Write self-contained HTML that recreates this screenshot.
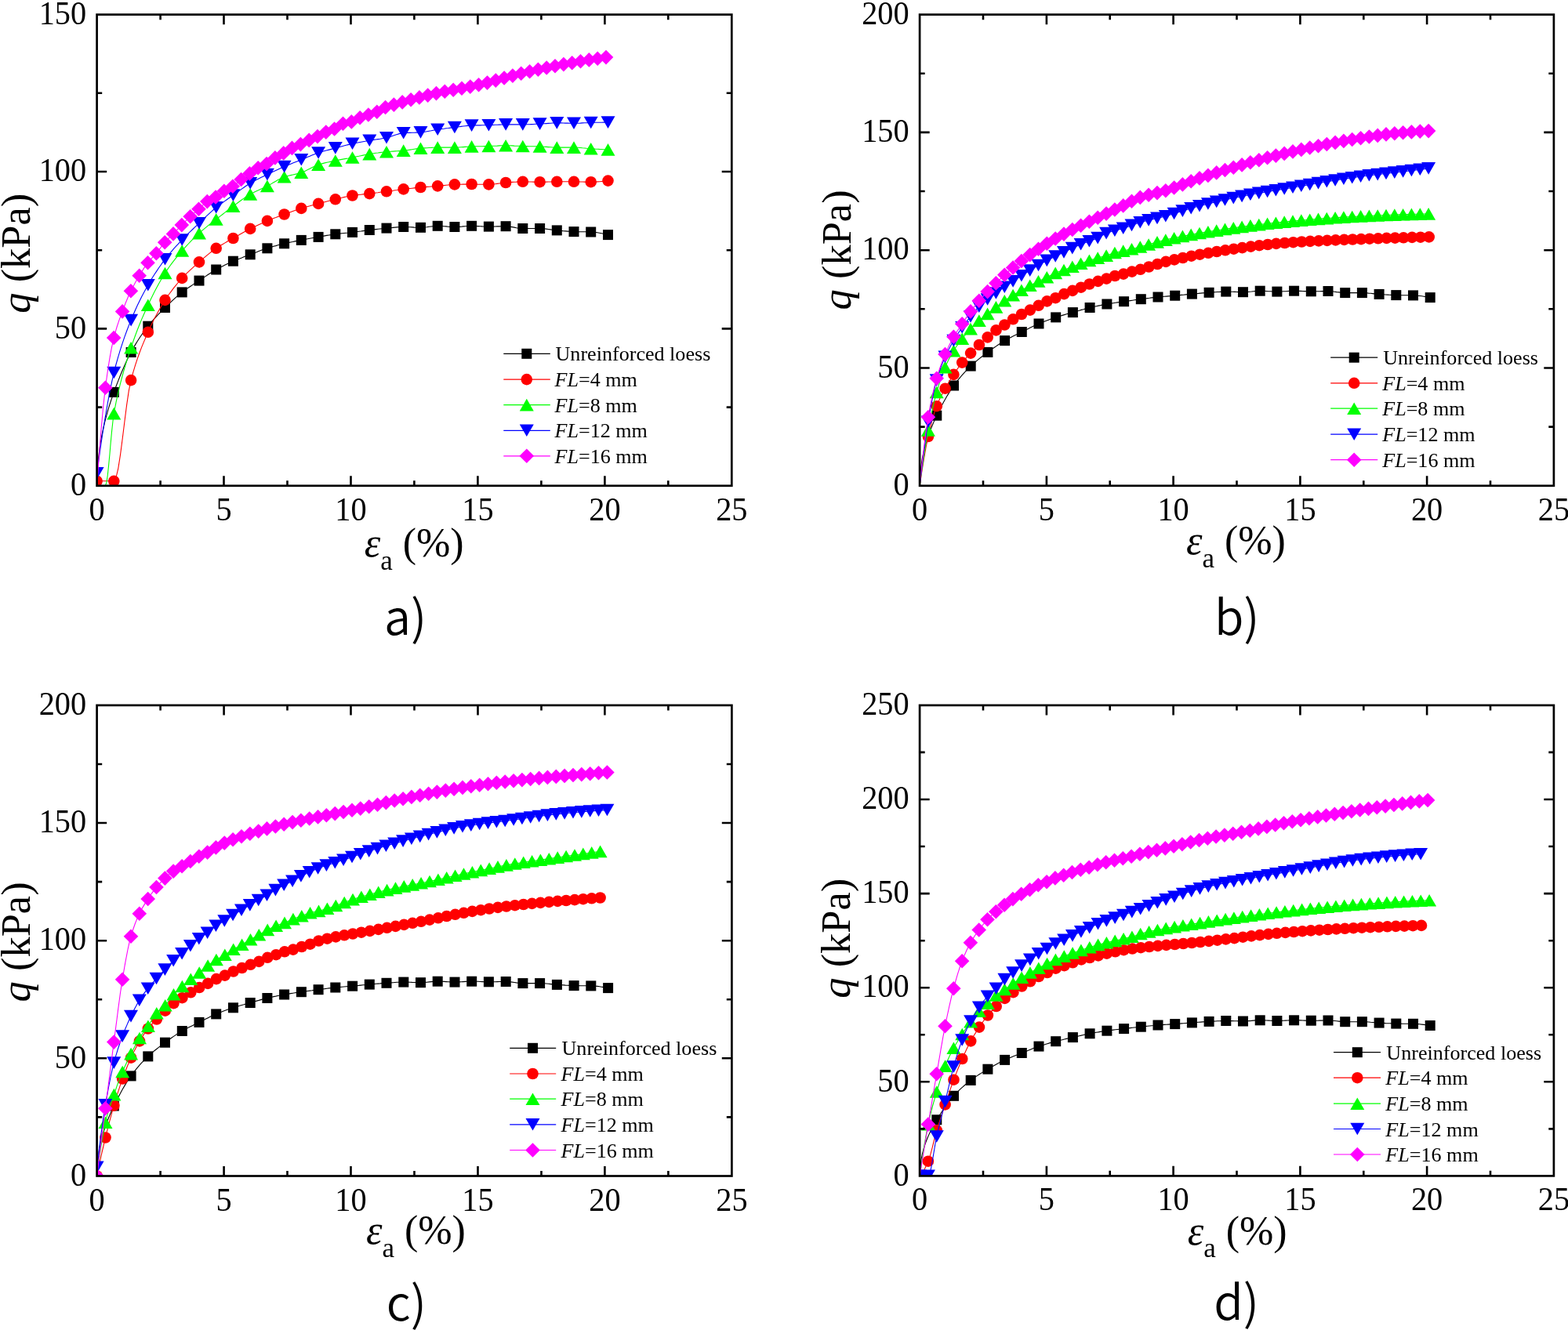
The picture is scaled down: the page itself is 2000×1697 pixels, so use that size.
<!DOCTYPE html>
<html><head><meta charset="utf-8"><title>Stress-strain curves</title>
<style>html,body{margin:0;padding:0;background:#fff;overflow:hidden}svg{display:block}</style></head>
<body><svg width="2000" height="1697" viewBox="0 0 2000 1697">
<rect width="2000" height="1697" fill="#fff"/>
<clipPath id="clipa"><rect x="123.6" y="18.6" width="809.7" height="601.2"/></clipPath>
<g clip-path="url(#clipa)">
<path d="M123.6 619.8L125.3 586.7L126.9 573.0L128.6 562.4L130.3 553.5L132.0 545.7L133.6 538.7L135.3 532.2L137.0 526.1L138.6 520.4L140.3 515.0L142.0 509.9L143.7 505.0L145.3 500.4L145.3 500.4L148.0 493.0L150.8 485.9L153.5 479.0L156.2 472.5L158.9 466.2L161.6 460.3L164.3 454.7L167.1 449.5L169.8 444.6L172.5 439.9L175.2 435.5L177.9 431.3L180.6 427.2L183.4 423.4L186.1 419.7L188.8 416.2L191.5 412.8L194.2 409.6L196.9 406.5L199.7 403.6L202.4 400.7L205.1 398.0L207.8 395.2L210.5 392.5L213.2 389.9L215.9 387.3L218.7 384.7L221.4 382.2L224.1 379.7L226.8 377.3L229.5 375.1L232.2 372.9L235.0 370.8L237.7 368.9L240.4 367.0L243.1 365.2L245.8 363.4L248.5 361.6L251.3 359.9L254.0 358.1L256.7 356.3L259.4 354.4L262.1 352.6L264.8 350.8L267.6 349.0L270.3 347.3L273.0 345.6L275.7 344.0L278.4 342.5L281.1 341.1L283.9 339.7L286.6 338.3L289.3 337.0L292.0 335.7L294.7 334.4L297.4 333.2L300.1 332.1L302.9 331.0L305.6 329.9L308.3 328.9L311.0 327.8L313.7 326.8L316.4 325.8L319.2 324.8L321.9 323.8L324.6 322.7L327.3 321.7L330.0 320.6L332.7 319.6L335.5 318.6L338.2 317.7L340.9 316.8L343.6 315.9L346.3 315.1L349.0 314.3L351.8 313.6L354.5 312.8L357.2 312.1L359.9 311.4L362.6 310.8L365.3 310.2L368.1 309.6L370.8 309.0L373.5 308.5L376.2 307.9L378.9 307.4L381.6 306.9L384.3 306.4L387.1 305.9L389.8 305.3L392.5 304.8L395.2 304.3L397.9 303.8L400.6 303.3L403.4 302.8L406.1 302.4L408.8 301.9L411.5 301.4L414.2 300.9L416.9 300.4L419.7 300.0L422.4 299.6L425.1 299.1L427.8 298.8L430.5 298.4L433.2 298.1L436.0 297.8L438.7 297.5L441.4 297.2L444.1 297.0L446.8 296.7L449.5 296.4L452.3 296.0L455.0 295.7L457.7 295.3L460.4 295.0L463.1 294.6L465.8 294.2L468.5 293.9L471.3 293.5L474.0 293.2L476.7 292.9L479.4 292.6L482.1 292.3L484.8 292.0L487.6 291.7L490.3 291.4L493.0 291.1L495.7 290.9L498.4 290.6L501.1 290.4L503.9 290.1L506.6 289.9L509.3 289.7L512.0 289.6L514.7 289.5L517.4 289.6L520.2 289.7L522.9 289.8L525.6 289.9L528.3 290.1L531.0 290.2L533.7 290.3L536.5 290.3L539.2 290.3L541.9 290.0L544.6 289.7L547.3 289.3L550.0 289.0L552.7 288.7L555.5 288.4L558.2 288.3L560.9 288.4L563.6 288.5L566.3 288.7L569.0 288.9L571.8 289.2L574.5 289.4L577.2 289.5L579.9 289.5L582.6 289.5L585.3 289.4L588.1 289.2L590.8 288.9L593.5 288.7L596.2 288.5L598.9 288.4L601.6 288.3L604.4 288.4L607.1 288.5L609.8 288.6L612.5 288.7L615.2 288.9L617.9 289.0L620.7 289.1L623.4 289.1L626.1 289.1L628.8 289.1L631.5 289.0L634.2 288.9L637.0 288.9L639.7 288.8L642.4 288.8L645.1 288.7L647.8 288.9L650.5 289.2L653.2 289.6L656.0 290.1L658.7 290.7L661.4 291.1L664.1 291.4L666.8 291.5L669.5 291.5L672.3 291.5L675.0 291.5L677.7 291.5L680.4 291.5L683.1 291.5L685.8 291.5L688.6 291.5L691.3 291.6L694.0 291.8L696.7 292.1L699.4 292.5L702.1 292.9L704.9 293.3L707.6 293.7L710.3 293.9L713.0 294.2L715.7 294.4L718.4 294.7L721.2 294.9L723.9 295.1L726.6 295.3L729.3 295.4L732.0 295.6L734.7 295.6L737.4 295.7L740.2 295.7L742.9 295.7L745.6 295.8L748.3 295.8L751.0 295.9L753.7 296.0L756.5 296.1L759.2 296.4L761.9 296.7L764.6 297.2L767.3 297.7L770.0 298.3L772.8 298.9L775.5 299.6" fill="none" stroke="#000000" stroke-width="1.1"/>
<g fill="#000000"><rect x="138.8" y="493.9" width="13.0" height="13.0"/><rect x="160.6" y="443.0" width="13.0" height="13.0"/><rect x="182.3" y="409.7" width="13.0" height="13.0"/><rect x="204.0" y="386.0" width="13.0" height="13.0"/><rect x="225.7" y="366.4" width="13.0" height="13.0"/><rect x="247.5" y="351.6" width="13.0" height="13.0"/><rect x="269.2" y="337.5" width="13.0" height="13.0"/><rect x="290.9" y="326.7" width="13.0" height="13.0"/><rect x="312.7" y="318.3" width="13.0" height="13.0"/><rect x="334.4" y="310.3" width="13.0" height="13.0"/><rect x="356.1" y="304.3" width="13.0" height="13.0"/><rect x="377.8" y="299.9" width="13.0" height="13.0"/><rect x="399.6" y="295.9" width="13.0" height="13.0"/><rect x="421.3" y="292.3" width="13.0" height="13.0"/><rect x="443.0" y="289.9" width="13.0" height="13.0"/><rect x="464.8" y="287.0" width="13.0" height="13.0"/><rect x="486.5" y="284.6" width="13.0" height="13.0"/><rect x="508.2" y="283.0" width="13.0" height="13.0"/><rect x="530.0" y="283.8" width="13.0" height="13.0"/><rect x="551.7" y="281.8" width="13.0" height="13.0"/><rect x="573.4" y="283.0" width="13.0" height="13.0"/><rect x="595.1" y="281.8" width="13.0" height="13.0"/><rect x="616.9" y="282.6" width="13.0" height="13.0"/><rect x="638.6" y="282.2" width="13.0" height="13.0"/><rect x="660.3" y="285.0" width="13.0" height="13.0"/><rect x="682.1" y="285.0" width="13.0" height="13.0"/><rect x="703.8" y="287.4" width="13.0" height="13.0"/><rect x="725.5" y="289.1" width="13.0" height="13.0"/><rect x="747.2" y="289.5" width="13.0" height="13.0"/><rect x="769.0" y="293.1" width="13.0" height="13.0"/></g>
<path d="M123.6 613.8L125.0 613.8L126.3 613.8L127.7 613.8L129.0 613.8L130.4 613.8L131.7 613.8L133.1 613.8L134.4 613.8L135.8 613.8L137.2 613.8L138.5 613.8L139.9 613.8L141.2 613.8L142.6 613.8L144.0 613.8L145.3 613.8L148.0 609.4L150.8 597.6L153.5 580.4L156.2 559.8L158.9 538.0L161.6 516.9L164.3 498.6L167.1 485.1L169.8 475.2L172.5 466.2L175.2 457.9L177.9 450.2L180.6 443.1L183.4 436.4L186.1 430.0L188.8 423.8L191.5 417.8L194.2 412.1L196.9 406.6L199.7 401.4L202.4 396.4L205.1 391.7L207.8 387.2L210.5 382.9L213.2 378.9L215.9 375.0L218.7 371.3L221.4 367.7L224.1 364.3L226.8 361.0L229.5 357.9L232.2 354.9L235.0 352.0L237.7 349.2L240.4 346.6L243.1 344.1L245.8 341.6L248.5 339.2L251.3 336.8L254.0 334.4L256.7 332.1L259.4 329.7L262.1 327.4L264.8 325.1L267.6 322.9L270.3 320.8L273.0 318.7L275.7 316.8L278.4 315.0L281.1 313.3L283.9 311.7L286.6 310.1L289.3 308.5L292.0 307.0L294.7 305.5L297.4 304.0L300.1 302.4L302.9 300.9L305.6 299.3L308.3 297.8L311.0 296.3L313.7 294.8L316.4 293.3L319.2 291.9L321.9 290.6L324.6 289.3L327.3 288.0L330.0 286.7L332.7 285.5L335.5 284.3L338.2 283.1L340.9 281.9L343.6 280.8L346.3 279.7L349.0 278.6L351.8 277.6L354.5 276.5L357.2 275.5L359.9 274.5L362.6 273.5L365.3 272.5L368.1 271.5L370.8 270.5L373.5 269.5L376.2 268.6L378.9 267.7L381.6 266.8L384.3 265.9L387.1 265.1L389.8 264.3L392.5 263.5L395.2 262.8L397.9 262.0L400.6 261.3L403.4 260.6L406.1 259.9L408.8 259.2L411.5 258.4L414.2 257.7L416.9 257.0L419.7 256.3L422.4 255.6L425.1 254.9L427.8 254.3L430.5 253.6L433.2 252.9L436.0 252.3L438.7 251.6L441.4 251.0L444.1 250.4L446.8 249.9L449.5 249.5L452.3 249.1L455.0 248.8L457.7 248.5L460.4 248.2L463.1 247.9L465.8 247.6L468.5 247.4L471.3 247.1L474.0 246.7L476.7 246.4L479.4 246.0L482.1 245.7L484.8 245.3L487.6 245.0L490.3 244.6L493.0 244.3L495.7 243.9L498.4 243.5L501.1 243.2L503.9 242.8L506.6 242.5L509.3 242.1L512.0 241.8L514.7 241.4L517.4 241.1L520.2 240.8L522.9 240.5L525.6 240.2L528.3 239.9L531.0 239.6L533.7 239.3L536.5 239.0L539.2 238.8L541.9 238.6L544.6 238.4L547.3 238.2L550.0 238.0L552.7 237.8L555.5 237.6L558.2 237.4L560.9 237.2L563.6 236.9L566.3 236.6L569.0 236.3L571.8 236.0L574.5 235.8L577.2 235.6L579.9 235.4L582.6 235.4L585.3 235.3L588.1 235.2L590.8 235.1L593.5 235.1L596.2 235.1L598.9 235.0L601.6 235.0L604.4 235.0L607.1 235.1L609.8 235.2L612.5 235.2L615.2 235.3L617.9 235.4L620.7 235.4L623.4 235.4L626.1 235.4L628.8 235.1L631.5 234.8L634.2 234.4L637.0 234.0L639.7 233.6L642.4 233.3L645.1 233.0L647.8 232.8L650.5 232.6L653.2 232.4L656.0 232.2L658.7 232.1L661.4 231.9L664.1 231.9L666.8 231.8L669.5 231.8L672.3 231.9L675.0 232.0L677.7 232.0L680.4 232.1L683.1 232.2L685.8 232.2L688.6 232.2L691.3 232.2L694.0 232.2L696.7 232.1L699.4 232.0L702.1 232.0L704.9 231.9L707.6 231.8L710.3 231.8L713.0 231.8L715.7 231.8L718.4 231.8L721.2 231.8L723.9 231.8L726.6 231.8L729.3 231.8L732.0 231.8L734.7 231.8L737.4 231.9L740.2 232.0L742.9 232.0L745.6 232.1L748.3 232.2L751.0 232.2L753.7 232.2L756.5 232.2L759.2 232.1L761.9 231.9L764.6 231.8L767.3 231.5L770.0 231.2L772.8 230.9L775.5 230.6" fill="none" stroke="#ff0000" stroke-width="1.1"/>
<g fill="#ff0000"><circle cx="123.6" cy="613.8" r="7.3"/><circle cx="145.3" cy="613.8" r="7.3"/><circle cx="167.1" cy="485.1" r="7.3"/><circle cx="188.8" cy="423.8" r="7.3"/><circle cx="210.5" cy="382.9" r="7.3"/><circle cx="232.2" cy="354.9" r="7.3"/><circle cx="254.0" cy="334.4" r="7.3"/><circle cx="275.7" cy="316.8" r="7.3"/><circle cx="297.4" cy="304.0" r="7.3"/><circle cx="319.2" cy="291.9" r="7.3"/><circle cx="340.9" cy="281.9" r="7.3"/><circle cx="362.6" cy="273.5" r="7.3"/><circle cx="384.3" cy="265.9" r="7.3"/><circle cx="406.1" cy="259.9" r="7.3"/><circle cx="427.8" cy="254.3" r="7.3"/><circle cx="449.5" cy="249.5" r="7.3"/><circle cx="471.3" cy="247.1" r="7.3"/><circle cx="493.0" cy="244.3" r="7.3"/><circle cx="514.7" cy="241.4" r="7.3"/><circle cx="536.5" cy="239.0" r="7.3"/><circle cx="558.2" cy="237.4" r="7.3"/><circle cx="579.9" cy="235.4" r="7.3"/><circle cx="601.6" cy="235.0" r="7.3"/><circle cx="623.4" cy="235.4" r="7.3"/><circle cx="645.1" cy="233.0" r="7.3"/><circle cx="666.8" cy="231.8" r="7.3"/><circle cx="688.6" cy="232.2" r="7.3"/><circle cx="710.3" cy="231.8" r="7.3"/><circle cx="732.0" cy="231.8" r="7.3"/><circle cx="753.7" cy="232.2" r="7.3"/><circle cx="775.5" cy="230.6" r="7.3"/></g>
<path d="M123.6 623.8L125.0 623.7L126.3 623.5L127.7 623.2L129.0 622.8L130.4 622.2L131.7 621.5L133.1 620.7L134.4 619.8L135.8 615.9L137.2 607.1L138.5 594.8L139.9 580.3L141.2 564.9L142.6 550.1L144.0 537.2L145.3 527.6L148.0 513.4L150.8 500.7L153.5 489.3L156.2 479.0L158.9 469.5L161.6 460.6L164.3 452.1L167.1 443.8L169.8 435.8L172.5 428.2L175.2 421.0L177.9 414.2L180.6 407.6L183.4 401.3L186.1 395.3L188.8 389.3L191.5 383.6L194.2 378.0L196.9 372.5L199.7 367.3L202.4 362.2L205.1 357.4L207.8 352.8L210.5 348.5L213.2 344.4L215.9 340.5L218.7 336.7L221.4 333.2L224.1 329.7L226.8 326.4L229.5 323.2L232.2 320.0L235.0 316.9L237.7 313.9L240.4 311.0L243.1 308.1L245.8 305.3L248.5 302.7L251.3 300.1L254.0 297.6L256.7 295.1L259.4 292.8L262.1 290.6L264.8 288.4L267.6 286.3L270.3 284.2L273.0 282.1L275.7 279.9L278.4 277.8L281.1 275.6L283.9 273.5L286.6 271.4L289.3 269.2L292.0 267.2L294.7 265.1L297.4 263.1L300.1 261.1L302.9 259.0L305.6 257.0L308.3 255.0L311.0 253.1L313.7 251.2L316.4 249.5L319.2 247.9L321.9 246.4L324.6 245.0L327.3 243.7L330.0 242.5L332.7 241.3L335.5 240.0L338.2 238.8L340.9 237.4L343.6 236.0L346.3 234.4L349.0 232.8L351.8 231.2L354.5 229.6L357.2 228.2L359.9 226.9L362.6 225.8L365.3 224.9L368.1 224.2L370.8 223.6L373.5 223.0L376.2 222.4L378.9 221.7L381.6 221.0L384.3 220.2L387.1 219.2L389.8 217.9L392.5 216.6L395.2 215.2L397.9 213.7L400.6 212.4L403.4 211.2L406.1 210.2L408.8 209.4L411.5 208.6L414.2 207.9L416.9 207.3L419.7 206.7L422.4 206.1L425.1 205.5L427.8 205.0L430.5 204.4L433.2 203.9L436.0 203.4L438.7 202.9L441.4 202.4L444.1 202.0L446.8 201.5L449.5 201.0L452.3 200.4L455.0 199.8L457.7 199.3L460.4 198.7L463.1 198.1L465.8 197.5L468.5 197.0L471.3 196.6L474.0 196.1L476.7 195.7L479.4 195.3L482.1 195.0L484.8 194.6L487.6 194.3L490.3 194.0L493.0 193.7L495.7 193.5L498.4 193.3L501.1 193.1L503.9 192.9L506.6 192.8L509.3 192.6L512.0 192.4L514.7 192.1L517.4 191.9L520.2 191.5L522.9 191.1L525.6 190.7L528.3 190.3L531.0 189.9L533.7 189.6L536.5 189.3L539.2 189.1L541.9 188.9L544.6 188.7L547.3 188.5L550.0 188.4L552.7 188.2L555.5 188.2L558.2 188.1L560.9 188.1L563.6 188.1L566.3 188.1L569.0 188.1L571.8 188.1L574.5 188.1L577.2 188.1L579.9 188.1L582.6 188.1L585.3 188.0L588.1 187.8L590.8 187.6L593.5 187.4L596.2 187.2L598.9 187.0L601.6 186.9L604.4 186.9L607.1 186.8L609.8 186.8L612.5 186.7L615.2 186.7L617.9 186.6L620.7 186.6L623.4 186.5L626.1 186.4L628.8 186.3L631.5 186.2L634.2 186.1L637.0 185.9L639.7 185.8L642.4 185.8L645.1 185.7L647.8 185.8L650.5 185.8L653.2 185.9L656.0 186.1L658.7 186.2L661.4 186.3L664.1 186.4L666.8 186.5L669.5 186.6L672.3 186.6L675.0 186.7L677.7 186.7L680.4 186.8L683.1 186.8L685.8 186.9L688.6 186.9L691.3 187.0L694.0 187.2L696.7 187.4L699.4 187.6L702.1 187.8L704.9 188.0L707.6 188.1L710.3 188.1L713.0 188.1L715.7 188.1L718.4 188.1L721.2 188.1L723.9 188.1L726.6 188.1L729.3 188.1L732.0 188.1L734.7 188.2L737.4 188.3L740.2 188.5L742.9 188.8L745.6 189.0L748.3 189.3L751.0 189.5L753.7 189.7L756.5 189.9L759.2 190.1L761.9 190.2L764.6 190.4L767.3 190.5L770.0 190.7L772.8 190.8L775.5 190.9" fill="none" stroke="#00ff00" stroke-width="1.1"/>
<g fill="#00ff00"><path d="M123.6 616.0L132.6 631.6L114.6 631.6Z"/><path d="M145.3 519.8L154.3 535.4L136.3 535.4Z"/><path d="M167.1 436.0L176.1 451.6L158.1 451.6Z"/><path d="M188.8 381.5L197.8 397.1L179.8 397.1Z"/><path d="M210.5 340.7L219.5 356.3L201.5 356.3Z"/><path d="M232.2 312.2L241.2 327.8L223.2 327.8Z"/><path d="M254.0 289.8L263.0 305.4L245.0 305.4Z"/><path d="M275.7 272.1L284.7 287.7L266.7 287.7Z"/><path d="M297.4 255.3L306.4 270.9L288.4 270.9Z"/><path d="M319.2 240.1L328.2 255.7L310.2 255.7Z"/><path d="M340.9 229.6L349.9 245.2L331.9 245.2Z"/><path d="M362.6 218.0L371.6 233.6L353.6 233.6Z"/><path d="M384.3 212.4L393.3 228.0L375.3 228.0Z"/><path d="M406.1 202.4L415.1 218.0L397.1 218.0Z"/><path d="M427.8 197.2L436.8 212.8L418.8 212.8Z"/><path d="M449.5 193.2L458.5 208.8L440.5 208.8Z"/><path d="M471.3 188.8L480.3 204.4L462.3 204.4Z"/><path d="M493.0 185.9L502.0 201.5L484.0 201.5Z"/><path d="M514.7 184.3L523.7 199.9L505.7 199.9Z"/><path d="M536.5 181.5L545.5 197.1L527.5 197.1Z"/><path d="M558.2 180.3L567.2 195.9L549.2 195.9Z"/><path d="M579.9 180.3L588.9 195.9L570.9 195.9Z"/><path d="M601.6 179.1L610.6 194.7L592.6 194.7Z"/><path d="M623.4 178.7L632.4 194.3L614.4 194.3Z"/><path d="M645.1 177.9L654.1 193.5L636.1 193.5Z"/><path d="M666.8 178.7L675.8 194.3L657.8 194.3Z"/><path d="M688.6 179.1L697.6 194.7L679.6 194.7Z"/><path d="M710.3 180.3L719.3 195.9L701.3 195.9Z"/><path d="M732.0 180.3L741.0 195.9L723.0 195.9Z"/><path d="M753.7 181.9L762.7 197.5L744.7 197.5Z"/><path d="M775.5 183.1L784.5 198.7L766.5 198.7Z"/></g>
<path d="M123.6 603.8L126.3 584.3L129.0 565.5L131.7 547.6L134.5 530.8L137.2 515.0L139.9 500.5L142.6 487.3L145.3 475.5L148.0 465.0L150.8 455.2L153.5 446.2L156.2 437.8L158.9 429.9L161.6 422.5L164.3 415.4L167.1 408.6L169.8 402.0L172.5 395.8L175.2 389.8L177.9 384.2L180.6 378.7L183.4 373.5L186.1 368.5L188.8 363.7L191.5 359.0L194.2 354.5L196.9 350.2L199.7 346.1L202.4 342.0L205.1 338.2L207.8 334.4L210.5 330.8L213.2 327.4L215.9 324.0L218.7 320.8L221.4 317.7L224.1 314.7L226.8 311.8L229.5 308.8L232.2 306.0L235.0 303.2L237.7 300.4L240.4 297.7L243.1 295.1L245.8 292.5L248.5 289.9L251.3 287.3L254.0 284.7L256.7 282.1L259.4 279.5L262.1 276.9L264.8 274.3L267.6 271.8L270.3 269.3L273.0 267.0L275.7 264.7L278.4 262.5L281.1 260.5L283.9 258.5L286.6 256.6L289.3 254.7L292.0 252.8L294.7 251.0L297.4 249.1L300.1 247.1L302.9 245.1L305.6 243.1L308.3 241.1L311.0 239.2L313.7 237.3L316.4 235.5L319.2 233.8L321.9 232.3L324.6 230.8L327.3 229.3L330.0 227.9L332.7 226.6L335.5 225.2L338.2 223.9L340.9 222.6L343.6 221.3L346.3 220.0L349.0 218.7L351.8 217.4L354.5 216.2L357.2 215.0L359.9 213.8L362.6 212.6L365.3 211.4L368.1 210.3L370.8 209.2L373.5 208.1L376.2 207.0L378.9 205.9L381.6 204.9L384.3 203.8L387.1 202.6L389.8 201.5L392.5 200.3L395.2 199.2L397.9 198.0L400.6 196.9L403.4 195.9L406.1 195.0L408.8 194.1L411.5 193.3L414.2 192.5L416.9 191.8L419.7 191.1L422.4 190.4L425.1 189.7L427.8 188.9L430.5 188.2L433.2 187.5L436.0 186.7L438.7 186.0L441.4 185.3L444.1 184.6L446.8 183.9L449.5 183.3L452.3 182.8L455.0 182.2L457.7 181.7L460.4 181.2L463.1 180.7L465.8 180.3L468.5 179.8L471.3 179.3L474.0 178.9L476.7 178.4L479.4 178.0L482.1 177.6L484.8 177.2L487.6 176.7L490.3 176.2L493.0 175.7L495.7 175.0L498.4 174.2L501.1 173.3L503.9 172.3L506.6 171.4L509.3 170.6L512.0 170.0L514.7 169.7L517.4 169.5L520.2 169.4L522.9 169.4L525.6 169.3L528.3 169.2L531.0 169.1L533.7 169.0L536.5 168.9L539.2 168.7L541.9 168.3L544.6 167.8L547.3 167.3L550.0 166.8L552.7 166.2L555.5 165.7L558.2 165.3L560.9 164.9L563.6 164.5L566.3 164.2L569.0 163.8L571.8 163.5L574.5 163.1L577.2 162.8L579.9 162.5L582.6 162.1L585.3 161.8L588.1 161.4L590.8 161.0L593.5 160.7L596.2 160.4L598.9 160.2L601.6 160.1L604.4 160.0L607.1 159.9L609.8 159.9L612.5 159.9L615.2 159.8L617.9 159.8L620.7 159.7L623.4 159.7L626.1 159.6L628.8 159.5L631.5 159.3L634.2 159.2L637.0 159.1L639.7 159.0L642.4 158.9L645.1 158.9L647.8 158.9L650.5 158.9L653.2 158.9L656.0 158.9L658.7 158.9L661.4 158.9L664.1 158.9L666.8 158.9L669.5 158.9L672.3 158.8L675.0 158.7L677.7 158.6L680.4 158.5L683.1 158.3L685.8 158.2L688.6 158.1L691.3 157.9L694.0 157.8L696.7 157.6L699.4 157.4L702.1 157.2L704.9 157.0L707.6 156.9L710.3 156.9L713.0 156.9L715.7 156.9L718.4 157.0L721.2 157.1L723.9 157.1L726.6 157.2L729.3 157.3L732.0 157.3L734.7 157.2L737.4 157.2L740.2 157.1L742.9 156.9L745.6 156.8L748.3 156.7L751.0 156.6L753.7 156.5L756.5 156.4L759.2 156.3L761.9 156.3L764.6 156.2L767.3 156.2L770.0 156.1L772.8 156.1L775.5 156.1" fill="none" stroke="#0000ff" stroke-width="1.1"/>
<g fill="#0000ff"><path d="M114.6 596.0L132.6 596.0L123.6 611.6Z"/><path d="M136.3 467.7L154.3 467.7L145.3 483.3Z"/><path d="M158.1 400.8L176.1 400.8L167.1 416.4Z"/><path d="M179.8 355.9L197.8 355.9L188.8 371.5Z"/><path d="M201.5 323.0L219.5 323.0L210.5 338.6Z"/><path d="M223.2 298.2L241.2 298.2L232.2 313.8Z"/><path d="M245.0 276.9L263.0 276.9L254.0 292.5Z"/><path d="M266.7 256.9L284.7 256.9L275.7 272.5Z"/><path d="M288.4 241.3L306.4 241.3L297.4 256.9Z"/><path d="M310.2 226.0L328.2 226.0L319.2 241.6Z"/><path d="M331.9 214.8L349.9 214.8L340.9 230.4Z"/><path d="M353.6 204.8L371.6 204.8L362.6 220.4Z"/><path d="M375.3 196.0L393.3 196.0L384.3 211.6Z"/><path d="M397.1 187.2L415.1 187.2L406.1 202.8Z"/><path d="M418.8 181.1L436.8 181.1L427.8 196.7Z"/><path d="M440.5 175.5L458.5 175.5L449.5 191.1Z"/><path d="M462.3 171.5L480.3 171.5L471.3 187.1Z"/><path d="M484.0 167.9L502.0 167.9L493.0 183.5Z"/><path d="M505.7 161.9L523.7 161.9L514.7 177.5Z"/><path d="M527.5 161.1L545.5 161.1L536.5 176.7Z"/><path d="M549.2 157.5L567.2 157.5L558.2 173.1Z"/><path d="M570.9 154.7L588.9 154.7L579.9 170.3Z"/><path d="M592.6 152.3L610.6 152.3L601.6 167.9Z"/><path d="M614.4 151.9L632.4 151.9L623.4 167.5Z"/><path d="M636.1 151.1L654.1 151.1L645.1 166.7Z"/><path d="M657.8 151.1L675.8 151.1L666.8 166.7Z"/><path d="M679.6 150.3L697.6 150.3L688.6 165.9Z"/><path d="M701.3 149.1L719.3 149.1L710.3 164.7Z"/><path d="M723.0 149.5L741.0 149.5L732.0 165.1Z"/><path d="M744.7 148.7L762.7 148.7L753.7 164.3Z"/><path d="M766.5 148.3L784.5 148.3L775.5 163.9Z"/></g>
<path d="M123.6 619.8L125.0 600.7L126.3 582.3L127.7 564.9L129.0 548.4L130.4 533.0L131.7 518.9L133.1 506.1L134.4 494.8L135.8 484.5L137.1 475.0L138.5 466.1L139.8 457.8L141.2 450.2L142.5 443.2L143.9 436.8L145.2 431.0L146.6 425.8L148.0 420.9L149.3 416.5L150.7 412.4L152.0 408.4L153.4 404.7L154.7 401.0L156.1 397.4L157.4 393.7L158.8 390.2L160.1 386.8L161.5 383.5L162.8 380.2L164.2 377.1L165.5 374.2L166.9 371.3L168.2 368.6L169.6 365.9L171.0 363.4L172.3 360.9L173.7 358.5L175.0 356.2L176.4 353.9L177.7 351.7L179.1 349.4L180.4 347.2L181.8 345.1L183.1 342.9L184.5 340.9L185.8 338.9L187.2 337.0L188.5 335.2L189.9 333.6L191.2 332.0L192.6 330.5L193.9 329.1L195.3 327.7L196.7 326.3L198.0 324.8L199.4 323.2L200.7 321.5L202.1 319.8L203.4 317.9L204.8 316.1L206.1 314.3L207.5 312.5L208.8 310.8L210.2 309.2L211.5 307.7L212.9 306.3L214.2 304.9L215.6 303.6L216.9 302.3L218.3 301.0L219.7 299.7L221.0 298.4L222.4 297.0L223.7 295.6L225.1 294.2L226.4 292.7L227.8 291.3L229.1 289.9L230.5 288.5L231.8 287.1L233.2 285.8L234.5 284.4L235.9 283.0L237.2 281.6L238.6 280.3L239.9 278.9L241.3 277.6L242.7 276.3L244.0 275.1L245.4 273.8L246.7 272.6L248.1 271.4L249.4 270.3L250.8 269.1L252.1 267.9L253.5 266.7L254.8 265.5L256.2 264.2L257.5 262.9L258.9 261.6L260.2 260.3L261.6 259.1L262.9 258.0L264.3 257.1L265.7 256.2L267.0 255.5L268.4 254.8L269.7 254.2L271.1 253.6L272.4 252.9L273.8 252.2L275.1 251.5L276.5 250.6L277.8 249.7L279.2 248.7L280.5 247.7L281.9 246.7L283.2 245.7L284.6 244.7L285.9 243.8L287.3 243.0L288.7 242.3L290.0 241.6L291.4 240.9L292.7 240.2L294.1 239.5L295.4 238.7L296.8 237.8L298.1 236.9L299.5 235.8L300.8 234.7L302.2 233.6L303.5 232.4L304.9 231.2L306.2 230.1L307.6 229.0L308.9 228.0L310.3 227.0L311.6 226.1L313.0 225.1L314.4 224.2L315.7 223.3L317.1 222.3L318.4 221.4L319.8 220.5L321.1 219.5L322.5 218.6L323.8 217.6L325.2 216.7L326.5 215.8L327.9 215.0L329.2 214.2L330.6 213.5L331.9 212.8L333.3 212.2L334.6 211.6L336.0 211.0L337.4 210.4L338.7 209.7L340.1 209.0L341.4 208.2L342.8 207.2L344.1 206.3L345.5 205.2L346.8 204.2L348.2 203.2L349.5 202.3L350.9 201.4L352.2 200.5L353.6 199.8L354.9 199.0L356.3 198.3L357.6 197.6L359.0 196.9L360.4 196.1L361.7 195.4L363.1 194.6L364.4 193.7L365.8 192.9L367.1 192.1L368.5 191.2L369.8 190.4L371.2 189.7L372.5 188.9L373.9 188.3L375.2 187.6L376.6 187.1L377.9 186.5L379.3 185.9L380.6 185.3L382.0 184.7L383.4 184.1L384.7 183.5L386.1 182.8L387.4 182.2L388.8 181.5L390.1 180.9L391.5 180.2L392.8 179.6L394.2 178.9L395.5 178.3L396.9 177.7L398.2 177.1L399.6 176.5L400.9 175.9L402.3 175.3L403.6 174.7L405.0 174.1L406.4 173.4L407.7 172.7L409.1 172.0L410.4 171.3L411.8 170.6L413.1 169.9L414.5 169.2L415.8 168.6L417.2 168.0L418.5 167.5L419.9 167.1L421.2 166.6L422.6 166.1L423.9 165.6L425.3 165.1L426.6 164.5L428.0 163.7L429.3 162.8L430.7 161.9L432.1 160.9L433.4 159.9L434.8 159.0L436.1 158.2L437.5 157.7L438.8 157.3L440.2 157.0L441.5 156.7L442.9 156.5L444.2 156.3L445.6 156.1L446.9 155.8L448.3 155.4L449.6 154.9L451.0 154.4L452.3 153.7L453.7 153.0L455.1 152.2L456.4 151.5L457.8 150.8L459.1 150.2L460.5 149.7L461.8 149.2L463.2 148.7L464.5 148.3L465.9 147.8L467.2 147.4L468.6 147.0L469.9 146.5L471.3 146.1L472.6 145.6L474.0 145.2L475.3 144.8L476.7 144.3L478.1 143.9L479.4 143.4L480.8 142.8L482.1 142.2L483.5 141.5L484.8 140.7L486.2 139.9L487.5 139.1L488.9 138.3L490.2 137.6L491.6 137.0L492.9 136.5L494.3 136.0L495.6 135.6L497.0 135.1L498.3 134.8L499.7 134.4L501.1 134.0L502.4 133.6L503.8 133.2L505.1 132.8L506.5 132.4L507.8 132.0L509.2 131.6L510.5 131.2L511.9 130.8L513.2 130.4L514.6 130.0L515.9 129.6L517.3 129.2L518.6 128.8L520.0 128.5L521.3 128.1L522.7 127.7L524.1 127.3L525.4 126.9L526.8 126.6L528.1 126.2L529.5 125.8L530.8 125.5L532.2 125.1L533.5 124.8L534.9 124.4L536.2 124.0L537.6 123.7L538.9 123.3L540.3 123.0L541.6 122.7L543.0 122.3L544.3 122.0L545.7 121.6L547.0 121.3L548.4 121.0L549.8 120.7L551.1 120.3L552.5 120.0L553.8 119.7L555.2 119.4L556.5 119.1L557.9 118.8L559.2 118.5L560.6 118.2L561.9 117.9L563.3 117.6L564.6 117.3L566.0 117.0L567.3 116.8L568.7 116.5L570.0 116.2L571.4 116.0L572.8 115.7L574.1 115.5L575.5 115.2L576.8 114.9L578.2 114.7L579.5 114.4L580.9 114.2L582.2 113.9L583.6 113.7L584.9 113.4L586.3 113.2L587.6 112.9L589.0 112.7L590.3 112.4L591.7 112.2L593.0 111.9L594.4 111.6L595.8 111.4L597.1 111.1L598.5 110.9L599.8 110.6L601.2 110.3L602.5 110.0L603.9 109.7L605.2 109.4L606.6 109.2L607.9 108.9L609.3 108.6L610.6 108.2L612.0 107.9L613.3 107.6L614.7 107.3L616.0 106.9L617.4 106.6L618.8 106.3L620.1 105.9L621.5 105.6L622.8 105.2L624.2 104.8L625.5 104.5L626.9 104.1L628.2 103.7L629.6 103.4L630.9 103.0L632.3 102.6L633.6 102.2L635.0 101.8L636.3 101.5L637.7 101.1L639.0 100.7L640.4 100.3L641.8 99.9L643.1 99.5L644.5 99.2L645.8 98.8L647.2 98.4L648.5 98.0L649.9 97.6L651.2 97.3L652.6 96.9L653.9 96.6L655.3 96.2L656.6 95.8L658.0 95.5L659.3 95.2L660.7 94.8L662.0 94.5L663.4 94.1L664.7 93.8L666.1 93.5L667.5 93.2L668.8 92.8L670.2 92.5L671.5 92.2L672.9 91.9L674.2 91.6L675.6 91.3L676.9 91.0L678.3 90.6L679.6 90.3L681.0 90.0L682.3 89.7L683.7 89.4L685.0 89.1L686.4 88.8L687.7 88.5L689.1 88.2L690.5 87.9L691.8 87.6L693.2 87.3L694.5 87.1L695.9 86.8L697.2 86.5L698.6 86.2L699.9 85.9L701.3 85.6L702.6 85.3L704.0 85.1L705.3 84.8L706.7 84.5L708.0 84.2L709.4 84.0L710.7 83.7L712.1 83.4L713.5 83.2L714.8 82.9L716.2 82.7L717.5 82.4L718.9 82.1L720.2 81.9L721.6 81.6L722.9 81.4L724.3 81.1L725.6 80.9L727.0 80.6L728.3 80.4L729.7 80.2L731.0 79.9L732.4 79.7L733.7 79.4L735.1 79.2L736.5 78.9L737.8 78.7L739.2 78.5L740.5 78.2L741.9 78.0L743.2 77.8L744.6 77.5L745.9 77.3L747.3 77.1L748.6 76.9L750.0 76.6L751.3 76.4L752.7 76.2L754.0 76.0L755.4 75.8L756.7 75.6L758.1 75.3L759.5 75.1L760.8 74.9L762.2 74.7L763.5 74.5L764.9 74.3L766.2 74.1L767.6 73.9L768.9 73.7L770.3 73.5L771.6 73.3L773.0 73.1" fill="none" stroke="#ff00ff" stroke-width="1.1"/>
<g fill="#ff00ff"><path d="M134.4 485.5L143.7 494.8L134.4 504.1L125.1 494.8Z"/><path d="M145.2 421.7L154.5 431.0L145.2 440.3L135.9 431.0Z"/><path d="M156.1 388.1L165.4 397.4L156.1 406.7L146.8 397.4Z"/><path d="M166.9 362.0L176.2 371.3L166.9 380.6L157.6 371.3Z"/><path d="M177.7 342.4L187.0 351.7L177.7 361.0L168.4 351.7Z"/><path d="M188.5 325.9L197.8 335.2L188.5 344.5L179.2 335.2Z"/><path d="M199.4 313.9L208.7 323.2L199.4 332.5L190.1 323.2Z"/><path d="M210.2 299.9L219.5 309.2L210.2 318.5L200.9 309.2Z"/><path d="M221.0 289.1L230.3 298.4L221.0 307.7L211.7 298.4Z"/><path d="M231.8 277.8L241.1 287.1L231.8 296.4L222.5 287.1Z"/><path d="M242.7 267.0L252.0 276.3L242.7 285.6L233.4 276.3Z"/><path d="M253.5 257.4L262.8 266.7L253.5 276.0L244.2 266.7Z"/><path d="M264.3 247.8L273.6 257.1L264.3 266.4L255.0 257.1Z"/><path d="M275.1 242.2L284.4 251.5L275.1 260.8L265.8 251.5Z"/><path d="M285.9 234.5L295.2 243.8L285.9 253.1L276.6 243.8Z"/><path d="M296.8 228.5L306.1 237.8L296.8 247.1L287.5 237.8Z"/><path d="M307.6 219.7L316.9 229.0L307.6 238.3L298.3 229.0Z"/><path d="M318.4 212.1L327.7 221.4L318.4 230.7L309.1 221.4Z"/><path d="M329.2 204.9L338.5 214.2L329.2 223.5L319.9 214.2Z"/><path d="M340.1 199.7L349.4 209.0L340.1 218.3L330.8 209.0Z"/><path d="M350.9 192.1L360.2 201.4L350.9 210.7L341.6 201.4Z"/><path d="M361.7 186.1L371.0 195.4L361.7 204.7L352.4 195.4Z"/><path d="M372.5 179.6L381.8 188.9L372.5 198.2L363.2 188.9Z"/><path d="M383.4 174.8L392.7 184.1L383.4 193.4L374.1 184.1Z"/><path d="M394.2 169.6L403.5 178.9L394.2 188.2L384.9 178.9Z"/><path d="M405.0 164.8L414.3 174.1L405.0 183.4L395.7 174.1Z"/><path d="M415.8 159.3L425.1 168.6L415.8 177.9L406.5 168.6Z"/><path d="M426.6 155.2L435.9 164.5L426.6 173.8L417.3 164.5Z"/><path d="M437.5 148.4L446.8 157.7L437.5 167.0L428.2 157.7Z"/><path d="M448.3 146.1L457.6 155.4L448.3 164.7L439.0 155.4Z"/><path d="M459.1 140.9L468.4 150.2L459.1 159.5L449.8 150.2Z"/><path d="M469.9 137.2L479.2 146.5L469.9 155.8L460.6 146.5Z"/><path d="M480.8 133.5L490.1 142.8L480.8 152.1L471.5 142.8Z"/><path d="M491.6 127.7L500.9 137.0L491.6 146.3L482.3 137.0Z"/><path d="M502.4 124.3L511.7 133.6L502.4 142.9L493.1 133.6Z"/><path d="M513.2 121.1L522.5 130.4L513.2 139.7L503.9 130.4Z"/><path d="M524.1 118.0L533.4 127.3L524.1 136.6L514.8 127.3Z"/><path d="M534.9 115.1L544.2 124.4L534.9 133.7L525.6 124.4Z"/><path d="M545.7 112.3L555.0 121.6L545.7 130.9L536.4 121.6Z"/><path d="M556.5 109.8L565.8 119.1L556.5 128.4L547.2 119.1Z"/><path d="M567.3 107.5L576.6 116.8L567.3 126.1L558.0 116.8Z"/><path d="M578.2 105.4L587.5 114.7L578.2 124.0L568.9 114.7Z"/><path d="M589.0 103.4L598.3 112.7L589.0 122.0L579.7 112.7Z"/><path d="M599.8 101.3L609.1 110.6L599.8 119.9L590.5 110.6Z"/><path d="M610.6 98.9L619.9 108.2L610.6 117.5L601.3 108.2Z"/><path d="M621.5 96.3L630.8 105.6L621.5 114.9L612.2 105.6Z"/><path d="M632.3 93.3L641.6 102.6L632.3 111.9L623.0 102.6Z"/><path d="M643.1 90.2L652.4 99.5L643.1 108.8L633.8 99.5Z"/><path d="M653.9 87.3L663.2 96.6L653.9 105.9L644.6 96.6Z"/><path d="M664.7 84.5L674.0 93.8L664.7 103.1L655.4 93.8Z"/><path d="M675.6 82.0L684.9 91.3L675.6 100.6L666.3 91.3Z"/><path d="M686.4 79.5L695.7 88.8L686.4 98.1L677.1 88.8Z"/><path d="M697.2 77.2L706.5 86.5L697.2 95.8L687.9 86.5Z"/><path d="M708.0 74.9L717.3 84.2L708.0 93.5L698.7 84.2Z"/><path d="M718.9 72.8L728.2 82.1L718.9 91.4L709.6 82.1Z"/><path d="M729.7 70.9L739.0 80.2L729.7 89.5L720.4 80.2Z"/><path d="M740.5 68.9L749.8 78.2L740.5 87.5L731.2 78.2Z"/><path d="M751.3 67.1L760.6 76.4L751.3 85.7L742.0 76.4Z"/><path d="M762.2 65.4L771.5 74.7L762.2 84.0L752.9 74.7Z"/><path d="M773.0 63.8L782.3 73.1L773.0 82.4L763.7 73.1Z"/></g>
</g>
<path d="M204.6 619.8V613.2M204.6 18.6V25.2M285.5 619.8V607.2M285.5 18.6V31.2M366.5 619.8V613.2M366.5 18.6V25.2M447.5 619.8V607.2M447.5 18.6V31.2M528.4 619.8V613.2M528.4 18.6V25.2M609.4 619.8V607.2M609.4 18.6V31.2M690.4 619.8V613.2M690.4 18.6V25.2M771.4 619.8V607.2M771.4 18.6V31.2M852.3 619.8V613.2M852.3 18.6V25.2M123.6 519.6H130.2M933.3 519.6H926.7M123.6 419.4H136.2M933.3 419.4H920.7M123.6 319.2H130.2M933.3 319.2H926.7M123.6 219.0H136.2M933.3 219.0H920.7M123.6 118.8H130.2M933.3 118.8H926.7" stroke="#000" stroke-width="2.6" fill="none"/>
<rect x="123.6" y="18.6" width="809.7" height="601.2" fill="none" stroke="#000" stroke-width="2.7"/>
<g font-family="Liberation Serif, serif" font-size="42.0"><text transform="translate(123.6 663.8) scale(0.96 1)" text-anchor="middle">0</text><text transform="translate(285.5 663.8) scale(0.96 1)" text-anchor="middle">5</text><text transform="translate(447.5 663.8) scale(0.96 1)" text-anchor="middle">10</text><text transform="translate(609.4 663.8) scale(0.96 1)" text-anchor="middle">15</text><text transform="translate(771.4 663.8) scale(0.96 1)" text-anchor="middle">20</text><text transform="translate(933.3 663.8) scale(0.96 1)" text-anchor="middle">25</text><text transform="translate(110.1 632.0) scale(0.96 1)" text-anchor="end">0</text><text transform="translate(110.1 431.6) scale(0.96 1)" text-anchor="end">50</text><text transform="translate(110.1 231.2) scale(0.96 1)" text-anchor="end">100</text><text transform="translate(110.1 30.8) scale(0.96 1)" text-anchor="end">150</text></g>
<g font-family="Liberation Serif, serif" font-size="26.1"><path d="M642.3 451.3H701.8" stroke="#000000" stroke-width="1.2"/><g fill="#000000"><rect x="665.3" y="444.8" width="13.0" height="13.0"/></g><text x="708.5" y="460.3">Unreinforced loess</text><path d="M642.3 484.1H701.8" stroke="#ff0000" stroke-width="1.2"/><g fill="#ff0000"><circle cx="671.8" cy="484.1" r="7.3"/></g><text x="707.5" y="493.1"><tspan font-style="italic">FL</tspan>=4 mm</text><path d="M642.3 516.6H701.8" stroke="#00ff00" stroke-width="1.2"/><g fill="#00ff00"><path d="M671.8 508.8L680.8 524.4L662.8 524.4Z"/></g><text x="707.5" y="525.6"><tspan font-style="italic">FL</tspan>=8 mm</text><path d="M642.3 549.3H701.8" stroke="#0000ff" stroke-width="1.2"/><g fill="#0000ff"><path d="M662.8 541.5L680.8 541.5L671.8 557.1Z"/></g><text x="707.5" y="558.3"><tspan font-style="italic">FL</tspan>=12 mm</text><path d="M642.3 581.8H701.8" stroke="#ff00ff" stroke-width="1.2"/><g fill="#ff00ff"><path d="M671.8 572.5L681.1 581.8L671.8 591.1L662.5 581.8Z"/></g><text x="707.5" y="590.8"><tspan font-style="italic">FL</tspan>=16 mm</text></g>
<text x="464.7" y="710.1" font-family="Liberation Serif, serif" font-size="52"><tspan font-style="italic">ε</tspan><tspan font-size="35" dy="16.5">a</tspan><tspan dy="-16.5"> (%)</tspan></text>
<text transform="translate(37.5 323.2) rotate(-90)" text-anchor="middle" font-family="Liberation Serif, serif" font-size="52.5"><tspan font-style="italic">q</tspan> (kPa)</text>
<text x="490.0" y="810.0" font-family="Noto Sans CJK SC, sans-serif" font-weight="350" font-size="61">a)</text>
<clipPath id="clipb"><rect x="1173.1" y="18.6" width="808.8" height="601.2"/></clipPath>
<g clip-path="url(#clipb)">
<path d="M1173.1 619.8L1174.8 595.0L1176.4 584.7L1178.1 576.8L1179.8 570.1L1181.4 564.2L1183.1 558.9L1184.8 554.1L1186.5 549.5L1188.1 545.3L1189.8 541.2L1191.5 537.4L1193.1 533.7L1194.8 530.2L1194.8 530.2L1197.5 524.7L1200.2 519.4L1202.9 514.2L1205.7 509.3L1208.4 504.6L1211.1 500.2L1213.8 496.0L1216.5 492.0L1219.2 488.4L1221.9 484.9L1224.6 481.6L1227.4 478.4L1230.1 475.4L1232.8 472.5L1235.5 469.7L1238.2 467.1L1240.9 464.6L1243.6 462.2L1246.4 459.9L1249.1 457.6L1251.8 455.5L1254.5 453.4L1257.2 451.4L1259.9 449.4L1262.6 447.4L1265.3 445.4L1268.1 443.5L1270.8 441.6L1273.5 439.7L1276.2 438.0L1278.9 436.3L1281.6 434.6L1284.3 433.1L1287.1 431.6L1289.8 430.2L1292.5 428.8L1295.2 427.5L1297.9 426.2L1300.6 424.8L1303.3 423.5L1306.0 422.1L1308.8 420.8L1311.5 419.4L1314.2 418.0L1316.9 416.7L1319.6 415.4L1322.3 414.2L1325.0 413.0L1327.7 411.9L1330.5 410.8L1333.2 409.7L1335.9 408.7L1338.6 407.7L1341.3 406.7L1344.0 405.8L1346.7 404.9L1349.5 404.0L1352.2 403.2L1354.9 402.4L1357.6 401.6L1360.3 400.8L1363.0 400.1L1365.7 399.3L1368.4 398.6L1371.2 397.8L1373.9 397.0L1376.6 396.2L1379.3 395.4L1382.0 394.7L1384.7 393.9L1387.4 393.2L1390.1 392.5L1392.9 391.9L1395.6 391.3L1398.3 390.7L1401.0 390.1L1403.7 389.6L1406.4 389.0L1409.1 388.5L1411.9 388.0L1414.6 387.6L1417.3 387.1L1420.0 386.7L1422.7 386.3L1425.4 385.9L1428.1 385.5L1430.8 385.1L1433.6 384.7L1436.3 384.3L1439.0 384.0L1441.7 383.6L1444.4 383.2L1447.1 382.8L1449.8 382.4L1452.6 382.1L1455.3 381.7L1458.0 381.4L1460.7 381.0L1463.4 380.6L1466.1 380.3L1468.8 379.9L1471.5 379.6L1474.3 379.3L1477.0 379.0L1479.7 378.8L1482.4 378.5L1485.1 378.3L1487.8 378.1L1490.5 377.9L1493.2 377.7L1496.0 377.4L1498.7 377.2L1501.4 377.0L1504.1 376.7L1506.8 376.4L1509.5 376.2L1512.2 375.9L1515.0 375.6L1517.7 375.4L1520.4 375.1L1523.1 374.9L1525.8 374.6L1528.5 374.4L1531.2 374.1L1533.9 373.9L1536.7 373.7L1539.4 373.5L1542.1 373.3L1544.8 373.1L1547.5 372.9L1550.2 372.7L1552.9 372.5L1555.6 372.4L1558.4 372.2L1561.1 372.1L1563.8 372.1L1566.5 372.1L1569.2 372.2L1571.9 372.3L1574.6 372.4L1577.4 372.5L1580.1 372.6L1582.8 372.7L1585.5 372.7L1588.2 372.6L1590.9 372.5L1593.6 372.2L1596.3 372.0L1599.1 371.7L1601.8 371.4L1604.5 371.3L1607.2 371.2L1609.9 371.2L1612.6 371.3L1615.3 371.5L1618.1 371.7L1620.8 371.8L1623.5 372.0L1626.2 372.1L1628.9 372.1L1631.6 372.1L1634.3 372.0L1637.0 371.8L1639.8 371.7L1642.5 371.5L1645.2 371.3L1647.9 371.2L1650.6 371.2L1653.3 371.2L1656.0 371.3L1658.7 371.4L1661.5 371.5L1664.2 371.6L1666.9 371.7L1669.6 371.8L1672.3 371.8L1675.0 371.8L1677.7 371.8L1680.5 371.7L1683.2 371.7L1685.9 371.6L1688.6 371.6L1691.3 371.5L1694.0 371.5L1696.7 371.6L1699.4 371.8L1702.2 372.2L1704.9 372.6L1707.6 372.9L1710.3 373.3L1713.0 373.5L1715.7 373.6L1718.4 373.6L1721.2 373.6L1723.9 373.6L1726.6 373.6L1729.3 373.6L1732.0 373.6L1734.7 373.6L1737.4 373.6L1740.1 373.7L1742.9 373.8L1745.6 374.1L1748.3 374.3L1751.0 374.6L1753.7 374.9L1756.4 375.2L1759.1 375.4L1761.8 375.6L1764.6 375.8L1767.3 376.0L1770.0 376.1L1772.7 376.3L1775.4 376.4L1778.1 376.5L1780.8 376.6L1783.6 376.7L1786.3 376.7L1789.0 376.7L1791.7 376.8L1794.4 376.8L1797.1 376.8L1799.8 376.9L1802.5 376.9L1805.3 377.0L1808.0 377.2L1810.7 377.5L1813.4 377.8L1816.1 378.2L1818.8 378.7L1821.5 379.1L1824.2 379.6" fill="none" stroke="#000000" stroke-width="1.1"/>
<g fill="#000000"><rect x="1188.3" y="523.7" width="13.0" height="13.0"/><rect x="1210.0" y="485.5" width="13.0" height="13.0"/><rect x="1231.7" y="460.6" width="13.0" height="13.0"/><rect x="1253.4" y="442.9" width="13.0" height="13.0"/><rect x="1275.1" y="428.1" width="13.0" height="13.0"/><rect x="1296.8" y="417.0" width="13.0" height="13.0"/><rect x="1318.5" y="406.5" width="13.0" height="13.0"/><rect x="1340.2" y="398.4" width="13.0" height="13.0"/><rect x="1361.9" y="392.1" width="13.0" height="13.0"/><rect x="1383.6" y="386.0" width="13.0" height="13.0"/><rect x="1405.4" y="381.5" width="13.0" height="13.0"/><rect x="1427.1" y="378.2" width="13.0" height="13.0"/><rect x="1448.8" y="375.2" width="13.0" height="13.0"/><rect x="1470.5" y="372.5" width="13.0" height="13.0"/><rect x="1492.2" y="370.7" width="13.0" height="13.0"/><rect x="1513.9" y="368.6" width="13.0" height="13.0"/><rect x="1535.6" y="366.8" width="13.0" height="13.0"/><rect x="1557.3" y="365.6" width="13.0" height="13.0"/><rect x="1579.0" y="366.2" width="13.0" height="13.0"/><rect x="1600.7" y="364.7" width="13.0" height="13.0"/><rect x="1622.4" y="365.6" width="13.0" height="13.0"/><rect x="1644.1" y="364.7" width="13.0" height="13.0"/><rect x="1665.8" y="365.3" width="13.0" height="13.0"/><rect x="1687.5" y="365.0" width="13.0" height="13.0"/><rect x="1709.2" y="367.1" width="13.0" height="13.0"/><rect x="1730.9" y="367.1" width="13.0" height="13.0"/><rect x="1752.6" y="368.9" width="13.0" height="13.0"/><rect x="1774.3" y="370.1" width="13.0" height="13.0"/><rect x="1796.0" y="370.4" width="13.0" height="13.0"/><rect x="1817.7" y="373.1" width="13.0" height="13.0"/></g>
<path d="M1173.1 619.8L1174.5 610.6L1175.8 601.7L1177.2 593.2L1178.5 585.0L1179.9 577.3L1181.2 570.0L1182.6 563.2L1183.9 557.0L1185.3 551.1L1186.6 545.5L1188.0 540.2L1189.3 535.2L1190.7 530.4L1192.0 526.0L1193.4 521.9L1194.8 518.2L1196.1 514.8L1197.5 511.6L1198.8 508.6L1200.2 505.8L1201.5 503.2L1202.9 500.6L1204.2 498.1L1205.6 495.7L1206.9 493.2L1208.3 490.9L1209.6 488.6L1211.0 486.4L1212.3 484.2L1213.7 482.1L1215.1 480.0L1216.4 477.9L1217.8 475.9L1219.1 473.8L1220.5 471.8L1221.8 469.9L1223.2 468.0L1224.5 466.1L1225.9 464.3L1227.2 462.6L1228.6 460.9L1229.9 459.3L1231.3 457.8L1232.6 456.3L1234.0 454.8L1235.4 453.4L1236.7 452.0L1238.1 450.6L1239.4 449.2L1240.8 447.8L1242.1 446.5L1243.5 445.2L1244.8 443.9L1246.2 442.6L1247.5 441.3L1248.9 440.0L1250.2 438.8L1251.6 437.6L1253.0 436.3L1254.3 435.1L1255.7 433.9L1257.0 432.8L1258.4 431.6L1259.7 430.4L1261.1 429.2L1262.4 428.1L1263.8 426.9L1265.1 425.7L1266.5 424.6L1267.8 423.5L1269.2 422.4L1270.5 421.4L1271.9 420.5L1273.3 419.6L1274.6 418.7L1276.0 417.9L1277.3 417.0L1278.7 416.2L1280.0 415.4L1281.4 414.5L1282.7 413.6L1284.1 412.7L1285.4 411.8L1286.8 410.8L1288.1 409.9L1289.5 409.0L1290.8 408.1L1292.2 407.3L1293.6 406.4L1294.9 405.6L1296.3 404.8L1297.6 404.0L1299.0 403.2L1300.3 402.5L1301.7 401.7L1303.0 401.0L1304.4 400.2L1305.7 399.6L1307.1 398.9L1308.4 398.2L1309.8 397.6L1311.1 396.9L1312.5 396.2L1313.9 395.6L1315.2 394.9L1316.6 394.1L1317.9 393.4L1319.3 392.7L1320.6 392.0L1322.0 391.3L1323.3 390.5L1324.7 389.8L1326.0 389.1L1327.4 388.4L1328.7 387.7L1330.1 387.0L1331.4 386.3L1332.8 385.7L1334.2 385.0L1335.5 384.4L1336.9 383.9L1338.2 383.3L1339.6 382.8L1340.9 382.3L1342.3 381.8L1343.6 381.3L1345.0 380.8L1346.3 380.2L1347.7 379.6L1349.0 379.0L1350.4 378.3L1351.7 377.7L1353.1 377.0L1354.5 376.3L1355.8 375.7L1357.2 375.1L1358.5 374.5L1359.9 374.0L1361.2 373.5L1362.6 373.0L1363.9 372.4L1365.3 371.9L1366.6 371.4L1368.0 370.9L1369.3 370.4L1370.7 369.9L1372.0 369.3L1373.4 368.8L1374.8 368.3L1376.1 367.7L1377.5 367.2L1378.8 366.7L1380.2 366.2L1381.5 365.6L1382.9 365.1L1384.2 364.6L1385.6 364.0L1386.9 363.5L1388.3 363.0L1389.6 362.5L1391.0 362.0L1392.3 361.5L1393.7 361.1L1395.1 360.6L1396.4 360.2L1397.8 359.7L1399.1 359.3L1400.5 358.9L1401.8 358.5L1403.2 358.0L1404.5 357.6L1405.9 357.2L1407.2 356.8L1408.6 356.4L1409.9 356.0L1411.3 355.6L1412.7 355.1L1414.0 354.7L1415.4 354.2L1416.7 353.7L1418.1 353.2L1419.4 352.8L1420.8 352.3L1422.1 352.0L1423.5 351.6L1424.8 351.3L1426.2 351.0L1427.5 350.7L1428.9 350.5L1430.2 350.2L1431.6 349.9L1433.0 349.6L1434.3 349.2L1435.7 348.8L1437.0 348.5L1438.4 348.1L1439.7 347.7L1441.1 347.3L1442.4 346.9L1443.8 346.6L1445.1 346.2L1446.5 345.9L1447.8 345.5L1449.2 345.2L1450.5 344.9L1451.9 344.6L1453.3 344.2L1454.6 343.8L1456.0 343.5L1457.3 343.1L1458.7 342.7L1460.0 342.3L1461.4 341.8L1462.7 341.4L1464.1 341.0L1465.4 340.5L1466.8 340.1L1468.1 339.7L1469.5 339.2L1470.8 338.8L1472.2 338.3L1473.6 337.9L1474.9 337.4L1476.3 337.0L1477.6 336.6L1479.0 336.2L1480.3 335.8L1481.7 335.4L1483.0 335.0L1484.4 334.7L1485.7 334.3L1487.1 333.9L1488.4 333.6L1489.8 333.3L1491.1 332.9L1492.5 332.6L1493.9 332.3L1495.2 332.0L1496.6 331.7L1497.9 331.4L1499.3 331.1L1500.6 330.7L1502.0 330.4L1503.3 330.1L1504.7 329.8L1506.0 329.5L1507.4 329.3L1508.7 329.0L1510.1 328.7L1511.4 328.4L1512.8 328.1L1514.2 327.8L1515.5 327.6L1516.9 327.3L1518.2 327.0L1519.6 326.7L1520.9 326.5L1522.3 326.2L1523.6 325.9L1525.0 325.7L1526.3 325.4L1527.7 325.2L1529.0 324.9L1530.4 324.7L1531.7 324.4L1533.1 324.2L1534.5 323.9L1535.8 323.7L1537.2 323.5L1538.5 323.2L1539.9 323.0L1541.2 322.8L1542.6 322.5L1543.9 322.3L1545.3 322.1L1546.6 321.9L1548.0 321.6L1549.3 321.4L1550.7 321.2L1552.0 321.0L1553.4 320.8L1554.8 320.6L1556.1 320.3L1557.5 320.1L1558.8 319.9L1560.2 319.7L1561.5 319.5L1562.9 319.3L1564.2 319.1L1565.6 318.9L1566.9 318.7L1568.3 318.5L1569.6 318.3L1571.0 318.1L1572.4 317.9L1573.7 317.7L1575.1 317.5L1576.4 317.3L1577.8 317.1L1579.1 316.9L1580.5 316.7L1581.8 316.5L1583.2 316.3L1584.5 316.1L1585.9 315.9L1587.2 315.7L1588.6 315.5L1589.9 315.3L1591.3 315.1L1592.7 315.0L1594.0 314.8L1595.4 314.6L1596.7 314.4L1598.1 314.2L1599.4 314.1L1600.8 313.9L1602.1 313.7L1603.5 313.5L1604.8 313.4L1606.2 313.2L1607.5 313.0L1608.9 312.9L1610.2 312.7L1611.6 312.6L1613.0 312.4L1614.3 312.3L1615.7 312.1L1617.0 312.0L1618.4 311.8L1619.7 311.7L1621.1 311.5L1622.4 311.4L1623.8 311.3L1625.1 311.1L1626.5 311.0L1627.8 310.9L1629.2 310.8L1630.5 310.6L1631.9 310.5L1633.3 310.4L1634.6 310.3L1636.0 310.2L1637.3 310.1L1638.7 310.0L1640.0 309.9L1641.4 309.8L1642.7 309.7L1644.1 309.6L1645.4 309.5L1646.8 309.4L1648.1 309.3L1649.5 309.2L1650.8 309.1L1652.2 309.0L1653.6 309.0L1654.9 308.9L1656.3 308.8L1657.6 308.7L1659.0 308.6L1660.3 308.5L1661.7 308.5L1663.0 308.4L1664.4 308.3L1665.7 308.2L1667.1 308.2L1668.4 308.1L1669.8 308.0L1671.1 307.9L1672.5 307.9L1673.9 307.8L1675.2 307.7L1676.6 307.6L1677.9 307.6L1679.3 307.5L1680.6 307.4L1682.0 307.4L1683.3 307.3L1684.7 307.2L1686.0 307.2L1687.4 307.1L1688.7 307.1L1690.1 307.0L1691.4 306.9L1692.8 306.9L1694.2 306.8L1695.5 306.7L1696.9 306.7L1698.2 306.6L1699.6 306.6L1700.9 306.5L1702.3 306.4L1703.6 306.4L1705.0 306.3L1706.3 306.3L1707.7 306.2L1709.0 306.2L1710.4 306.1L1711.8 306.0L1713.1 306.0L1714.5 305.9L1715.8 305.9L1717.2 305.8L1718.5 305.8L1719.9 305.7L1721.2 305.7L1722.6 305.6L1723.9 305.6L1725.3 305.5L1726.6 305.4L1728.0 305.4L1729.3 305.3L1730.7 305.3L1732.1 305.2L1733.4 305.2L1734.8 305.1L1736.1 305.1L1737.5 305.0L1738.8 305.0L1740.2 304.9L1741.5 304.9L1742.9 304.8L1744.2 304.8L1745.6 304.7L1746.9 304.7L1748.3 304.6L1749.6 304.6L1751.0 304.5L1752.4 304.5L1753.7 304.4L1755.1 304.4L1756.4 304.3L1757.8 304.3L1759.1 304.2L1760.5 304.2L1761.8 304.1L1763.2 304.1L1764.5 304.1L1765.9 304.0L1767.2 304.0L1768.6 303.9L1769.9 303.9L1771.3 303.8L1772.7 303.8L1774.0 303.8L1775.4 303.7L1776.7 303.7L1778.1 303.6L1779.4 303.6L1780.8 303.5L1782.1 303.5L1783.5 303.5L1784.8 303.4L1786.2 303.4L1787.5 303.3L1788.9 303.3L1790.2 303.3L1791.6 303.2L1793.0 303.2L1794.3 303.1L1795.7 303.1L1797.0 303.1L1798.4 303.0L1799.7 303.0L1801.1 302.9L1802.4 302.9L1803.8 302.9L1805.1 302.8L1806.5 302.8L1807.8 302.8L1809.2 302.7L1810.5 302.7L1811.9 302.7L1813.3 302.6L1814.6 302.6L1816.0 302.5L1817.3 302.5L1818.7 302.5L1820.0 302.4L1821.4 302.4L1822.7 302.4" fill="none" stroke="#ff0000" stroke-width="1.1"/>
<g fill="#ff0000"><circle cx="1183.9" cy="557.0" r="7.3"/><circle cx="1194.8" cy="518.2" r="7.3"/><circle cx="1205.6" cy="495.7" r="7.3"/><circle cx="1216.4" cy="477.9" r="7.3"/><circle cx="1227.2" cy="462.6" r="7.3"/><circle cx="1238.1" cy="450.6" r="7.3"/><circle cx="1248.9" cy="440.0" r="7.3"/><circle cx="1259.7" cy="430.4" r="7.3"/><circle cx="1270.5" cy="421.4" r="7.3"/><circle cx="1281.4" cy="414.5" r="7.3"/><circle cx="1292.2" cy="407.3" r="7.3"/><circle cx="1303.0" cy="401.0" r="7.3"/><circle cx="1313.9" cy="395.6" r="7.3"/><circle cx="1324.7" cy="389.8" r="7.3"/><circle cx="1335.5" cy="384.4" r="7.3"/><circle cx="1346.3" cy="380.2" r="7.3"/><circle cx="1357.2" cy="375.1" r="7.3"/><circle cx="1368.0" cy="370.9" r="7.3"/><circle cx="1378.8" cy="366.7" r="7.3"/><circle cx="1389.6" cy="362.5" r="7.3"/><circle cx="1400.5" cy="358.9" r="7.3"/><circle cx="1411.3" cy="355.6" r="7.3"/><circle cx="1422.1" cy="352.0" r="7.3"/><circle cx="1433.0" cy="349.6" r="7.3"/><circle cx="1443.8" cy="346.6" r="7.3"/><circle cx="1454.6" cy="343.8" r="7.3"/><circle cx="1465.4" cy="340.5" r="7.3"/><circle cx="1476.3" cy="337.0" r="7.3"/><circle cx="1487.1" cy="333.9" r="7.3"/><circle cx="1497.9" cy="331.4" r="7.3"/><circle cx="1508.7" cy="329.0" r="7.3"/><circle cx="1519.6" cy="326.7" r="7.3"/><circle cx="1530.4" cy="324.7" r="7.3"/><circle cx="1541.2" cy="322.8" r="7.3"/><circle cx="1552.0" cy="321.0" r="7.3"/><circle cx="1562.9" cy="319.3" r="7.3"/><circle cx="1573.7" cy="317.7" r="7.3"/><circle cx="1584.5" cy="316.1" r="7.3"/><circle cx="1595.4" cy="314.6" r="7.3"/><circle cx="1606.2" cy="313.2" r="7.3"/><circle cx="1617.0" cy="312.0" r="7.3"/><circle cx="1627.8" cy="310.9" r="7.3"/><circle cx="1638.7" cy="310.0" r="7.3"/><circle cx="1649.5" cy="309.2" r="7.3"/><circle cx="1660.3" cy="308.5" r="7.3"/><circle cx="1671.1" cy="307.9" r="7.3"/><circle cx="1682.0" cy="307.4" r="7.3"/><circle cx="1692.8" cy="306.9" r="7.3"/><circle cx="1703.6" cy="306.4" r="7.3"/><circle cx="1714.5" cy="305.9" r="7.3"/><circle cx="1725.3" cy="305.5" r="7.3"/><circle cx="1736.1" cy="305.1" r="7.3"/><circle cx="1746.9" cy="304.7" r="7.3"/><circle cx="1757.8" cy="304.3" r="7.3"/><circle cx="1768.6" cy="303.9" r="7.3"/><circle cx="1779.4" cy="303.6" r="7.3"/><circle cx="1790.2" cy="303.3" r="7.3"/><circle cx="1801.1" cy="302.9" r="7.3"/><circle cx="1811.9" cy="302.7" r="7.3"/><circle cx="1822.7" cy="302.4" r="7.3"/></g>
<path d="M1173.1 619.8L1174.5 609.7L1175.8 599.8L1177.2 590.4L1178.5 581.2L1179.9 572.5L1181.2 564.2L1182.6 556.3L1183.9 548.9L1185.3 541.8L1186.6 535.0L1188.0 528.5L1189.3 522.3L1190.7 516.3L1192.0 510.7L1193.4 505.4L1194.7 500.5L1196.1 495.8L1197.4 491.3L1198.8 487.0L1200.1 482.9L1201.5 479.0L1202.8 475.3L1204.2 471.9L1205.5 468.6L1206.9 465.5L1208.3 462.6L1209.6 459.8L1211.0 457.1L1212.3 454.6L1213.7 452.1L1215.0 449.8L1216.4 447.6L1217.7 445.4L1219.1 443.3L1220.4 441.3L1221.8 439.4L1223.1 437.5L1224.5 435.7L1225.8 434.0L1227.2 432.2L1228.5 430.5L1229.9 428.8L1231.2 427.2L1232.6 425.6L1233.9 424.1L1235.3 422.5L1236.6 421.1L1238.0 419.6L1239.4 418.2L1240.7 416.8L1242.1 415.4L1243.4 414.1L1244.8 412.8L1246.1 411.5L1247.5 410.3L1248.8 409.1L1250.2 407.9L1251.5 406.8L1252.9 405.7L1254.2 404.6L1255.6 403.5L1256.9 402.5L1258.3 401.4L1259.6 400.4L1261.0 399.3L1262.3 398.2L1263.7 397.2L1265.0 396.1L1266.4 395.1L1267.7 394.0L1269.1 393.0L1270.4 391.9L1271.8 390.9L1273.2 389.9L1274.5 388.8L1275.9 387.8L1277.2 386.8L1278.6 385.8L1279.9 384.8L1281.3 383.8L1282.6 382.9L1284.0 381.9L1285.3 381.0L1286.7 380.1L1288.0 379.2L1289.4 378.3L1290.7 377.5L1292.1 376.6L1293.4 375.8L1294.8 375.0L1296.1 374.2L1297.5 373.4L1298.8 372.6L1300.2 371.8L1301.5 371.1L1302.9 370.3L1304.2 369.5L1305.6 368.8L1307.0 368.0L1308.3 367.2L1309.7 366.5L1311.0 365.7L1312.4 365.0L1313.7 364.3L1315.1 363.6L1316.4 362.9L1317.8 362.2L1319.1 361.5L1320.5 360.9L1321.8 360.2L1323.2 359.5L1324.5 358.9L1325.9 358.2L1327.2 357.6L1328.6 357.0L1329.9 356.3L1331.3 355.7L1332.6 355.1L1334.0 354.4L1335.3 353.8L1336.7 353.1L1338.0 352.4L1339.4 351.7L1340.8 351.0L1342.1 350.3L1343.5 349.6L1344.8 349.0L1346.2 348.4L1347.5 347.8L1348.9 347.3L1350.2 346.8L1351.6 346.3L1352.9 345.9L1354.3 345.4L1355.6 344.9L1357.0 344.5L1358.3 343.9L1359.7 343.4L1361.0 342.9L1362.4 342.3L1363.7 341.8L1365.1 341.3L1366.4 340.8L1367.8 340.2L1369.1 339.7L1370.5 339.2L1371.9 338.8L1373.2 338.3L1374.6 337.8L1375.9 337.3L1377.3 336.8L1378.6 336.3L1380.0 335.8L1381.3 335.3L1382.7 334.8L1384.0 334.3L1385.4 333.8L1386.7 333.4L1388.1 332.9L1389.4 332.4L1390.8 332.0L1392.1 331.6L1393.5 331.1L1394.8 330.7L1396.2 330.3L1397.5 329.9L1398.9 329.5L1400.2 329.1L1401.6 328.7L1402.9 328.4L1404.3 328.0L1405.7 327.6L1407.0 327.3L1408.4 326.9L1409.7 326.5L1411.1 326.1L1412.4 325.7L1413.8 325.2L1415.1 324.7L1416.5 324.3L1417.8 323.8L1419.2 323.3L1420.5 322.9L1421.9 322.5L1423.2 322.2L1424.6 321.8L1425.9 321.5L1427.3 321.2L1428.6 321.0L1430.0 320.7L1431.3 320.4L1432.7 320.1L1434.0 319.8L1435.4 319.5L1436.7 319.2L1438.1 318.9L1439.5 318.6L1440.8 318.3L1442.2 318.0L1443.5 317.7L1444.9 317.4L1446.2 317.0L1447.6 316.7L1448.9 316.4L1450.3 316.0L1451.6 315.7L1453.0 315.3L1454.3 315.0L1455.7 314.6L1457.0 314.3L1458.4 313.9L1459.7 313.5L1461.1 313.1L1462.4 312.7L1463.8 312.4L1465.1 312.0L1466.5 311.6L1467.8 311.2L1469.2 310.8L1470.5 310.4L1471.9 310.0L1473.3 309.6L1474.6 309.2L1476.0 308.9L1477.3 308.5L1478.7 308.1L1480.0 307.8L1481.4 307.4L1482.7 307.1L1484.1 306.7L1485.4 306.4L1486.8 306.1L1488.1 305.8L1489.5 305.4L1490.8 305.1L1492.2 304.8L1493.5 304.5L1494.9 304.2L1496.2 303.9L1497.6 303.7L1498.9 303.4L1500.3 303.1L1501.6 302.8L1503.0 302.5L1504.4 302.2L1505.7 302.0L1507.1 301.7L1508.4 301.4L1509.8 301.2L1511.1 300.9L1512.5 300.6L1513.8 300.4L1515.2 300.1L1516.5 299.9L1517.9 299.6L1519.2 299.4L1520.6 299.1L1521.9 298.9L1523.3 298.7L1524.6 298.4L1526.0 298.2L1527.3 298.0L1528.7 297.7L1530.0 297.5L1531.4 297.3L1532.7 297.1L1534.1 296.9L1535.4 296.6L1536.8 296.4L1538.2 296.2L1539.5 296.0L1540.9 295.8L1542.2 295.6L1543.6 295.3L1544.9 295.1L1546.3 294.9L1547.6 294.7L1549.0 294.5L1550.3 294.3L1551.7 294.1L1553.0 293.9L1554.4 293.7L1555.7 293.5L1557.1 293.2L1558.4 293.0L1559.8 292.8L1561.1 292.6L1562.5 292.4L1563.8 292.2L1565.2 292.0L1566.5 291.8L1567.9 291.6L1569.2 291.4L1570.6 291.3L1572.0 291.1L1573.3 290.9L1574.7 290.7L1576.0 290.5L1577.4 290.3L1578.7 290.1L1580.1 289.9L1581.4 289.7L1582.8 289.5L1584.1 289.4L1585.5 289.2L1586.8 289.0L1588.2 288.8L1589.5 288.6L1590.9 288.5L1592.2 288.3L1593.6 288.1L1594.9 287.9L1596.3 287.8L1597.6 287.6L1599.0 287.4L1600.3 287.3L1601.7 287.1L1603.0 286.9L1604.4 286.8L1605.8 286.6L1607.1 286.4L1608.5 286.3L1609.8 286.1L1611.2 286.0L1612.5 285.8L1613.9 285.6L1615.2 285.5L1616.6 285.3L1617.9 285.2L1619.3 285.0L1620.6 284.9L1622.0 284.7L1623.3 284.6L1624.7 284.5L1626.0 284.3L1627.4 284.2L1628.7 284.0L1630.1 283.9L1631.4 283.8L1632.8 283.6L1634.1 283.5L1635.5 283.4L1636.9 283.2L1638.2 283.1L1639.6 283.0L1640.9 282.9L1642.3 282.7L1643.6 282.6L1645.0 282.5L1646.3 282.4L1647.7 282.2L1649.0 282.1L1650.4 282.0L1651.7 281.9L1653.1 281.7L1654.4 281.6L1655.8 281.5L1657.1 281.4L1658.5 281.3L1659.8 281.1L1661.2 281.0L1662.5 280.9L1663.9 280.8L1665.2 280.7L1666.6 280.6L1667.9 280.5L1669.3 280.3L1670.7 280.2L1672.0 280.1L1673.4 280.0L1674.7 279.9L1676.1 279.8L1677.4 279.7L1678.8 279.6L1680.1 279.5L1681.5 279.4L1682.8 279.3L1684.2 279.2L1685.5 279.1L1686.9 278.9L1688.2 278.8L1689.6 278.7L1690.9 278.6L1692.3 278.6L1693.6 278.5L1695.0 278.4L1696.3 278.3L1697.7 278.2L1699.0 278.1L1700.4 278.0L1701.7 277.9L1703.1 277.8L1704.5 277.7L1705.8 277.6L1707.2 277.5L1708.5 277.4L1709.9 277.4L1711.2 277.3L1712.6 277.2L1713.9 277.1L1715.3 277.0L1716.6 276.9L1718.0 276.9L1719.3 276.8L1720.7 276.7L1722.0 276.6L1723.4 276.6L1724.7 276.5L1726.1 276.4L1727.4 276.3L1728.8 276.3L1730.1 276.2L1731.5 276.1L1732.8 276.1L1734.2 276.0L1735.6 275.9L1736.9 275.9L1738.3 275.8L1739.6 275.7L1741.0 275.7L1742.3 275.6L1743.7 275.6L1745.0 275.5L1746.4 275.4L1747.7 275.4L1749.1 275.3L1750.4 275.3L1751.8 275.2L1753.1 275.1L1754.5 275.1L1755.8 275.0L1757.2 275.0L1758.5 274.9L1759.9 274.8L1761.2 274.8L1762.6 274.7L1763.9 274.7L1765.3 274.6L1766.6 274.6L1768.0 274.5L1769.4 274.5L1770.7 274.4L1772.1 274.3L1773.4 274.3L1774.8 274.2L1776.1 274.2L1777.5 274.1L1778.8 274.1L1780.2 274.0L1781.5 274.0L1782.9 273.9L1784.2 273.9L1785.6 273.9L1786.9 273.8L1788.3 273.8L1789.6 273.7L1791.0 273.7L1792.3 273.6L1793.7 273.6L1795.0 273.6L1796.4 273.5L1797.7 273.5L1799.1 273.4L1800.4 273.4L1801.8 273.4L1803.2 273.3L1804.5 273.3L1805.9 273.3L1807.2 273.2L1808.6 273.2L1809.9 273.2L1811.3 273.1L1812.6 273.1L1814.0 273.1L1815.3 273.0L1816.7 273.0L1818.0 273.0L1819.4 273.0L1820.7 272.9L1822.1 272.9" fill="none" stroke="#00ff00" stroke-width="1.1"/>
<g fill="#00ff00"><path d="M1183.9 541.1L1192.9 556.7L1174.9 556.7Z"/><path d="M1194.7 492.7L1203.7 508.3L1185.7 508.3Z"/><path d="M1205.5 460.8L1214.5 476.4L1196.5 476.4Z"/><path d="M1216.4 439.8L1225.4 455.4L1207.4 455.4Z"/><path d="M1227.2 424.4L1236.2 440.0L1218.2 440.0Z"/><path d="M1238.0 411.8L1247.0 427.4L1229.0 427.4Z"/><path d="M1248.8 401.3L1257.8 416.9L1239.8 416.9Z"/><path d="M1259.6 392.6L1268.6 408.2L1250.6 408.2Z"/><path d="M1270.4 384.1L1279.4 399.7L1261.4 399.7Z"/><path d="M1281.3 376.0L1290.3 391.6L1272.3 391.6Z"/><path d="M1292.1 368.8L1301.1 384.4L1283.1 384.4Z"/><path d="M1302.9 362.5L1311.9 378.1L1293.9 378.1Z"/><path d="M1313.7 356.5L1322.7 372.1L1304.7 372.1Z"/><path d="M1324.5 351.1L1333.5 366.7L1315.5 366.7Z"/><path d="M1335.3 346.0L1344.3 361.6L1326.3 361.6Z"/><path d="M1346.2 340.6L1355.2 356.2L1337.2 356.2Z"/><path d="M1357.0 336.7L1366.0 352.3L1348.0 352.3Z"/><path d="M1367.8 332.4L1376.8 348.0L1358.8 348.0Z"/><path d="M1378.6 328.5L1387.6 344.1L1369.6 344.1Z"/><path d="M1389.4 324.6L1398.4 340.2L1380.4 340.2Z"/><path d="M1400.2 321.3L1409.2 336.9L1391.2 336.9Z"/><path d="M1411.1 318.3L1420.1 333.9L1402.1 333.9Z"/><path d="M1421.9 314.7L1430.9 330.3L1412.9 330.3Z"/><path d="M1432.7 312.3L1441.7 327.9L1423.7 327.9Z"/><path d="M1443.5 309.9L1452.5 325.5L1434.5 325.5Z"/><path d="M1454.3 307.2L1463.3 322.8L1445.3 322.8Z"/><path d="M1465.1 304.2L1474.1 319.8L1456.1 319.8Z"/><path d="M1476.0 301.1L1485.0 316.7L1467.0 316.7Z"/><path d="M1486.8 298.3L1495.8 313.9L1477.8 313.9Z"/><path d="M1497.6 295.9L1506.6 311.5L1488.6 311.5Z"/><path d="M1508.4 293.6L1517.4 309.2L1499.4 309.2Z"/><path d="M1519.2 291.6L1528.2 307.2L1510.2 307.2Z"/><path d="M1530.0 289.7L1539.0 305.3L1521.0 305.3Z"/><path d="M1540.9 288.0L1549.9 303.6L1531.9 303.6Z"/><path d="M1551.7 286.3L1560.7 301.9L1542.7 301.9Z"/><path d="M1562.5 284.6L1571.5 300.2L1553.5 300.2Z"/><path d="M1573.3 283.1L1582.3 298.7L1564.3 298.7Z"/><path d="M1584.1 281.6L1593.1 297.2L1575.1 297.2Z"/><path d="M1594.9 280.1L1603.9 295.7L1585.9 295.7Z"/><path d="M1605.8 278.8L1614.8 294.4L1596.8 294.4Z"/><path d="M1616.6 277.5L1625.6 293.1L1607.6 293.1Z"/><path d="M1627.4 276.4L1636.4 292.0L1618.4 292.0Z"/><path d="M1638.2 275.3L1647.2 290.9L1629.2 290.9Z"/><path d="M1649.0 274.3L1658.0 289.9L1640.0 289.9Z"/><path d="M1659.8 273.3L1668.8 288.9L1650.8 288.9Z"/><path d="M1670.7 272.4L1679.7 288.0L1661.7 288.0Z"/><path d="M1681.5 271.6L1690.5 287.2L1672.5 287.2Z"/><path d="M1692.3 270.8L1701.3 286.4L1683.3 286.4Z"/><path d="M1703.1 270.0L1712.1 285.6L1694.1 285.6Z"/><path d="M1713.9 269.3L1722.9 284.9L1704.9 284.9Z"/><path d="M1724.7 268.7L1733.7 284.3L1715.7 284.3Z"/><path d="M1735.6 268.1L1744.6 283.7L1726.6 283.7Z"/><path d="M1746.4 267.6L1755.4 283.2L1737.4 283.2Z"/><path d="M1757.2 267.2L1766.2 282.8L1748.2 282.8Z"/><path d="M1768.0 266.7L1777.0 282.3L1759.0 282.3Z"/><path d="M1778.8 266.3L1787.8 281.9L1769.8 281.9Z"/><path d="M1789.6 265.9L1798.6 281.5L1780.6 281.5Z"/><path d="M1800.4 265.6L1809.4 281.2L1791.4 281.2Z"/><path d="M1811.3 265.3L1820.3 280.9L1802.3 280.9Z"/><path d="M1822.1 265.1L1831.1 280.7L1813.1 280.7Z"/></g>
<path d="M1173.1 619.8L1174.5 608.0L1175.8 596.6L1177.2 585.7L1178.5 575.2L1179.9 565.1L1181.2 555.6L1182.6 546.7L1183.9 538.3L1185.3 530.4L1186.6 522.8L1188.0 515.4L1189.3 508.5L1190.7 501.9L1192.0 495.8L1193.4 490.2L1194.7 485.1L1196.1 480.5L1197.4 476.3L1198.8 472.3L1200.1 468.5L1201.5 465.0L1202.8 461.7L1204.2 458.5L1205.5 455.4L1206.9 452.4L1208.3 449.6L1209.6 446.9L1211.0 444.3L1212.3 441.8L1213.7 439.3L1215.0 437.0L1216.4 434.6L1217.7 432.3L1219.1 430.1L1220.4 427.9L1221.8 425.8L1223.1 423.7L1224.5 421.7L1225.8 419.7L1227.2 417.8L1228.5 415.9L1229.9 414.1L1231.2 412.4L1232.6 410.6L1233.9 408.9L1235.3 407.3L1236.6 405.6L1238.0 404.0L1239.4 402.3L1240.7 400.6L1242.1 399.0L1243.4 397.3L1244.8 395.7L1246.1 394.2L1247.5 392.7L1248.8 391.3L1250.2 390.0L1251.5 388.8L1252.9 387.6L1254.2 386.4L1255.6 385.3L1256.9 384.2L1258.3 383.1L1259.6 382.0L1261.0 380.9L1262.3 379.9L1263.7 378.9L1265.0 377.9L1266.4 376.9L1267.7 375.9L1269.1 374.9L1270.4 373.9L1271.8 372.9L1273.2 371.9L1274.5 371.0L1275.9 370.0L1277.2 369.0L1278.6 368.1L1279.9 367.1L1281.3 366.2L1282.6 365.2L1284.0 364.3L1285.3 363.4L1286.7 362.5L1288.0 361.6L1289.4 360.7L1290.7 359.8L1292.1 358.9L1293.4 358.0L1294.8 357.1L1296.1 356.2L1297.5 355.3L1298.8 354.4L1300.2 353.6L1301.5 352.7L1302.9 351.8L1304.2 351.0L1305.6 350.1L1307.0 349.2L1308.3 348.4L1309.7 347.6L1311.0 346.7L1312.4 345.9L1313.7 345.1L1315.1 344.2L1316.4 343.4L1317.8 342.6L1319.1 341.7L1320.5 340.9L1321.8 340.1L1323.2 339.3L1324.5 338.5L1325.9 337.7L1327.2 337.0L1328.6 336.2L1329.9 335.4L1331.3 334.6L1332.6 333.9L1334.0 333.2L1335.3 332.4L1336.7 331.7L1338.0 331.0L1339.4 330.3L1340.8 329.7L1342.1 329.0L1343.5 328.3L1344.8 327.7L1346.2 327.0L1347.5 326.4L1348.9 325.7L1350.2 325.1L1351.6 324.5L1352.9 323.8L1354.3 323.2L1355.6 322.6L1357.0 321.9L1358.3 321.3L1359.7 320.6L1361.0 319.9L1362.4 319.3L1363.7 318.6L1365.1 317.9L1366.4 317.3L1367.8 316.6L1369.1 316.0L1370.5 315.3L1371.9 314.7L1373.2 314.1L1374.6 313.4L1375.9 312.8L1377.3 312.2L1378.6 311.7L1380.0 311.1L1381.3 310.6L1382.7 310.1L1384.0 309.7L1385.4 309.2L1386.7 308.7L1388.1 308.2L1389.4 307.7L1390.8 307.2L1392.1 306.7L1393.5 306.3L1394.8 305.8L1396.2 305.3L1397.5 304.7L1398.9 304.2L1400.2 303.6L1401.6 302.9L1402.9 302.1L1404.3 301.3L1405.7 300.5L1407.0 299.7L1408.4 298.9L1409.7 298.2L1411.1 297.6L1412.4 297.0L1413.8 296.6L1415.1 296.1L1416.5 295.7L1417.8 295.3L1419.2 295.0L1420.5 294.6L1421.9 294.2L1423.2 293.8L1424.6 293.4L1425.9 293.1L1427.3 292.7L1428.6 292.4L1430.0 292.0L1431.3 291.6L1432.7 291.2L1434.0 290.8L1435.4 290.4L1436.7 289.9L1438.1 289.4L1439.5 288.9L1440.8 288.4L1442.2 287.9L1443.5 287.4L1444.9 286.9L1446.2 286.5L1447.6 286.0L1448.9 285.5L1450.3 285.0L1451.6 284.6L1453.0 284.1L1454.3 283.7L1455.7 283.3L1457.0 283.0L1458.4 282.6L1459.7 282.2L1461.1 281.9L1462.4 281.6L1463.8 281.2L1465.1 280.9L1466.5 280.6L1467.8 280.3L1469.2 279.9L1470.5 279.6L1471.9 279.3L1473.3 279.0L1474.6 278.7L1476.0 278.4L1477.3 278.1L1478.7 277.7L1480.0 277.4L1481.4 277.1L1482.7 276.7L1484.1 276.4L1485.4 276.0L1486.8 275.7L1488.1 275.3L1489.5 274.9L1490.8 274.5L1492.2 274.1L1493.5 273.7L1494.9 273.3L1496.2 272.9L1497.6 272.5L1498.9 272.1L1500.3 271.7L1501.6 271.2L1503.0 270.8L1504.4 270.4L1505.7 269.9L1507.1 269.5L1508.4 269.1L1509.8 268.7L1511.1 268.2L1512.5 267.8L1513.8 267.4L1515.2 267.0L1516.5 266.6L1517.9 266.1L1519.2 265.7L1520.6 265.4L1521.9 265.0L1523.3 264.6L1524.6 264.2L1526.0 263.8L1527.3 263.5L1528.7 263.1L1530.0 262.8L1531.4 262.4L1532.7 262.1L1534.1 261.7L1535.4 261.4L1536.8 261.0L1538.2 260.7L1539.5 260.4L1540.9 260.0L1542.2 259.7L1543.6 259.4L1544.9 259.1L1546.3 258.7L1547.6 258.4L1549.0 258.1L1550.3 257.8L1551.7 257.4L1553.0 257.1L1554.4 256.8L1555.7 256.5L1557.1 256.2L1558.4 255.9L1559.8 255.6L1561.1 255.3L1562.5 255.0L1563.8 254.7L1565.2 254.4L1566.5 254.1L1567.9 253.8L1569.2 253.5L1570.6 253.2L1572.0 252.9L1573.3 252.6L1574.7 252.4L1576.0 252.1L1577.4 251.8L1578.7 251.5L1580.1 251.2L1581.4 251.0L1582.8 250.7L1584.1 250.4L1585.5 250.1L1586.8 249.9L1588.2 249.6L1589.5 249.3L1590.9 249.1L1592.2 248.8L1593.6 248.6L1594.9 248.3L1596.3 248.1L1597.6 247.8L1599.0 247.6L1600.3 247.3L1601.7 247.1L1603.0 246.8L1604.4 246.6L1605.8 246.4L1607.1 246.1L1608.5 245.9L1609.8 245.7L1611.2 245.4L1612.5 245.2L1613.9 245.0L1615.2 244.8L1616.6 244.5L1617.9 244.3L1619.3 244.1L1620.6 243.9L1622.0 243.7L1623.3 243.4L1624.7 243.2L1626.0 243.0L1627.4 242.8L1628.7 242.6L1630.1 242.3L1631.4 242.1L1632.8 241.9L1634.1 241.7L1635.5 241.5L1636.9 241.2L1638.2 241.0L1639.6 240.8L1640.9 240.6L1642.3 240.3L1643.6 240.1L1645.0 239.9L1646.3 239.6L1647.7 239.4L1649.0 239.2L1650.4 239.0L1651.7 238.7L1653.1 238.5L1654.4 238.3L1655.8 238.0L1657.1 237.8L1658.5 237.6L1659.8 237.3L1661.2 237.1L1662.5 236.9L1663.9 236.6L1665.2 236.4L1666.6 236.2L1667.9 235.9L1669.3 235.7L1670.7 235.5L1672.0 235.2L1673.4 235.0L1674.7 234.8L1676.1 234.5L1677.4 234.3L1678.8 234.1L1680.1 233.8L1681.5 233.6L1682.8 233.4L1684.2 233.1L1685.5 232.9L1686.9 232.7L1688.2 232.5L1689.6 232.2L1690.9 232.0L1692.3 231.8L1693.6 231.6L1695.0 231.3L1696.3 231.1L1697.7 230.9L1699.0 230.7L1700.4 230.4L1701.7 230.2L1703.1 230.0L1704.5 229.8L1705.8 229.6L1707.2 229.4L1708.5 229.1L1709.9 228.9L1711.2 228.7L1712.6 228.5L1713.9 228.3L1715.3 228.1L1716.6 227.9L1718.0 227.7L1719.3 227.5L1720.7 227.3L1722.0 227.1L1723.4 226.9L1724.7 226.7L1726.1 226.5L1727.4 226.3L1728.8 226.1L1730.1 225.9L1731.5 225.7L1732.8 225.5L1734.2 225.4L1735.6 225.2L1736.9 225.0L1738.3 224.8L1739.6 224.7L1741.0 224.5L1742.3 224.3L1743.7 224.1L1745.0 224.0L1746.4 223.8L1747.7 223.7L1749.1 223.5L1750.4 223.3L1751.8 223.2L1753.1 223.0L1754.5 222.9L1755.8 222.7L1757.2 222.6L1758.5 222.4L1759.9 222.3L1761.2 222.1L1762.6 222.0L1763.9 221.8L1765.3 221.7L1766.6 221.5L1768.0 221.4L1769.4 221.2L1770.7 221.1L1772.1 220.9L1773.4 220.8L1774.8 220.6L1776.1 220.5L1777.5 220.3L1778.8 220.1L1780.2 220.0L1781.5 219.8L1782.9 219.7L1784.2 219.5L1785.6 219.3L1786.9 219.2L1788.3 219.0L1789.6 218.9L1791.0 218.7L1792.3 218.5L1793.7 218.4L1795.0 218.2L1796.4 218.0L1797.7 217.9L1799.1 217.7L1800.4 217.5L1801.8 217.4L1803.2 217.2L1804.5 217.1L1805.9 216.9L1807.2 216.7L1808.6 216.6L1809.9 216.4L1811.3 216.2L1812.6 216.1L1814.0 215.9L1815.3 215.7L1816.7 215.6L1818.0 215.4L1819.4 215.2L1820.7 215.1L1822.1 214.9" fill="none" stroke="#0000ff" stroke-width="1.1"/>
<g fill="#0000ff"><path d="M1174.9 530.5L1192.9 530.5L1183.9 546.1Z"/><path d="M1185.7 477.3L1203.7 477.3L1194.7 492.9Z"/><path d="M1196.5 447.6L1214.5 447.6L1205.5 463.2Z"/><path d="M1207.4 426.8L1225.4 426.8L1216.4 442.4Z"/><path d="M1218.2 410.0L1236.2 410.0L1227.2 425.6Z"/><path d="M1229.0 396.2L1247.0 396.2L1238.0 411.8Z"/><path d="M1239.8 383.5L1257.8 383.5L1248.8 399.1Z"/><path d="M1250.6 374.2L1268.6 374.2L1259.6 389.8Z"/><path d="M1261.4 366.1L1279.4 366.1L1270.4 381.7Z"/><path d="M1272.3 358.4L1290.3 358.4L1281.3 374.0Z"/><path d="M1283.1 351.1L1301.1 351.1L1292.1 366.7Z"/><path d="M1293.9 344.0L1311.9 344.0L1302.9 359.6Z"/><path d="M1304.7 337.3L1322.7 337.3L1313.7 352.9Z"/><path d="M1315.5 330.7L1333.5 330.7L1324.5 346.3Z"/><path d="M1326.3 324.6L1344.3 324.6L1335.3 340.2Z"/><path d="M1337.2 319.2L1355.2 319.2L1346.2 334.8Z"/><path d="M1348.0 314.1L1366.0 314.1L1357.0 329.7Z"/><path d="M1358.8 308.8L1376.8 308.8L1367.8 324.4Z"/><path d="M1369.6 303.9L1387.6 303.9L1378.6 319.5Z"/><path d="M1380.4 299.9L1398.4 299.9L1389.4 315.5Z"/><path d="M1391.2 295.8L1409.2 295.8L1400.2 311.4Z"/><path d="M1402.1 289.8L1420.1 289.8L1411.1 305.4Z"/><path d="M1412.9 286.4L1430.9 286.4L1421.9 302.0Z"/><path d="M1423.7 283.4L1441.7 283.4L1432.7 299.0Z"/><path d="M1434.5 279.6L1452.5 279.6L1443.5 295.2Z"/><path d="M1445.3 275.9L1463.3 275.9L1454.3 291.5Z"/><path d="M1456.1 273.1L1474.1 273.1L1465.1 288.7Z"/><path d="M1467.0 270.6L1485.0 270.6L1476.0 286.2Z"/><path d="M1477.8 267.9L1495.8 267.9L1486.8 283.5Z"/><path d="M1488.6 264.7L1506.6 264.7L1497.6 280.3Z"/><path d="M1499.4 261.3L1517.4 261.3L1508.4 276.9Z"/><path d="M1510.2 257.9L1528.2 257.9L1519.2 273.5Z"/><path d="M1521.0 255.0L1539.0 255.0L1530.0 270.6Z"/><path d="M1531.9 252.2L1549.9 252.2L1540.9 267.8Z"/><path d="M1542.7 249.6L1560.7 249.6L1551.7 265.2Z"/><path d="M1553.5 247.2L1571.5 247.2L1562.5 262.8Z"/><path d="M1564.3 244.8L1582.3 244.8L1573.3 260.4Z"/><path d="M1575.1 242.6L1593.1 242.6L1584.1 258.2Z"/><path d="M1585.9 240.5L1603.9 240.5L1594.9 256.1Z"/><path d="M1596.8 238.6L1614.8 238.6L1605.8 254.2Z"/><path d="M1607.6 236.7L1625.6 236.7L1616.6 252.3Z"/><path d="M1618.4 235.0L1636.4 235.0L1627.4 250.6Z"/><path d="M1629.2 233.2L1647.2 233.2L1638.2 248.8Z"/><path d="M1640.0 231.4L1658.0 231.4L1649.0 247.0Z"/><path d="M1650.8 229.5L1668.8 229.5L1659.8 245.1Z"/><path d="M1661.7 227.7L1679.7 227.7L1670.7 243.3Z"/><path d="M1672.5 225.8L1690.5 225.8L1681.5 241.4Z"/><path d="M1683.3 224.0L1701.3 224.0L1692.3 239.6Z"/><path d="M1694.1 222.2L1712.1 222.2L1703.1 237.8Z"/><path d="M1704.9 220.5L1722.9 220.5L1713.9 236.1Z"/><path d="M1715.7 218.9L1733.7 218.9L1724.7 234.5Z"/><path d="M1726.6 217.4L1744.6 217.4L1735.6 233.0Z"/><path d="M1737.4 216.0L1755.4 216.0L1746.4 231.6Z"/><path d="M1748.2 214.8L1766.2 214.8L1757.2 230.4Z"/><path d="M1759.0 213.6L1777.0 213.6L1768.0 229.2Z"/><path d="M1769.8 212.3L1787.8 212.3L1778.8 227.9Z"/><path d="M1780.6 211.1L1798.6 211.1L1789.6 226.7Z"/><path d="M1791.4 209.7L1809.4 209.7L1800.4 225.3Z"/><path d="M1802.3 208.4L1820.3 208.4L1811.3 224.0Z"/><path d="M1813.1 207.1L1831.1 207.1L1822.1 222.7Z"/></g>
<path d="M1173.1 619.8L1174.5 606.7L1175.8 594.1L1177.2 582.1L1178.5 570.7L1179.9 559.9L1181.2 549.9L1182.6 540.7L1183.9 532.3L1185.3 524.6L1186.6 517.4L1188.0 510.7L1189.3 504.3L1190.7 498.4L1192.0 492.8L1193.4 487.6L1194.7 482.7L1196.1 478.1L1197.4 473.8L1198.8 469.7L1200.1 465.9L1201.5 462.2L1202.8 458.7L1204.2 455.3L1205.5 452.1L1206.9 448.9L1208.3 445.9L1209.6 442.9L1211.0 440.1L1212.3 437.4L1213.7 434.8L1215.0 432.2L1216.4 429.8L1217.7 427.5L1219.1 425.3L1220.4 423.2L1221.8 421.2L1223.1 419.2L1224.5 417.3L1225.8 415.3L1227.2 413.3L1228.5 411.3L1229.9 409.2L1231.2 407.2L1232.6 405.1L1233.9 403.1L1235.3 401.1L1236.6 399.2L1238.0 397.4L1239.4 395.5L1240.7 393.8L1242.1 392.0L1243.4 390.3L1244.8 388.7L1246.1 387.0L1247.5 385.4L1248.8 383.8L1250.2 382.3L1251.5 380.8L1252.9 379.3L1254.2 377.8L1255.6 376.4L1256.9 374.9L1258.3 373.5L1259.6 372.1L1261.0 370.7L1262.3 369.3L1263.7 368.0L1265.0 366.6L1266.4 365.3L1267.7 363.9L1269.1 362.6L1270.4 361.3L1271.8 359.9L1273.2 358.6L1274.5 357.3L1275.9 355.9L1277.2 354.6L1278.6 353.3L1279.9 352.0L1281.3 350.8L1282.6 349.5L1284.0 348.3L1285.3 347.2L1286.7 346.0L1288.0 344.9L1289.4 343.7L1290.7 342.6L1292.1 341.5L1293.4 340.4L1294.8 339.3L1296.1 338.2L1297.5 337.2L1298.8 336.1L1300.2 335.1L1301.5 334.1L1302.9 333.0L1304.2 332.0L1305.6 331.0L1307.0 330.0L1308.3 329.0L1309.7 328.0L1311.0 327.0L1312.4 326.1L1313.7 325.1L1315.1 324.2L1316.4 323.2L1317.8 322.3L1319.1 321.3L1320.5 320.4L1321.8 319.5L1323.2 318.6L1324.5 317.7L1325.9 316.8L1327.2 315.9L1328.6 315.0L1329.9 314.2L1331.3 313.3L1332.6 312.4L1334.0 311.6L1335.3 310.8L1336.7 310.0L1338.0 309.2L1339.4 308.4L1340.8 307.6L1342.1 306.8L1343.5 306.0L1344.8 305.2L1346.2 304.5L1347.5 303.7L1348.9 303.0L1350.2 302.2L1351.6 301.5L1352.9 300.8L1354.3 300.1L1355.6 299.3L1357.0 298.6L1358.3 297.9L1359.7 297.2L1361.0 296.5L1362.4 295.8L1363.7 295.1L1365.1 294.4L1366.4 293.7L1367.8 293.0L1369.1 292.4L1370.5 291.7L1371.9 291.0L1373.2 290.4L1374.6 289.7L1375.9 289.1L1377.3 288.4L1378.6 287.8L1380.0 287.1L1381.3 286.5L1382.7 285.9L1384.0 285.2L1385.4 284.6L1386.7 284.0L1388.1 283.4L1389.4 282.7L1390.8 282.1L1392.1 281.5L1393.5 280.9L1394.8 280.2L1396.2 279.6L1397.5 279.0L1398.9 278.3L1400.2 277.7L1401.6 277.1L1402.9 276.4L1404.3 275.8L1405.7 275.2L1407.0 274.5L1408.4 273.9L1409.7 273.3L1411.1 272.6L1412.4 272.0L1413.8 271.4L1415.1 270.7L1416.5 270.1L1417.8 269.4L1419.2 268.8L1420.5 268.2L1421.9 267.5L1423.2 266.9L1424.6 266.3L1425.9 265.6L1427.3 265.0L1428.6 264.4L1430.0 263.7L1431.3 263.1L1432.7 262.4L1434.0 261.7L1435.4 261.0L1436.7 260.3L1438.1 259.6L1439.5 258.8L1440.8 258.1L1442.2 257.4L1443.5 256.8L1444.9 256.1L1446.2 255.5L1447.6 254.8L1448.9 254.1L1450.3 253.5L1451.6 252.9L1453.0 252.4L1454.3 251.9L1455.7 251.4L1457.0 251.0L1458.4 250.5L1459.7 250.2L1461.1 249.8L1462.4 249.4L1463.8 249.0L1465.1 248.7L1466.5 248.3L1467.8 248.0L1469.2 247.7L1470.5 247.4L1471.9 247.1L1473.3 246.8L1474.6 246.4L1476.0 246.1L1477.3 245.8L1478.7 245.4L1480.0 245.1L1481.4 244.7L1482.7 244.4L1484.1 244.0L1485.4 243.6L1486.8 243.2L1488.1 242.8L1489.5 242.3L1490.8 241.9L1492.2 241.4L1493.5 240.9L1494.9 240.5L1496.2 240.0L1497.6 239.5L1498.9 239.0L1500.3 238.5L1501.6 238.0L1503.0 237.4L1504.4 236.9L1505.7 236.4L1507.1 235.9L1508.4 235.4L1509.8 234.8L1511.1 234.3L1512.5 233.8L1513.8 233.3L1515.2 232.7L1516.5 232.2L1517.9 231.7L1519.2 231.2L1520.6 230.7L1521.9 230.2L1523.3 229.8L1524.6 229.3L1526.0 228.8L1527.3 228.4L1528.7 227.9L1530.0 227.4L1531.4 227.0L1532.7 226.5L1534.1 226.1L1535.4 225.7L1536.8 225.2L1538.2 224.8L1539.5 224.3L1540.9 223.9L1542.2 223.5L1543.6 223.0L1544.9 222.6L1546.3 222.2L1547.6 221.7L1549.0 221.3L1550.3 220.9L1551.7 220.4L1553.0 220.0L1554.4 219.6L1555.7 219.1L1557.1 218.7L1558.4 218.3L1559.8 217.9L1561.1 217.4L1562.5 217.0L1563.8 216.6L1565.2 216.2L1566.5 215.8L1567.9 215.3L1569.2 214.9L1570.6 214.5L1572.0 214.1L1573.3 213.7L1574.7 213.3L1576.0 212.9L1577.4 212.5L1578.7 212.1L1580.1 211.7L1581.4 211.2L1582.8 210.8L1584.1 210.4L1585.5 210.0L1586.8 209.6L1588.2 209.3L1589.5 208.9L1590.9 208.5L1592.2 208.1L1593.6 207.7L1594.9 207.3L1596.3 206.9L1597.6 206.5L1599.0 206.1L1600.3 205.8L1601.7 205.4L1603.0 205.0L1604.4 204.6L1605.8 204.3L1607.1 203.9L1608.5 203.5L1609.8 203.2L1611.2 202.8L1612.5 202.4L1613.9 202.1L1615.2 201.7L1616.6 201.3L1617.9 201.0L1619.3 200.6L1620.6 200.3L1622.0 199.9L1623.3 199.6L1624.7 199.2L1626.0 198.9L1627.4 198.6L1628.7 198.2L1630.1 197.9L1631.4 197.5L1632.8 197.2L1634.1 196.9L1635.5 196.6L1636.9 196.2L1638.2 195.9L1639.6 195.6L1640.9 195.3L1642.3 194.9L1643.6 194.6L1645.0 194.3L1646.3 194.0L1647.7 193.7L1649.0 193.4L1650.4 193.1L1651.7 192.7L1653.1 192.4L1654.4 192.1L1655.8 191.8L1657.1 191.5L1658.5 191.2L1659.8 190.9L1661.2 190.6L1662.5 190.3L1663.9 190.0L1665.2 189.7L1666.6 189.4L1667.9 189.1L1669.3 188.8L1670.7 188.5L1672.0 188.2L1673.4 187.9L1674.7 187.6L1676.1 187.3L1677.4 187.1L1678.8 186.8L1680.1 186.5L1681.5 186.2L1682.8 185.9L1684.2 185.6L1685.5 185.4L1686.9 185.1L1688.2 184.8L1689.6 184.5L1690.9 184.3L1692.3 184.0L1693.6 183.7L1695.0 183.5L1696.3 183.2L1697.7 182.9L1699.0 182.7L1700.4 182.4L1701.7 182.1L1703.1 181.9L1704.5 181.6L1705.8 181.4L1707.2 181.1L1708.5 180.9L1709.9 180.6L1711.2 180.4L1712.6 180.1L1713.9 179.9L1715.3 179.6L1716.6 179.4L1718.0 179.2L1719.3 178.9L1720.7 178.7L1722.0 178.4L1723.4 178.2L1724.7 178.0L1726.1 177.7L1727.4 177.5L1728.8 177.3L1730.1 177.1L1731.5 176.8L1732.8 176.6L1734.2 176.4L1735.6 176.2L1736.9 176.0L1738.3 175.8L1739.6 175.5L1741.0 175.3L1742.3 175.1L1743.7 174.9L1745.0 174.7L1746.4 174.5L1747.7 174.3L1749.1 174.1L1750.4 173.9L1751.8 173.7L1753.1 173.5L1754.5 173.3L1755.8 173.1L1757.2 172.9L1758.5 172.7L1759.9 172.5L1761.2 172.3L1762.6 172.1L1763.9 171.9L1765.3 171.8L1766.6 171.6L1768.0 171.4L1769.4 171.3L1770.7 171.1L1772.1 170.9L1773.4 170.8L1774.8 170.6L1776.1 170.5L1777.5 170.4L1778.8 170.2L1780.2 170.1L1781.5 170.0L1782.9 169.8L1784.2 169.7L1785.6 169.6L1786.9 169.5L1788.3 169.4L1789.6 169.2L1791.0 169.1L1792.3 169.0L1793.7 168.9L1795.0 168.8L1796.4 168.7L1797.7 168.6L1799.1 168.5L1800.4 168.4L1801.8 168.3L1803.2 168.2L1804.5 168.1L1805.9 168.0L1807.2 167.9L1808.6 167.8L1809.9 167.7L1811.3 167.6L1812.6 167.6L1814.0 167.5L1815.3 167.4L1816.7 167.3L1818.0 167.3L1819.4 167.2L1820.7 167.2L1822.1 167.1" fill="none" stroke="#ff00ff" stroke-width="1.1"/>
<g fill="#ff00ff"><path d="M1183.9 523.0L1193.2 532.3L1183.9 541.6L1174.6 532.3Z"/><path d="M1194.7 473.4L1204.0 482.7L1194.7 492.0L1185.4 482.7Z"/><path d="M1205.5 442.8L1214.8 452.1L1205.5 461.4L1196.2 452.1Z"/><path d="M1216.4 420.5L1225.7 429.8L1216.4 439.1L1207.1 429.8Z"/><path d="M1227.2 404.0L1236.5 413.3L1227.2 422.6L1217.9 413.3Z"/><path d="M1238.0 388.1L1247.3 397.4L1238.0 406.7L1228.7 397.4Z"/><path d="M1248.8 374.5L1258.1 383.8L1248.8 393.1L1239.5 383.8Z"/><path d="M1259.6 362.8L1268.9 372.1L1259.6 381.4L1250.3 372.1Z"/><path d="M1270.4 352.0L1279.7 361.3L1270.4 370.6L1261.1 361.3Z"/><path d="M1281.3 341.5L1290.6 350.8L1281.3 360.1L1272.0 350.8Z"/><path d="M1292.1 332.2L1301.4 341.5L1292.1 350.8L1282.8 341.5Z"/><path d="M1302.9 323.7L1312.2 333.0L1302.9 342.3L1293.6 333.0Z"/><path d="M1313.7 315.8L1323.0 325.1L1313.7 334.4L1304.4 325.1Z"/><path d="M1324.5 308.4L1333.8 317.7L1324.5 327.0L1315.2 317.7Z"/><path d="M1335.3 301.5L1344.6 310.8L1335.3 320.1L1326.0 310.8Z"/><path d="M1346.2 295.2L1355.5 304.5L1346.2 313.8L1336.9 304.5Z"/><path d="M1357.0 289.3L1366.3 298.6L1357.0 307.9L1347.7 298.6Z"/><path d="M1367.8 283.7L1377.1 293.0L1367.8 302.3L1358.5 293.0Z"/><path d="M1378.6 278.5L1387.9 287.8L1378.6 297.1L1369.3 287.8Z"/><path d="M1389.4 273.4L1398.7 282.7L1389.4 292.0L1380.1 282.7Z"/><path d="M1400.2 268.4L1409.5 277.7L1400.2 287.0L1390.9 277.7Z"/><path d="M1411.1 263.3L1420.4 272.6L1411.1 281.9L1401.8 272.6Z"/><path d="M1421.9 258.2L1431.2 267.5L1421.9 276.8L1412.6 267.5Z"/><path d="M1432.7 253.1L1442.0 262.4L1432.7 271.7L1423.4 262.4Z"/><path d="M1443.5 247.5L1452.8 256.8L1443.5 266.1L1434.2 256.8Z"/><path d="M1454.3 242.6L1463.6 251.9L1454.3 261.2L1445.0 251.9Z"/><path d="M1465.1 239.4L1474.4 248.7L1465.1 258.0L1455.8 248.7Z"/><path d="M1476.0 236.8L1485.3 246.1L1476.0 255.4L1466.7 246.1Z"/><path d="M1486.8 233.9L1496.1 243.2L1486.8 252.5L1477.5 243.2Z"/><path d="M1497.6 230.2L1506.9 239.5L1497.6 248.8L1488.3 239.5Z"/><path d="M1508.4 226.1L1517.7 235.4L1508.4 244.7L1499.1 235.4Z"/><path d="M1519.2 221.9L1528.5 231.2L1519.2 240.5L1509.9 231.2Z"/><path d="M1530.0 218.1L1539.3 227.4L1530.0 236.7L1520.7 227.4Z"/><path d="M1540.9 214.6L1550.2 223.9L1540.9 233.2L1531.6 223.9Z"/><path d="M1551.7 211.1L1561.0 220.4L1551.7 229.7L1542.4 220.4Z"/><path d="M1562.5 207.7L1571.8 217.0L1562.5 226.3L1553.2 217.0Z"/><path d="M1573.3 204.4L1582.6 213.7L1573.3 223.0L1564.0 213.7Z"/><path d="M1584.1 201.1L1593.4 210.4L1584.1 219.7L1574.8 210.4Z"/><path d="M1594.9 198.0L1604.2 207.3L1594.9 216.6L1585.6 207.3Z"/><path d="M1605.8 195.0L1615.1 204.3L1605.8 213.6L1596.5 204.3Z"/><path d="M1616.6 192.0L1625.9 201.3L1616.6 210.6L1607.3 201.3Z"/><path d="M1627.4 189.3L1636.7 198.6L1627.4 207.9L1618.1 198.6Z"/><path d="M1638.2 186.6L1647.5 195.9L1638.2 205.2L1628.9 195.9Z"/><path d="M1649.0 184.1L1658.3 193.4L1649.0 202.7L1639.7 193.4Z"/><path d="M1659.8 181.6L1669.1 190.9L1659.8 200.2L1650.5 190.9Z"/><path d="M1670.7 179.2L1680.0 188.5L1670.7 197.8L1661.4 188.5Z"/><path d="M1681.5 176.9L1690.8 186.2L1681.5 195.5L1672.2 186.2Z"/><path d="M1692.3 174.7L1701.6 184.0L1692.3 193.3L1683.0 184.0Z"/><path d="M1703.1 172.6L1712.4 181.9L1703.1 191.2L1693.8 181.9Z"/><path d="M1713.9 170.6L1723.2 179.9L1713.9 189.2L1704.6 179.9Z"/><path d="M1724.7 168.7L1734.0 178.0L1724.7 187.3L1715.4 178.0Z"/><path d="M1735.6 166.9L1744.9 176.2L1735.6 185.5L1726.3 176.2Z"/><path d="M1746.4 165.2L1755.7 174.5L1746.4 183.8L1737.1 174.5Z"/><path d="M1757.2 163.6L1766.5 172.9L1757.2 182.2L1747.9 172.9Z"/><path d="M1768.0 162.1L1777.3 171.4L1768.0 180.7L1758.7 171.4Z"/><path d="M1778.8 160.9L1788.1 170.2L1778.8 179.5L1769.5 170.2Z"/><path d="M1789.6 159.9L1798.9 169.2L1789.6 178.5L1780.3 169.2Z"/><path d="M1800.4 159.1L1809.7 168.4L1800.4 177.7L1791.1 168.4Z"/><path d="M1811.3 158.3L1820.6 167.6L1811.3 176.9L1802.0 167.6Z"/><path d="M1822.1 157.8L1831.4 167.1L1822.1 176.4L1812.8 167.1Z"/></g>
</g>
<path d="M1254.0 619.8V613.2M1254.0 18.6V25.2M1334.9 619.8V607.2M1334.9 18.6V31.2M1415.7 619.8V613.2M1415.7 18.6V25.2M1496.6 619.8V607.2M1496.6 18.6V31.2M1577.5 619.8V613.2M1577.5 18.6V25.2M1658.4 619.8V607.2M1658.4 18.6V31.2M1739.3 619.8V613.2M1739.3 18.6V25.2M1820.1 619.8V607.2M1820.1 18.6V31.2M1901.0 619.8V613.2M1901.0 18.6V25.2M1173.1 544.6H1179.7M1981.9 544.6H1975.3M1173.1 469.5H1185.7M1981.9 469.5H1969.3M1173.1 394.3H1179.7M1981.9 394.3H1975.3M1173.1 319.2H1185.7M1981.9 319.2H1969.3M1173.1 244.0H1179.7M1981.9 244.0H1975.3M1173.1 168.9H1185.7M1981.9 168.9H1969.3M1173.1 93.8H1179.7M1981.9 93.8H1975.3" stroke="#000" stroke-width="2.6" fill="none"/>
<rect x="1173.1" y="18.6" width="808.8" height="601.2" fill="none" stroke="#000" stroke-width="2.7"/>
<g font-family="Liberation Serif, serif" font-size="42.0"><text transform="translate(1173.1 663.8) scale(0.96 1)" text-anchor="middle">0</text><text transform="translate(1334.9 663.8) scale(0.96 1)" text-anchor="middle">5</text><text transform="translate(1496.6 663.8) scale(0.96 1)" text-anchor="middle">10</text><text transform="translate(1658.4 663.8) scale(0.96 1)" text-anchor="middle">15</text><text transform="translate(1820.1 663.8) scale(0.96 1)" text-anchor="middle">20</text><text transform="translate(1981.9 663.8) scale(0.96 1)" text-anchor="middle">25</text><text transform="translate(1159.6 632.0) scale(0.96 1)" text-anchor="end">0</text><text transform="translate(1159.6 481.7) scale(0.96 1)" text-anchor="end">50</text><text transform="translate(1159.6 331.4) scale(0.96 1)" text-anchor="end">100</text><text transform="translate(1159.6 181.1) scale(0.96 1)" text-anchor="end">150</text><text transform="translate(1159.6 30.8) scale(0.96 1)" text-anchor="end">200</text></g>
<g font-family="Liberation Serif, serif" font-size="26.1"><path d="M1697.2 456.2H1757.2" stroke="#000000" stroke-width="1.2"/><g fill="#000000"><rect x="1720.7" y="449.7" width="13.0" height="13.0"/></g><text x="1764.2" y="465.2">Unreinforced loess</text><path d="M1697.2 488.8H1757.2" stroke="#ff0000" stroke-width="1.2"/><g fill="#ff0000"><circle cx="1727.2" cy="488.8" r="7.3"/></g><text x="1763.2" y="497.8"><tspan font-style="italic">FL</tspan>=4 mm</text><path d="M1697.2 521.2H1757.2" stroke="#00ff00" stroke-width="1.2"/><g fill="#00ff00"><path d="M1727.2 513.4L1736.2 529.0L1718.2 529.0Z"/></g><text x="1763.2" y="530.2"><tspan font-style="italic">FL</tspan>=8 mm</text><path d="M1697.2 554.2H1757.2" stroke="#0000ff" stroke-width="1.2"/><g fill="#0000ff"><path d="M1718.2 546.4L1736.2 546.4L1727.2 562.0Z"/></g><text x="1763.2" y="563.2"><tspan font-style="italic">FL</tspan>=12 mm</text><path d="M1697.2 586.7H1757.2" stroke="#ff00ff" stroke-width="1.2"/><g fill="#ff00ff"><path d="M1727.2 577.4L1736.5 586.7L1727.2 596.0L1717.9 586.7Z"/></g><text x="1763.2" y="595.7"><tspan font-style="italic">FL</tspan>=16 mm</text></g>
<text x="1512.9" y="707.3" font-family="Liberation Serif, serif" font-size="52"><tspan font-style="italic">ε</tspan><tspan font-size="35" dy="16.5">a</tspan><tspan dy="-16.5"> (%)</tspan></text>
<text transform="translate(1085.2 318.9) rotate(-90)" text-anchor="middle" font-family="Liberation Serif, serif" font-size="52.5"><tspan font-style="italic">q</tspan> (kPa)</text>
<text x="1548.9" y="810.0" font-family="Noto Sans CJK SC, sans-serif" font-weight="350" font-size="61">b)</text>
<clipPath id="clipc"><rect x="123.6" y="899.9" width="809.8" height="600.6"/></clipPath>
<g clip-path="url(#clipc)">
<path d="M123.6 1500.5L125.3 1475.7L126.9 1465.4L128.6 1457.5L130.3 1450.9L132.0 1445.0L133.6 1439.7L135.3 1434.8L137.0 1430.3L138.6 1426.0L140.3 1422.0L142.0 1418.2L143.7 1414.5L145.3 1411.0L145.3 1411.0L148.0 1405.5L150.8 1400.2L153.5 1395.0L156.2 1390.1L158.9 1385.4L161.6 1381.0L164.3 1376.8L167.1 1372.9L169.8 1369.2L172.5 1365.7L175.2 1362.4L177.9 1359.2L180.6 1356.2L183.4 1353.3L186.1 1350.6L188.8 1347.9L191.5 1345.4L194.2 1343.0L196.9 1340.7L199.7 1338.5L202.4 1336.4L205.1 1334.3L207.8 1332.2L210.5 1330.2L213.2 1328.2L216.0 1326.3L218.7 1324.3L221.4 1322.4L224.1 1320.6L226.8 1318.8L229.5 1317.1L232.3 1315.5L235.0 1314.0L237.7 1312.5L240.4 1311.1L243.1 1309.7L245.8 1308.4L248.6 1307.1L251.3 1305.7L254.0 1304.4L256.7 1303.0L259.4 1301.7L262.1 1300.3L264.9 1298.9L267.6 1297.6L270.3 1296.3L273.0 1295.1L275.7 1293.9L278.4 1292.8L281.2 1291.7L283.9 1290.6L286.6 1289.6L289.3 1288.6L292.0 1287.6L294.7 1286.7L297.5 1285.8L300.2 1284.9L302.9 1284.1L305.6 1283.3L308.3 1282.5L311.0 1281.8L313.8 1281.0L316.5 1280.2L319.2 1279.5L321.9 1278.7L324.6 1277.9L327.3 1277.1L330.1 1276.4L332.8 1275.6L335.5 1274.8L338.2 1274.1L340.9 1273.5L343.6 1272.8L346.4 1272.2L349.1 1271.6L351.8 1271.1L354.5 1270.5L357.2 1270.0L359.9 1269.5L362.6 1269.0L365.4 1268.5L368.1 1268.1L370.8 1267.6L373.5 1267.2L376.2 1266.8L378.9 1266.4L381.7 1266.1L384.4 1265.7L387.1 1265.3L389.8 1264.9L392.5 1264.5L395.2 1264.1L398.0 1263.8L400.7 1263.4L403.4 1263.0L406.1 1262.7L408.8 1262.3L411.5 1261.9L414.3 1261.6L417.0 1261.2L419.7 1260.9L422.4 1260.6L425.1 1260.2L427.8 1260.0L430.6 1259.7L433.3 1259.5L436.0 1259.2L438.7 1259.0L441.4 1258.8L444.1 1258.6L446.9 1258.4L449.6 1258.2L452.3 1257.9L455.0 1257.6L457.7 1257.4L460.4 1257.1L463.2 1256.8L465.9 1256.6L468.6 1256.3L471.3 1256.1L474.0 1255.8L476.7 1255.6L479.5 1255.3L482.2 1255.1L484.9 1254.9L487.6 1254.6L490.3 1254.4L493.0 1254.3L495.8 1254.1L498.5 1253.9L501.2 1253.7L503.9 1253.5L506.6 1253.3L509.3 1253.2L512.1 1253.1L514.8 1253.1L517.5 1253.1L520.2 1253.1L522.9 1253.2L525.6 1253.4L528.4 1253.5L531.1 1253.6L533.8 1253.6L536.5 1253.7L539.2 1253.6L541.9 1253.4L544.7 1253.2L547.4 1252.9L550.1 1252.6L552.8 1252.4L555.5 1252.2L558.2 1252.2L561.0 1252.2L563.7 1252.3L566.4 1252.4L569.1 1252.6L571.8 1252.8L574.5 1252.9L577.3 1253.0L580.0 1253.1L582.7 1253.0L585.4 1252.9L588.1 1252.8L590.8 1252.6L593.6 1252.4L596.3 1252.3L599.0 1252.2L601.7 1252.2L604.4 1252.2L607.1 1252.2L609.8 1252.3L612.6 1252.5L615.3 1252.6L618.0 1252.7L620.7 1252.7L623.4 1252.8L626.1 1252.7L628.9 1252.7L631.6 1252.7L634.3 1252.6L637.0 1252.5L639.7 1252.5L642.4 1252.5L645.2 1252.5L647.9 1252.5L650.6 1252.8L653.3 1253.1L656.0 1253.5L658.7 1253.9L661.5 1254.2L664.2 1254.5L666.9 1254.6L669.6 1254.6L672.3 1254.6L675.0 1254.6L677.8 1254.6L680.5 1254.6L683.2 1254.6L685.9 1254.6L688.6 1254.6L691.3 1254.6L694.1 1254.8L696.8 1255.0L699.5 1255.3L702.2 1255.6L704.9 1255.9L707.6 1256.1L710.4 1256.4L713.1 1256.5L715.8 1256.7L718.5 1256.9L721.2 1257.1L723.9 1257.2L726.7 1257.4L729.4 1257.5L732.1 1257.6L734.8 1257.6L737.5 1257.6L740.2 1257.7L743.0 1257.7L745.7 1257.7L748.4 1257.8L751.1 1257.8L753.8 1257.9L756.5 1258.0L759.3 1258.2L762.0 1258.4L764.7 1258.8L767.4 1259.2L770.1 1259.6L772.8 1260.1L775.6 1260.6" fill="none" stroke="#000000" stroke-width="1.1"/>
<g fill="#000000"><rect x="138.8" y="1404.5" width="13.0" height="13.0"/><rect x="160.6" y="1366.4" width="13.0" height="13.0"/><rect x="182.3" y="1341.4" width="13.0" height="13.0"/><rect x="204.0" y="1323.7" width="13.0" height="13.0"/><rect x="225.8" y="1309.0" width="13.0" height="13.0"/><rect x="247.5" y="1297.9" width="13.0" height="13.0"/><rect x="269.2" y="1287.4" width="13.0" height="13.0"/><rect x="291.0" y="1279.3" width="13.0" height="13.0"/><rect x="312.7" y="1273.0" width="13.0" height="13.0"/><rect x="334.4" y="1267.0" width="13.0" height="13.0"/><rect x="356.1" y="1262.5" width="13.0" height="13.0"/><rect x="377.9" y="1259.2" width="13.0" height="13.0"/><rect x="399.6" y="1256.2" width="13.0" height="13.0"/><rect x="421.3" y="1253.5" width="13.0" height="13.0"/><rect x="443.1" y="1251.7" width="13.0" height="13.0"/><rect x="464.8" y="1249.6" width="13.0" height="13.0"/><rect x="486.5" y="1247.8" width="13.0" height="13.0"/><rect x="508.3" y="1246.6" width="13.0" height="13.0"/><rect x="530.0" y="1247.2" width="13.0" height="13.0"/><rect x="551.7" y="1245.7" width="13.0" height="13.0"/><rect x="573.5" y="1246.6" width="13.0" height="13.0"/><rect x="595.2" y="1245.7" width="13.0" height="13.0"/><rect x="616.9" y="1246.3" width="13.0" height="13.0"/><rect x="638.7" y="1246.0" width="13.0" height="13.0"/><rect x="660.4" y="1248.1" width="13.0" height="13.0"/><rect x="682.1" y="1248.1" width="13.0" height="13.0"/><rect x="703.9" y="1249.9" width="13.0" height="13.0"/><rect x="725.6" y="1251.1" width="13.0" height="13.0"/><rect x="747.3" y="1251.4" width="13.0" height="13.0"/><rect x="769.1" y="1254.1" width="13.0" height="13.0"/></g>
<path d="M123.6 1500.5L125.0 1493.9L126.3 1487.5L127.7 1481.2L129.0 1475.0L130.4 1468.9L131.8 1463.0L133.1 1457.2L134.5 1451.5L135.8 1446.0L137.2 1440.7L138.6 1435.4L139.9 1430.2L141.3 1425.2L142.6 1420.2L144.0 1415.4L145.4 1410.7L146.7 1406.1L148.1 1401.5L149.4 1397.1L150.8 1392.7L152.2 1388.4L153.5 1384.3L154.9 1380.3L156.2 1376.5L157.6 1372.8L159.0 1369.2L160.3 1365.7L161.7 1362.3L163.0 1359.0L164.4 1355.9L165.8 1352.8L167.1 1349.7L168.5 1346.8L169.8 1343.9L171.2 1341.1L172.6 1338.4L173.9 1335.8L175.3 1333.2L176.6 1330.8L178.0 1328.4L179.4 1326.2L180.7 1324.0L182.1 1321.9L183.4 1319.9L184.8 1318.0L186.2 1316.1L187.5 1314.3L188.9 1312.5L190.2 1310.8L191.6 1309.2L193.0 1307.7L194.3 1306.2L195.7 1304.8L197.1 1303.3L198.4 1301.9L199.8 1300.5L201.1 1299.1L202.5 1297.7L203.9 1296.3L205.2 1294.9L206.6 1293.6L207.9 1292.3L209.3 1291.0L210.7 1289.7L212.0 1288.4L213.4 1287.1L214.7 1285.9L216.1 1284.6L217.5 1283.4L218.8 1282.2L220.2 1281.1L221.5 1280.1L222.9 1279.1L224.3 1278.2L225.6 1277.3L227.0 1276.5L228.3 1275.7L229.7 1274.8L231.1 1274.0L232.4 1273.2L233.8 1272.3L235.1 1271.4L236.5 1270.6L237.9 1269.7L239.2 1268.8L240.6 1267.9L241.9 1267.1L243.3 1266.3L244.7 1265.4L246.0 1264.6L247.4 1263.8L248.7 1263.0L250.1 1262.2L251.5 1261.4L252.8 1260.7L254.2 1260.0L255.5 1259.3L256.9 1258.6L258.3 1258.0L259.6 1257.4L261.0 1256.8L262.3 1256.1L263.7 1255.5L265.1 1254.9L266.4 1254.2L267.8 1253.4L269.1 1252.7L270.5 1252.0L271.9 1251.2L273.2 1250.5L274.6 1249.8L275.9 1249.1L277.3 1248.5L278.7 1248.0L280.0 1247.4L281.4 1246.9L282.7 1246.3L284.1 1245.8L285.5 1245.2L286.8 1244.6L288.2 1244.0L289.5 1243.4L290.9 1242.7L292.3 1242.1L293.6 1241.4L295.0 1240.8L296.3 1240.2L297.7 1239.5L299.1 1238.9L300.4 1238.4L301.8 1237.8L303.1 1237.2L304.5 1236.7L305.9 1236.1L307.2 1235.6L308.6 1235.0L309.9 1234.5L311.3 1234.0L312.7 1233.4L314.0 1232.9L315.4 1232.4L316.7 1231.9L318.1 1231.3L319.5 1230.8L320.8 1230.3L322.2 1229.9L323.5 1229.4L324.9 1228.9L326.3 1228.5L327.6 1228.0L329.0 1227.5L330.3 1226.9L331.7 1226.3L333.1 1225.7L334.4 1225.0L335.8 1224.3L337.1 1223.7L338.5 1223.0L339.9 1222.4L341.2 1221.8L342.6 1221.3L344.0 1220.8L345.3 1220.4L346.7 1220.0L348.0 1219.5L349.4 1219.1L350.8 1218.7L352.1 1218.2L353.5 1217.7L354.8 1217.2L356.2 1216.7L357.6 1216.2L358.9 1215.7L360.3 1215.2L361.6 1214.7L363.0 1214.3L364.4 1213.9L365.7 1213.6L367.1 1213.3L368.4 1212.9L369.8 1212.6L371.2 1212.3L372.5 1212.0L373.9 1211.6L375.2 1211.2L376.6 1210.8L378.0 1210.3L379.3 1209.9L380.7 1209.4L382.0 1208.9L383.4 1208.5L384.8 1208.0L386.1 1207.6L387.5 1207.2L388.8 1206.8L390.2 1206.4L391.6 1206.0L392.9 1205.6L394.3 1205.2L395.6 1204.7L397.0 1204.2L398.4 1203.7L399.7 1203.1L401.1 1202.6L402.4 1202.0L403.8 1201.5L405.2 1201.0L406.5 1200.5L407.9 1200.1L409.2 1199.7L410.6 1199.4L412.0 1199.0L413.3 1198.7L414.7 1198.3L416.0 1198.0L417.4 1197.7L418.8 1197.4L420.1 1197.1L421.5 1196.8L422.8 1196.5L424.2 1196.2L425.6 1195.9L426.9 1195.6L428.3 1195.4L429.6 1195.1L431.0 1194.8L432.4 1194.6L433.7 1194.3L435.1 1194.0L436.4 1193.8L437.8 1193.6L439.2 1193.3L440.5 1193.1L441.9 1192.8L443.2 1192.6L444.6 1192.4L446.0 1192.1L447.3 1191.9L448.7 1191.7L450.0 1191.5L451.4 1191.2L452.8 1191.0L454.1 1190.8L455.5 1190.6L456.8 1190.3L458.2 1190.1L459.6 1189.9L460.9 1189.7L462.3 1189.5L463.6 1189.2L465.0 1189.0L466.4 1188.8L467.7 1188.6L469.1 1188.3L470.4 1188.1L471.8 1187.9L473.2 1187.6L474.5 1187.4L475.9 1187.1L477.2 1186.9L478.6 1186.6L480.0 1186.4L481.3 1186.1L482.7 1185.9L484.1 1185.6L485.4 1185.4L486.8 1185.1L488.1 1184.9L489.5 1184.6L490.9 1184.4L492.2 1184.1L493.6 1183.8L494.9 1183.6L496.3 1183.3L497.7 1183.1L499.0 1182.9L500.4 1182.6L501.7 1182.4L503.1 1182.1L504.5 1181.9L505.8 1181.6L507.2 1181.4L508.5 1181.1L509.9 1180.9L511.3 1180.6L512.6 1180.4L514.0 1180.1L515.3 1179.9L516.7 1179.6L518.1 1179.4L519.4 1179.1L520.8 1178.9L522.1 1178.6L523.5 1178.4L524.9 1178.1L526.2 1177.8L527.6 1177.6L528.9 1177.3L530.3 1177.1L531.7 1176.8L533.0 1176.6L534.4 1176.3L535.7 1176.0L537.1 1175.8L538.5 1175.5L539.8 1175.2L541.2 1175.0L542.5 1174.7L543.9 1174.4L545.3 1174.1L546.6 1173.9L548.0 1173.6L549.3 1173.3L550.7 1173.0L552.1 1172.7L553.4 1172.5L554.8 1172.2L556.1 1171.9L557.5 1171.6L558.9 1171.3L560.2 1171.0L561.6 1170.7L562.9 1170.4L564.3 1170.2L565.7 1169.9L567.0 1169.6L568.4 1169.3L569.7 1169.0L571.1 1168.7L572.5 1168.4L573.8 1168.2L575.2 1167.9L576.5 1167.6L577.9 1167.3L579.3 1167.1L580.6 1166.8L582.0 1166.5L583.3 1166.3L584.7 1166.0L586.1 1165.8L587.4 1165.5L588.8 1165.3L590.1 1165.0L591.5 1164.8L592.9 1164.5L594.2 1164.3L595.6 1164.1L596.9 1163.8L598.3 1163.6L599.7 1163.4L601.0 1163.2L602.4 1162.9L603.7 1162.7L605.1 1162.5L606.5 1162.3L607.8 1162.0L609.2 1161.8L610.5 1161.6L611.9 1161.4L613.3 1161.2L614.6 1161.0L616.0 1160.7L617.3 1160.5L618.7 1160.3L620.1 1160.1L621.4 1159.9L622.8 1159.7L624.1 1159.5L625.5 1159.3L626.9 1159.1L628.2 1158.9L629.6 1158.7L631.0 1158.5L632.3 1158.3L633.7 1158.1L635.0 1157.9L636.4 1157.8L637.8 1157.6L639.1 1157.4L640.5 1157.2L641.8 1157.0L643.2 1156.9L644.6 1156.7L645.9 1156.5L647.3 1156.3L648.6 1156.2L650.0 1156.0L651.4 1155.9L652.7 1155.7L654.1 1155.5L655.4 1155.4L656.8 1155.2L658.2 1155.1L659.5 1154.9L660.9 1154.8L662.2 1154.6L663.6 1154.5L665.0 1154.3L666.3 1154.2L667.7 1154.0L669.0 1153.9L670.4 1153.8L671.8 1153.6L673.1 1153.5L674.5 1153.3L675.8 1153.2L677.2 1153.1L678.6 1152.9L679.9 1152.8L681.3 1152.7L682.6 1152.5L684.0 1152.4L685.4 1152.3L686.7 1152.1L688.1 1152.0L689.4 1151.9L690.8 1151.8L692.2 1151.6L693.5 1151.5L694.9 1151.4L696.2 1151.3L697.6 1151.1L699.0 1151.0L700.3 1150.9L701.7 1150.8L703.0 1150.6L704.4 1150.5L705.8 1150.4L707.1 1150.3L708.5 1150.2L709.8 1150.0L711.2 1149.9L712.6 1149.8L713.9 1149.7L715.3 1149.6L716.6 1149.4L718.0 1149.3L719.4 1149.2L720.7 1149.1L722.1 1149.0L723.4 1148.9L724.8 1148.7L726.2 1148.6L727.5 1148.5L728.9 1148.4L730.2 1148.3L731.6 1148.2L733.0 1148.1L734.3 1147.9L735.7 1147.8L737.0 1147.7L738.4 1147.6L739.8 1147.5L741.1 1147.4L742.5 1147.3L743.8 1147.2L745.2 1147.1L746.6 1147.0L747.9 1146.9L749.3 1146.8L750.6 1146.6L752.0 1146.5L753.4 1146.4L754.7 1146.3L756.1 1146.2L757.4 1146.1L758.8 1146.0L760.2 1145.9L761.5 1145.8L762.9 1145.7L764.2 1145.6L765.6 1145.5" fill="none" stroke="#ff0000" stroke-width="1.1"/>
<g fill="#ff0000"><circle cx="123.6" cy="1500.5" r="7.3"/><circle cx="134.5" cy="1451.5" r="7.3"/><circle cx="145.4" cy="1410.7" r="7.3"/><circle cx="156.2" cy="1376.5" r="7.3"/><circle cx="167.1" cy="1349.7" r="7.3"/><circle cx="178.0" cy="1328.4" r="7.3"/><circle cx="188.9" cy="1312.5" r="7.3"/><circle cx="199.8" cy="1300.5" r="7.3"/><circle cx="210.7" cy="1289.7" r="7.3"/><circle cx="221.5" cy="1280.1" r="7.3"/><circle cx="232.4" cy="1273.2" r="7.3"/><circle cx="243.3" cy="1266.3" r="7.3"/><circle cx="254.2" cy="1260.0" r="7.3"/><circle cx="265.1" cy="1254.9" r="7.3"/><circle cx="275.9" cy="1249.1" r="7.3"/><circle cx="286.8" cy="1244.6" r="7.3"/><circle cx="297.7" cy="1239.5" r="7.3"/><circle cx="308.6" cy="1235.0" r="7.3"/><circle cx="319.5" cy="1230.8" r="7.3"/><circle cx="330.3" cy="1226.9" r="7.3"/><circle cx="341.2" cy="1221.8" r="7.3"/><circle cx="352.1" cy="1218.2" r="7.3"/><circle cx="363.0" cy="1214.3" r="7.3"/><circle cx="373.9" cy="1211.6" r="7.3"/><circle cx="384.8" cy="1208.0" r="7.3"/><circle cx="395.6" cy="1204.7" r="7.3"/><circle cx="406.5" cy="1200.5" r="7.3"/><circle cx="417.4" cy="1197.7" r="7.3"/><circle cx="428.3" cy="1195.4" r="7.3"/><circle cx="439.2" cy="1193.3" r="7.3"/><circle cx="450.0" cy="1191.5" r="7.3"/><circle cx="460.9" cy="1189.7" r="7.3"/><circle cx="471.8" cy="1187.9" r="7.3"/><circle cx="482.7" cy="1185.9" r="7.3"/><circle cx="493.6" cy="1183.8" r="7.3"/><circle cx="504.5" cy="1181.9" r="7.3"/><circle cx="515.3" cy="1179.9" r="7.3"/><circle cx="526.2" cy="1177.8" r="7.3"/><circle cx="537.1" cy="1175.8" r="7.3"/><circle cx="548.0" cy="1173.6" r="7.3"/><circle cx="558.9" cy="1171.3" r="7.3"/><circle cx="569.7" cy="1169.0" r="7.3"/><circle cx="580.6" cy="1166.8" r="7.3"/><circle cx="591.5" cy="1164.8" r="7.3"/><circle cx="602.4" cy="1162.9" r="7.3"/><circle cx="613.3" cy="1161.2" r="7.3"/><circle cx="624.1" cy="1159.5" r="7.3"/><circle cx="635.0" cy="1157.9" r="7.3"/><circle cx="645.9" cy="1156.5" r="7.3"/><circle cx="656.8" cy="1155.2" r="7.3"/><circle cx="667.7" cy="1154.0" r="7.3"/><circle cx="678.6" cy="1152.9" r="7.3"/><circle cx="689.4" cy="1151.9" r="7.3"/><circle cx="700.3" cy="1150.9" r="7.3"/><circle cx="711.2" cy="1149.9" r="7.3"/><circle cx="722.1" cy="1149.0" r="7.3"/><circle cx="733.0" cy="1148.1" r="7.3"/><circle cx="743.8" cy="1147.2" r="7.3"/><circle cx="754.7" cy="1146.3" r="7.3"/><circle cx="765.6" cy="1145.5" r="7.3"/></g>
<path d="M123.6 1500.5L125.0 1490.1L126.3 1480.2L127.7 1470.7L129.0 1461.7L130.4 1453.3L131.8 1445.6L133.1 1438.6L134.5 1432.3L135.8 1426.7L137.2 1421.7L138.6 1417.0L139.9 1412.6L141.3 1408.5L142.6 1404.5L144.0 1400.6L145.4 1396.6L146.7 1392.6L148.1 1388.7L149.4 1384.9L150.8 1381.2L152.2 1377.6L153.5 1374.1L154.9 1370.7L156.2 1367.5L157.6 1364.3L159.0 1361.3L160.3 1358.4L161.7 1355.5L163.0 1352.7L164.4 1350.0L165.8 1347.3L167.1 1344.6L168.5 1342.0L169.8 1339.3L171.2 1336.7L172.6 1334.1L173.9 1331.6L175.3 1329.1L176.6 1326.8L178.0 1324.5L179.4 1322.4L180.7 1320.4L182.1 1318.5L183.4 1316.7L184.8 1314.9L186.2 1313.0L187.5 1311.2L188.9 1309.2L190.2 1307.1L191.6 1305.0L193.0 1302.7L194.3 1300.5L195.7 1298.3L197.1 1296.3L198.4 1294.4L199.8 1292.7L201.1 1291.2L202.5 1289.9L203.9 1288.8L205.2 1287.6L206.6 1286.5L207.9 1285.4L209.3 1284.2L210.7 1282.8L212.0 1281.2L213.4 1279.5L214.7 1277.7L216.1 1275.8L217.5 1273.8L218.8 1272.0L220.2 1270.3L221.5 1268.7L222.9 1267.2L224.3 1265.9L225.6 1264.6L227.0 1263.3L228.3 1262.1L229.7 1260.9L231.1 1259.7L232.4 1258.5L233.8 1257.2L235.1 1256.0L236.5 1254.8L237.9 1253.7L239.2 1252.5L240.6 1251.4L241.9 1250.2L243.3 1249.2L244.7 1248.1L246.0 1247.1L247.4 1246.1L248.7 1245.1L250.1 1244.1L251.5 1243.1L252.8 1242.1L254.2 1241.0L255.5 1239.9L256.9 1238.8L258.3 1237.7L259.6 1236.5L261.0 1235.3L262.3 1234.2L263.7 1233.1L265.1 1232.0L266.4 1231.0L267.8 1230.0L269.1 1229.1L270.5 1228.1L271.9 1227.2L273.2 1226.3L274.6 1225.4L275.9 1224.5L277.3 1223.7L278.7 1222.9L280.0 1222.1L281.4 1221.3L282.7 1220.6L284.1 1219.8L285.5 1219.0L286.8 1218.2L288.2 1217.4L289.5 1216.5L290.9 1215.6L292.3 1214.7L293.6 1213.9L295.0 1213.0L296.3 1212.1L297.7 1211.3L299.1 1210.5L300.4 1209.8L301.8 1209.0L303.1 1208.3L304.5 1207.6L305.9 1206.8L307.2 1206.1L308.6 1205.3L309.9 1204.5L311.3 1203.7L312.7 1202.8L314.0 1202.0L315.4 1201.2L316.7 1200.3L318.1 1199.5L319.5 1198.7L320.8 1197.9L322.2 1197.2L323.5 1196.4L324.9 1195.7L326.3 1194.9L327.6 1194.2L329.0 1193.5L330.3 1192.7L331.7 1191.9L333.1 1191.1L334.4 1190.3L335.8 1189.5L337.1 1188.7L338.5 1187.9L339.9 1187.1L341.2 1186.4L342.6 1185.7L344.0 1185.0L345.3 1184.3L346.7 1183.7L348.0 1183.0L349.4 1182.4L350.8 1181.8L352.1 1181.3L353.5 1180.7L354.8 1180.3L356.2 1179.8L357.6 1179.3L358.9 1178.9L360.3 1178.4L361.6 1177.9L363.0 1177.4L364.4 1176.8L365.7 1176.2L367.1 1175.6L368.4 1175.0L369.8 1174.3L371.2 1173.7L372.5 1173.1L373.9 1172.6L375.2 1172.0L376.6 1171.5L378.0 1171.0L379.3 1170.6L380.7 1170.1L382.0 1169.6L383.4 1169.2L384.8 1168.7L386.1 1168.2L387.5 1167.6L388.8 1167.1L390.2 1166.6L391.6 1166.1L392.9 1165.6L394.3 1165.2L395.6 1164.8L397.0 1164.4L398.4 1164.1L399.7 1163.8L401.1 1163.5L402.4 1163.3L403.8 1163.0L405.2 1162.7L406.5 1162.4L407.9 1162.0L409.2 1161.6L410.6 1161.3L412.0 1160.9L413.3 1160.5L414.7 1160.0L416.0 1159.6L417.4 1159.2L418.8 1158.8L420.1 1158.3L421.5 1157.9L422.8 1157.4L424.2 1156.9L425.6 1156.4L426.9 1156.0L428.3 1155.5L429.6 1155.0L431.0 1154.5L432.4 1154.0L433.7 1153.5L435.1 1153.0L436.4 1152.5L437.8 1152.0L439.2 1151.5L440.5 1151.0L441.9 1150.5L443.2 1150.0L444.6 1149.5L446.0 1149.1L447.3 1148.6L448.7 1148.1L450.0 1147.6L451.4 1147.2L452.8 1146.8L454.1 1146.3L455.5 1145.9L456.8 1145.5L458.2 1145.0L459.6 1144.6L460.9 1144.2L462.3 1143.8L463.6 1143.4L465.0 1143.0L466.4 1142.7L467.7 1142.3L469.1 1141.9L470.4 1141.5L471.8 1141.2L473.2 1140.8L474.5 1140.4L475.9 1140.1L477.2 1139.7L478.6 1139.3L480.0 1139.0L481.3 1138.6L482.7 1138.3L484.1 1137.9L485.4 1137.6L486.8 1137.2L488.1 1136.9L489.5 1136.6L490.9 1136.2L492.2 1135.9L493.6 1135.6L494.9 1135.3L496.3 1134.9L497.7 1134.6L499.0 1134.3L500.4 1134.0L501.7 1133.7L503.1 1133.4L504.5 1133.1L505.8 1132.8L507.2 1132.5L508.5 1132.3L509.9 1132.0L511.3 1131.7L512.6 1131.5L514.0 1131.2L515.3 1130.9L516.7 1130.7L518.1 1130.4L519.4 1130.2L520.8 1129.9L522.1 1129.7L523.5 1129.4L524.9 1129.2L526.2 1128.9L527.6 1128.7L528.9 1128.4L530.3 1128.1L531.7 1127.9L533.0 1127.6L534.4 1127.4L535.7 1127.1L537.1 1126.8L538.5 1126.5L539.8 1126.3L541.2 1126.0L542.5 1125.7L543.9 1125.4L545.3 1125.1L546.6 1124.8L548.0 1124.5L549.3 1124.3L550.7 1124.0L552.1 1123.7L553.4 1123.4L554.8 1123.1L556.1 1122.8L557.5 1122.5L558.9 1122.2L560.2 1121.9L561.6 1121.6L562.9 1121.3L564.3 1121.0L565.7 1120.7L567.0 1120.4L568.4 1120.0L569.7 1119.7L571.1 1119.4L572.5 1119.1L573.8 1118.8L575.2 1118.5L576.5 1118.2L577.9 1117.9L579.3 1117.6L580.6 1117.3L582.0 1117.0L583.3 1116.7L584.7 1116.4L586.1 1116.2L587.4 1115.9L588.8 1115.6L590.1 1115.3L591.5 1115.0L592.9 1114.7L594.2 1114.4L595.6 1114.1L596.9 1113.8L598.3 1113.5L599.7 1113.3L601.0 1113.0L602.4 1112.7L603.7 1112.4L605.1 1112.1L606.5 1111.8L607.8 1111.5L609.2 1111.2L610.5 1110.9L611.9 1110.7L613.3 1110.4L614.6 1110.1L616.0 1109.8L617.3 1109.5L618.7 1109.2L620.1 1108.9L621.4 1108.6L622.8 1108.4L624.1 1108.1L625.5 1107.8L626.9 1107.5L628.2 1107.2L629.6 1107.0L631.0 1106.7L632.3 1106.4L633.7 1106.2L635.0 1105.9L636.4 1105.6L637.8 1105.4L639.1 1105.1L640.5 1104.9L641.8 1104.6L643.2 1104.3L644.6 1104.1L645.9 1103.9L647.3 1103.6L648.6 1103.4L650.0 1103.1L651.4 1102.9L652.7 1102.7L654.1 1102.5L655.4 1102.2L656.8 1102.0L658.2 1101.8L659.5 1101.6L660.9 1101.4L662.2 1101.2L663.6 1100.9L665.0 1100.7L666.3 1100.5L667.7 1100.3L669.0 1100.1L670.4 1099.9L671.8 1099.7L673.1 1099.5L674.5 1099.3L675.8 1099.1L677.2 1098.9L678.6 1098.7L679.9 1098.5L681.3 1098.3L682.6 1098.2L684.0 1098.0L685.4 1097.8L686.7 1097.6L688.1 1097.4L689.4 1097.2L690.8 1097.0L692.2 1096.8L693.5 1096.6L694.9 1096.4L696.2 1096.2L697.6 1096.0L699.0 1095.9L700.3 1095.7L701.7 1095.5L703.0 1095.3L704.4 1095.1L705.8 1094.9L707.1 1094.7L708.5 1094.5L709.8 1094.3L711.2 1094.1L712.6 1093.9L713.9 1093.7L715.3 1093.5L716.6 1093.3L718.0 1093.1L719.4 1092.9L720.7 1092.7L722.1 1092.5L723.4 1092.3L724.8 1092.1L726.2 1091.9L727.5 1091.7L728.9 1091.6L730.2 1091.4L731.6 1091.2L733.0 1091.0L734.3 1090.8L735.7 1090.6L737.0 1090.4L738.4 1090.2L739.8 1090.0L741.1 1089.8L742.5 1089.6L743.8 1089.4L745.2 1089.2L746.6 1089.0L747.9 1088.9L749.3 1088.7L750.6 1088.5L752.0 1088.3L753.4 1088.1L754.7 1087.9L756.1 1087.7L757.4 1087.5L758.8 1087.3L760.2 1087.1L761.5 1087.0L762.9 1086.8L764.2 1086.6L765.6 1086.4" fill="none" stroke="#00ff00" stroke-width="1.1"/>
<g fill="#00ff00"><path d="M123.6 1492.7L132.6 1508.3L114.6 1508.3Z"/><path d="M134.5 1424.5L143.5 1440.1L125.5 1440.1Z"/><path d="M145.4 1388.8L154.4 1404.4L136.4 1404.4Z"/><path d="M156.2 1359.7L165.2 1375.3L147.2 1375.3Z"/><path d="M167.1 1336.8L176.1 1352.4L158.1 1352.4Z"/><path d="M178.0 1316.7L187.0 1332.3L169.0 1332.3Z"/><path d="M188.9 1301.4L197.9 1317.0L179.9 1317.0Z"/><path d="M199.8 1284.9L208.8 1300.5L190.8 1300.5Z"/><path d="M210.7 1275.0L219.7 1290.6L201.7 1290.6Z"/><path d="M221.5 1260.9L230.5 1276.5L212.5 1276.5Z"/><path d="M232.4 1250.7L241.4 1266.3L223.4 1266.3Z"/><path d="M243.3 1241.4L252.3 1257.0L234.3 1257.0Z"/><path d="M254.2 1233.2L263.2 1248.8L245.2 1248.8Z"/><path d="M265.1 1224.2L274.1 1239.8L256.1 1239.8Z"/><path d="M275.9 1216.7L284.9 1232.3L266.9 1232.3Z"/><path d="M286.8 1210.4L295.8 1226.0L277.8 1226.0Z"/><path d="M297.7 1203.5L306.7 1219.1L288.7 1219.1Z"/><path d="M308.6 1197.5L317.6 1213.1L299.6 1213.1Z"/><path d="M319.5 1190.9L328.5 1206.5L310.5 1206.5Z"/><path d="M330.3 1184.9L339.3 1200.5L321.3 1200.5Z"/><path d="M341.2 1178.6L350.2 1194.2L332.2 1194.2Z"/><path d="M352.1 1173.5L361.1 1189.1L343.1 1189.1Z"/><path d="M363.0 1169.6L372.0 1185.2L354.0 1185.2Z"/><path d="M373.9 1164.8L382.9 1180.4L364.9 1180.4Z"/><path d="M384.8 1160.9L393.8 1176.5L375.8 1176.5Z"/><path d="M395.6 1157.0L404.6 1172.6L386.6 1172.6Z"/><path d="M406.5 1154.6L415.5 1170.2L397.5 1170.2Z"/><path d="M417.4 1151.4L426.4 1167.0L408.4 1167.0Z"/><path d="M428.3 1147.7L437.3 1163.3L419.3 1163.3Z"/><path d="M439.2 1143.7L448.2 1159.3L430.2 1159.3Z"/><path d="M450.0 1139.8L459.0 1155.4L441.0 1155.4Z"/><path d="M460.9 1136.4L469.9 1152.0L451.9 1152.0Z"/><path d="M471.8 1133.4L480.8 1149.0L462.8 1149.0Z"/><path d="M482.7 1130.5L491.7 1146.1L473.7 1146.1Z"/><path d="M493.6 1127.8L502.6 1143.4L484.6 1143.4Z"/><path d="M504.5 1125.3L513.5 1140.9L495.5 1140.9Z"/><path d="M515.3 1123.1L524.3 1138.7L506.3 1138.7Z"/><path d="M526.2 1121.1L535.2 1136.7L517.2 1136.7Z"/><path d="M537.1 1119.0L546.1 1134.6L528.1 1134.6Z"/><path d="M548.0 1116.7L557.0 1132.3L539.0 1132.3Z"/><path d="M558.9 1114.4L567.9 1130.0L549.9 1130.0Z"/><path d="M569.7 1111.9L578.7 1127.5L560.7 1127.5Z"/><path d="M580.6 1109.5L589.6 1125.1L571.6 1125.1Z"/><path d="M591.5 1107.2L600.5 1122.8L582.5 1122.8Z"/><path d="M602.4 1104.9L611.4 1120.5L593.4 1120.5Z"/><path d="M613.3 1102.6L622.3 1118.2L604.3 1118.2Z"/><path d="M624.1 1100.3L633.1 1115.9L615.1 1115.9Z"/><path d="M635.0 1098.1L644.0 1113.7L626.0 1113.7Z"/><path d="M645.9 1096.1L654.9 1111.7L636.9 1111.7Z"/><path d="M656.8 1094.2L665.8 1109.8L647.8 1109.8Z"/><path d="M667.7 1092.5L676.7 1108.1L658.7 1108.1Z"/><path d="M678.6 1090.9L687.6 1106.5L669.6 1106.5Z"/><path d="M689.4 1089.4L698.4 1105.0L680.4 1105.0Z"/><path d="M700.3 1087.9L709.3 1103.5L691.3 1103.5Z"/><path d="M711.2 1086.3L720.2 1101.9L702.2 1101.9Z"/><path d="M722.1 1084.7L731.1 1100.3L713.1 1100.3Z"/><path d="M733.0 1083.2L742.0 1098.8L724.0 1098.8Z"/><path d="M743.8 1081.6L752.8 1097.2L734.8 1097.2Z"/><path d="M754.7 1080.1L763.7 1095.7L745.7 1095.7Z"/><path d="M765.6 1078.6L774.6 1094.2L756.6 1094.2Z"/></g>
<path d="M123.6 1489.4L125.0 1478.0L126.3 1467.0L127.7 1456.3L129.0 1446.1L130.4 1436.3L131.7 1426.9L133.1 1418.1L134.4 1409.8L135.8 1401.9L137.2 1394.3L138.5 1387.1L139.9 1380.1L141.2 1373.5L142.6 1367.3L143.9 1361.5L145.3 1356.1L146.6 1351.0L148.0 1346.3L149.4 1341.8L150.7 1337.5L152.1 1333.5L153.4 1329.6L154.8 1325.8L156.1 1322.1L157.5 1318.5L158.8 1315.1L160.2 1311.8L161.6 1308.6L162.9 1305.4L164.3 1302.4L165.6 1299.5L167.0 1296.6L168.3 1293.8L169.7 1291.0L171.1 1288.3L172.4 1285.7L173.8 1283.2L175.1 1280.7L176.5 1278.4L177.8 1276.2L179.2 1274.1L180.5 1272.0L181.9 1270.1L183.3 1268.2L184.6 1266.4L186.0 1264.6L187.3 1262.9L188.7 1261.2L190.0 1259.5L191.4 1257.8L192.7 1256.2L194.1 1254.6L195.5 1253.1L196.8 1251.6L198.2 1250.0L199.5 1248.5L200.9 1247.1L202.2 1245.6L203.6 1244.2L204.9 1242.8L206.3 1241.4L207.7 1240.0L209.0 1238.6L210.4 1237.1L211.7 1235.7L213.1 1234.2L214.4 1232.7L215.8 1231.3L217.1 1229.8L218.5 1228.4L219.9 1227.0L221.2 1225.7L222.6 1224.5L223.9 1223.3L225.3 1222.2L226.6 1221.1L228.0 1220.1L229.3 1219.0L230.7 1217.9L232.1 1216.7L233.4 1215.5L234.8 1214.3L236.1 1213.0L237.5 1211.8L238.8 1210.5L240.2 1209.2L241.5 1208.0L242.9 1206.8L244.3 1205.6L245.6 1204.5L247.0 1203.3L248.3 1202.1L249.7 1201.0L251.0 1199.9L252.4 1198.8L253.8 1197.8L255.1 1196.8L256.5 1195.9L257.8 1194.9L259.2 1194.0L260.5 1193.1L261.9 1192.2L263.2 1191.3L264.6 1190.3L266.0 1189.2L267.3 1188.1L268.7 1186.9L270.0 1185.7L271.4 1184.5L272.7 1183.3L274.1 1182.3L275.4 1181.3L276.8 1180.4L278.2 1179.6L279.5 1178.8L280.9 1178.1L282.2 1177.3L283.6 1176.6L284.9 1175.8L286.3 1175.0L287.6 1174.1L289.0 1173.2L290.4 1172.2L291.7 1171.2L293.1 1170.2L294.4 1169.3L295.8 1168.4L297.1 1167.5L298.5 1166.6L299.8 1165.8L301.2 1165.0L302.6 1164.2L303.9 1163.5L305.3 1162.7L306.6 1161.9L308.0 1161.2L309.3 1160.4L310.7 1159.6L312.0 1158.8L313.4 1158.0L314.8 1157.2L316.1 1156.4L317.5 1155.6L318.8 1154.9L320.2 1154.1L321.5 1153.3L322.9 1152.5L324.2 1151.7L325.6 1150.9L327.0 1150.1L328.3 1149.3L329.7 1148.5L331.0 1147.8L332.4 1147.0L333.7 1146.2L335.1 1145.4L336.5 1144.6L337.8 1143.8L339.2 1143.0L340.5 1142.2L341.9 1141.4L343.2 1140.6L344.6 1139.8L345.9 1138.9L347.3 1138.1L348.7 1137.3L350.0 1136.4L351.4 1135.6L352.7 1134.8L354.1 1134.0L355.4 1133.2L356.8 1132.4L358.1 1131.6L359.5 1130.8L360.9 1130.1L362.2 1129.3L363.6 1128.6L364.9 1128.0L366.3 1127.4L367.6 1126.8L369.0 1126.2L370.3 1125.6L371.7 1124.9L373.1 1124.2L374.4 1123.5L375.8 1122.7L377.1 1121.9L378.5 1121.1L379.8 1120.2L381.2 1119.4L382.5 1118.7L383.9 1117.9L385.3 1117.2L386.6 1116.6L388.0 1115.9L389.3 1115.3L390.7 1114.7L392.0 1114.0L393.4 1113.4L394.7 1112.8L396.1 1112.2L397.5 1111.6L398.8 1110.9L400.2 1110.3L401.5 1109.7L402.9 1109.1L404.2 1108.6L405.6 1108.0L406.9 1107.5L408.3 1107.0L409.7 1106.5L411.0 1106.0L412.4 1105.5L413.7 1105.1L415.1 1104.6L416.4 1104.1L417.8 1103.7L419.2 1103.2L420.5 1102.8L421.9 1102.4L423.2 1102.0L424.6 1101.5L425.9 1101.1L427.3 1100.7L428.6 1100.2L430.0 1099.8L431.4 1099.4L432.7 1099.0L434.1 1098.5L435.4 1098.1L436.8 1097.6L438.1 1097.2L439.5 1096.7L440.8 1096.3L442.2 1095.8L443.6 1095.4L444.9 1094.9L446.3 1094.4L447.6 1094.0L449.0 1093.5L450.3 1093.0L451.7 1092.6L453.0 1092.1L454.4 1091.6L455.8 1091.1L457.1 1090.7L458.5 1090.2L459.8 1089.7L461.2 1089.3L462.5 1088.8L463.9 1088.3L465.2 1087.9L466.6 1087.4L468.0 1087.0L469.3 1086.5L470.7 1086.1L472.0 1085.6L473.4 1085.2L474.7 1084.7L476.1 1084.3L477.4 1083.9L478.8 1083.4L480.2 1083.0L481.5 1082.6L482.9 1082.2L484.2 1081.8L485.6 1081.3L486.9 1080.9L488.3 1080.5L489.6 1080.1L491.0 1079.7L492.4 1079.3L493.7 1078.9L495.1 1078.5L496.4 1078.1L497.8 1077.7L499.1 1077.3L500.5 1076.9L501.9 1076.5L503.2 1076.2L504.6 1075.8L505.9 1075.4L507.3 1075.0L508.6 1074.6L510.0 1074.3L511.3 1073.9L512.7 1073.5L514.1 1073.1L515.4 1072.8L516.8 1072.4L518.1 1072.1L519.5 1071.7L520.8 1071.3L522.2 1071.0L523.5 1070.6L524.9 1070.3L526.3 1069.9L527.6 1069.6L529.0 1069.2L530.3 1068.8L531.7 1068.5L533.0 1068.1L534.4 1067.8L535.7 1067.4L537.1 1067.1L538.5 1066.7L539.8 1066.4L541.2 1066.0L542.5 1065.7L543.9 1065.3L545.2 1065.0L546.6 1064.6L547.9 1064.3L549.3 1063.9L550.7 1063.6L552.0 1063.2L553.4 1062.9L554.7 1062.6L556.1 1062.2L557.4 1061.9L558.8 1061.6L560.1 1061.2L561.5 1060.9L562.9 1060.6L564.2 1060.3L565.6 1059.9L566.9 1059.6L568.3 1059.3L569.6 1059.0L571.0 1058.7L572.3 1058.4L573.7 1058.1L575.1 1057.8L576.4 1057.5L577.8 1057.2L579.1 1056.9L580.5 1056.6L581.8 1056.4L583.2 1056.1L584.6 1055.8L585.9 1055.6L587.3 1055.3L588.6 1055.1L590.0 1054.8L591.3 1054.6L592.7 1054.4L594.0 1054.1L595.4 1053.9L596.8 1053.7L598.1 1053.5L599.5 1053.3L600.8 1053.1L602.2 1052.8L603.5 1052.6L604.9 1052.5L606.2 1052.3L607.6 1052.1L609.0 1051.9L610.3 1051.7L611.7 1051.5L613.0 1051.3L614.4 1051.2L615.7 1051.0L617.1 1050.8L618.4 1050.6L619.8 1050.5L621.2 1050.3L622.5 1050.1L623.9 1050.0L625.2 1049.8L626.6 1049.6L627.9 1049.5L629.3 1049.3L630.6 1049.1L632.0 1049.0L633.4 1048.8L634.7 1048.6L636.1 1048.5L637.4 1048.3L638.8 1048.1L640.1 1048.0L641.5 1047.8L642.8 1047.6L644.2 1047.5L645.6 1047.3L646.9 1047.1L648.3 1046.9L649.6 1046.7L651.0 1046.6L652.3 1046.4L653.7 1046.2L655.1 1046.0L656.4 1045.8L657.8 1045.6L659.1 1045.5L660.5 1045.3L661.8 1045.1L663.2 1044.9L664.5 1044.7L665.9 1044.5L667.3 1044.3L668.6 1044.1L670.0 1043.9L671.3 1043.7L672.7 1043.5L674.0 1043.3L675.4 1043.1L676.7 1043.0L678.1 1042.8L679.5 1042.6L680.8 1042.4L682.2 1042.2L683.5 1042.0L684.9 1041.8L686.2 1041.7L687.6 1041.5L688.9 1041.3L690.3 1041.1L691.7 1040.9L693.0 1040.8L694.4 1040.6L695.7 1040.4L697.1 1040.3L698.4 1040.1L699.8 1040.0L701.1 1039.8L702.5 1039.7L703.9 1039.5L705.2 1039.4L706.6 1039.2L707.9 1039.1L709.3 1038.9L710.6 1038.8L712.0 1038.7L713.3 1038.5L714.7 1038.4L716.1 1038.3L717.4 1038.1L718.8 1038.0L720.1 1037.9L721.5 1037.7L722.8 1037.6L724.2 1037.5L725.5 1037.3L726.9 1037.2L728.3 1037.1L729.6 1037.0L731.0 1036.8L732.3 1036.7L733.7 1036.6L735.0 1036.5L736.4 1036.3L737.8 1036.2L739.1 1036.1L740.5 1036.0L741.8 1035.9L743.2 1035.8L744.5 1035.6L745.9 1035.5L747.2 1035.4L748.6 1035.3L750.0 1035.2L751.3 1035.1L752.7 1035.0L754.0 1034.9L755.4 1034.8L756.7 1034.7L758.1 1034.6L759.4 1034.5L760.8 1034.4L762.2 1034.3L763.5 1034.2L764.9 1034.1L766.2 1034.0L767.6 1033.9L768.9 1033.9L770.3 1033.8L771.6 1033.7L773.0 1033.6L774.4 1033.5" fill="none" stroke="#0000ff" stroke-width="1.1"/>
<g fill="#0000ff"><path d="M114.6 1481.6L132.6 1481.6L123.6 1497.2Z"/><path d="M125.4 1402.0L143.4 1402.0L134.4 1417.6Z"/><path d="M136.3 1348.3L154.3 1348.3L145.3 1363.9Z"/><path d="M147.1 1314.3L165.1 1314.3L156.1 1329.9Z"/><path d="M158.0 1288.8L176.0 1288.8L167.0 1304.4Z"/><path d="M168.8 1268.4L186.8 1268.4L177.8 1284.0Z"/><path d="M179.7 1253.4L197.7 1253.4L188.7 1269.0Z"/><path d="M190.5 1240.7L208.5 1240.7L199.5 1256.3Z"/><path d="M201.4 1229.3L219.4 1229.3L210.4 1244.9Z"/><path d="M212.2 1217.9L230.2 1217.9L221.2 1233.5Z"/><path d="M223.1 1208.9L241.1 1208.9L232.1 1224.5Z"/><path d="M233.9 1199.0L251.9 1199.0L242.9 1214.6Z"/><path d="M244.8 1190.0L262.8 1190.0L253.8 1205.6Z"/><path d="M255.6 1182.5L273.6 1182.5L264.6 1198.1Z"/><path d="M266.4 1173.5L284.4 1173.5L275.4 1189.1Z"/><path d="M277.3 1167.2L295.3 1167.2L286.3 1182.8Z"/><path d="M288.1 1159.7L306.1 1159.7L297.1 1175.3Z"/><path d="M299.0 1153.4L317.0 1153.4L308.0 1169.0Z"/><path d="M309.8 1147.1L327.8 1147.1L318.8 1162.7Z"/><path d="M320.7 1140.7L338.7 1140.7L329.7 1156.3Z"/><path d="M331.5 1134.4L349.5 1134.4L340.5 1150.0Z"/><path d="M342.4 1127.8L360.4 1127.8L351.4 1143.4Z"/><path d="M353.2 1121.5L371.2 1121.5L362.2 1137.1Z"/><path d="M364.1 1116.4L382.1 1116.4L373.1 1132.0Z"/><path d="M374.9 1110.1L392.9 1110.1L383.9 1125.7Z"/><path d="M385.7 1105.0L403.7 1105.0L394.7 1120.6Z"/><path d="M396.6 1100.2L414.6 1100.2L405.6 1115.8Z"/><path d="M407.4 1096.3L425.4 1096.3L416.4 1111.9Z"/><path d="M418.3 1092.9L436.3 1092.9L427.3 1108.5Z"/><path d="M429.1 1089.4L447.1 1089.4L438.1 1105.0Z"/><path d="M440.0 1085.7L458.0 1085.7L449.0 1101.3Z"/><path d="M450.8 1081.9L468.8 1081.9L459.8 1097.5Z"/><path d="M461.7 1078.3L479.7 1078.3L470.7 1093.9Z"/><path d="M472.5 1074.8L490.5 1074.8L481.5 1090.4Z"/><path d="M483.4 1071.5L501.4 1071.5L492.4 1087.1Z"/><path d="M494.2 1068.4L512.2 1068.4L503.2 1084.0Z"/><path d="M505.1 1065.3L523.1 1065.3L514.1 1080.9Z"/><path d="M515.9 1062.5L533.9 1062.5L524.9 1078.1Z"/><path d="M526.7 1059.6L544.7 1059.6L535.7 1075.2Z"/><path d="M537.6 1056.8L555.6 1056.8L546.6 1072.4Z"/><path d="M548.4 1054.1L566.4 1054.1L557.4 1069.7Z"/><path d="M559.3 1051.5L577.3 1051.5L568.3 1067.1Z"/><path d="M570.1 1049.1L588.1 1049.1L579.1 1064.7Z"/><path d="M581.0 1047.0L599.0 1047.0L590.0 1062.6Z"/><path d="M591.8 1045.3L609.8 1045.3L600.8 1060.9Z"/><path d="M602.7 1043.7L620.7 1043.7L611.7 1059.3Z"/><path d="M613.5 1042.3L631.5 1042.3L622.5 1057.9Z"/><path d="M624.4 1041.0L642.4 1041.0L633.4 1056.6Z"/><path d="M635.2 1039.7L653.2 1039.7L644.2 1055.3Z"/><path d="M646.1 1038.2L664.1 1038.2L655.1 1053.8Z"/><path d="M656.9 1036.7L674.9 1036.7L665.9 1052.3Z"/><path d="M667.7 1035.2L685.7 1035.2L676.7 1050.8Z"/><path d="M678.6 1033.7L696.6 1033.7L687.6 1049.3Z"/><path d="M689.4 1032.3L707.4 1032.3L698.4 1047.9Z"/><path d="M700.3 1031.1L718.3 1031.1L709.3 1046.7Z"/><path d="M711.1 1030.1L729.1 1030.1L720.1 1045.7Z"/><path d="M722.0 1029.0L740.0 1029.0L731.0 1044.6Z"/><path d="M732.8 1028.1L750.8 1028.1L741.8 1043.7Z"/><path d="M743.7 1027.2L761.7 1027.2L752.7 1042.8Z"/><path d="M754.5 1026.4L772.5 1026.4L763.5 1042.0Z"/><path d="M765.4 1025.7L783.4 1025.7L774.4 1041.3Z"/></g>
<path d="M123.6 1500.5L125.0 1489.6L126.3 1478.8L127.7 1468.0L129.0 1457.2L130.4 1446.4L131.7 1435.7L133.1 1425.0L134.4 1414.3L135.8 1403.6L137.2 1392.9L138.5 1382.2L139.9 1371.6L141.2 1361.0L142.6 1350.4L143.9 1340.0L145.3 1329.6L146.6 1319.2L148.0 1308.6L149.4 1298.0L150.7 1287.6L152.1 1277.3L153.4 1267.5L154.8 1258.3L156.1 1249.7L157.5 1241.7L158.8 1233.8L160.2 1226.2L161.6 1218.9L162.9 1212.0L164.3 1205.7L165.6 1199.9L167.0 1194.8L168.3 1190.2L169.7 1186.0L171.1 1182.0L172.4 1178.3L173.8 1174.9L175.1 1171.6L176.5 1168.6L177.8 1165.7L179.2 1162.9L180.5 1160.3L181.9 1157.9L183.3 1155.6L184.6 1153.4L186.0 1151.2L187.3 1149.1L188.7 1147.0L190.0 1145.0L191.4 1143.0L192.7 1141.0L194.1 1139.1L195.5 1137.2L196.8 1135.4L198.2 1133.7L199.5 1132.0L200.9 1130.4L202.2 1128.9L203.6 1127.4L204.9 1126.0L206.3 1124.6L207.7 1123.2L209.0 1121.9L210.4 1120.6L211.7 1119.4L213.1 1118.1L214.4 1116.9L215.8 1115.8L217.1 1114.7L218.5 1113.6L219.9 1112.6L221.2 1111.6L222.6 1110.7L223.9 1109.9L225.3 1109.1L226.6 1108.3L228.0 1107.6L229.3 1106.8L230.7 1106.1L232.1 1105.3L233.4 1104.5L234.8 1103.7L236.1 1102.9L237.5 1102.2L238.8 1101.4L240.2 1100.6L241.5 1099.8L242.9 1099.0L244.3 1098.2L245.6 1097.4L247.0 1096.6L248.3 1095.8L249.7 1095.0L251.0 1094.2L252.4 1093.4L253.8 1092.7L255.1 1092.0L256.5 1091.4L257.8 1090.7L259.2 1090.1L260.5 1089.5L261.9 1088.9L263.2 1088.3L264.6 1087.6L266.0 1086.9L267.3 1086.1L268.7 1085.3L270.0 1084.5L271.4 1083.7L272.7 1082.9L274.1 1082.2L275.4 1081.4L276.8 1080.6L278.2 1079.9L279.5 1079.1L280.9 1078.4L282.2 1077.6L283.6 1076.9L284.9 1076.2L286.3 1075.6L287.6 1075.0L289.0 1074.4L290.4 1073.8L291.7 1073.3L293.1 1072.7L294.4 1072.2L295.8 1071.7L297.1 1071.2L298.5 1070.7L299.8 1070.2L301.2 1069.7L302.6 1069.2L303.9 1068.7L305.3 1068.2L306.6 1067.8L308.0 1067.3L309.3 1066.9L310.7 1066.4L312.0 1066.0L313.4 1065.5L314.8 1065.1L316.1 1064.7L317.5 1064.3L318.8 1063.8L320.2 1063.4L321.5 1063.0L322.9 1062.6L324.2 1062.2L325.6 1061.8L327.0 1061.4L328.3 1061.0L329.7 1060.6L331.0 1060.2L332.4 1059.8L333.7 1059.4L335.1 1059.0L336.5 1058.6L337.8 1058.2L339.2 1057.8L340.5 1057.4L341.9 1057.0L343.2 1056.7L344.6 1056.3L345.9 1055.9L347.3 1055.6L348.7 1055.2L350.0 1054.8L351.4 1054.5L352.7 1054.1L354.1 1053.8L355.4 1053.4L356.8 1053.1L358.1 1052.7L359.5 1052.4L360.9 1052.1L362.2 1051.7L363.6 1051.4L364.9 1051.1L366.3 1050.7L367.6 1050.4L369.0 1050.1L370.3 1049.8L371.7 1049.5L373.1 1049.1L374.4 1048.8L375.8 1048.5L377.1 1048.2L378.5 1047.9L379.8 1047.6L381.2 1047.3L382.5 1047.0L383.9 1046.8L385.3 1046.5L386.6 1046.2L388.0 1045.9L389.3 1045.6L390.7 1045.4L392.0 1045.1L393.4 1044.8L394.7 1044.5L396.1 1044.3L397.5 1044.0L398.8 1043.7L400.2 1043.5L401.5 1043.2L402.9 1042.9L404.2 1042.7L405.6 1042.4L406.9 1042.1L408.3 1041.9L409.7 1041.6L411.0 1041.3L412.4 1041.1L413.7 1040.8L415.1 1040.5L416.4 1040.3L417.8 1040.0L419.2 1039.7L420.5 1039.4L421.9 1039.2L423.2 1038.9L424.6 1038.6L425.9 1038.4L427.3 1038.1L428.6 1037.8L430.0 1037.5L431.4 1037.3L432.7 1037.0L434.1 1036.8L435.4 1036.5L436.8 1036.2L438.1 1036.0L439.5 1035.7L440.8 1035.4L442.2 1035.2L443.6 1034.9L444.9 1034.6L446.3 1034.4L447.6 1034.1L449.0 1033.8L450.3 1033.6L451.7 1033.3L453.0 1033.0L454.4 1032.7L455.8 1032.5L457.1 1032.2L458.5 1031.9L459.8 1031.6L461.2 1031.3L462.5 1031.1L463.9 1030.8L465.2 1030.5L466.6 1030.2L468.0 1029.9L469.3 1029.6L470.7 1029.3L472.0 1029.0L473.4 1028.7L474.7 1028.3L476.1 1028.0L477.4 1027.7L478.8 1027.4L480.2 1027.1L481.5 1026.7L482.9 1026.4L484.2 1026.1L485.6 1025.8L486.9 1025.4L488.3 1025.1L489.6 1024.8L491.0 1024.4L492.4 1024.1L493.7 1023.8L495.1 1023.5L496.4 1023.1L497.8 1022.8L499.1 1022.5L500.5 1022.2L501.9 1021.9L503.2 1021.5L504.6 1021.2L505.9 1020.9L507.3 1020.6L508.6 1020.3L510.0 1020.0L511.3 1019.7L512.7 1019.5L514.1 1019.2L515.4 1018.9L516.8 1018.6L518.1 1018.3L519.5 1018.0L520.8 1017.7L522.2 1017.5L523.5 1017.2L524.9 1016.9L526.3 1016.6L527.6 1016.4L529.0 1016.1L530.3 1015.8L531.7 1015.6L533.0 1015.3L534.4 1015.0L535.7 1014.8L537.1 1014.5L538.5 1014.3L539.8 1014.0L541.2 1013.7L542.5 1013.5L543.9 1013.2L545.2 1013.0L546.6 1012.7L547.9 1012.4L549.3 1012.2L550.7 1011.9L552.0 1011.7L553.4 1011.4L554.7 1011.1L556.1 1010.9L557.4 1010.6L558.8 1010.4L560.1 1010.1L561.5 1009.9L562.9 1009.6L564.2 1009.4L565.6 1009.1L566.9 1008.9L568.3 1008.6L569.6 1008.4L571.0 1008.1L572.3 1007.9L573.7 1007.6L575.1 1007.4L576.4 1007.2L577.8 1006.9L579.1 1006.7L580.5 1006.5L581.8 1006.2L583.2 1006.0L584.6 1005.8L585.9 1005.6L587.3 1005.4L588.6 1005.1L590.0 1004.9L591.3 1004.7L592.7 1004.5L594.0 1004.3L595.4 1004.1L596.8 1003.9L598.1 1003.7L599.5 1003.5L600.8 1003.3L602.2 1003.1L603.5 1002.9L604.9 1002.7L606.2 1002.5L607.6 1002.3L609.0 1002.1L610.3 1001.9L611.7 1001.7L613.0 1001.5L614.4 1001.3L615.7 1001.2L617.1 1001.0L618.4 1000.8L619.8 1000.6L621.2 1000.4L622.5 1000.2L623.9 1000.1L625.2 999.9L626.6 999.7L627.9 999.5L629.3 999.4L630.6 999.2L632.0 999.0L633.4 998.8L634.7 998.7L636.1 998.5L637.4 998.3L638.8 998.2L640.1 998.0L641.5 997.9L642.8 997.7L644.2 997.5L645.6 997.4L646.9 997.2L648.3 997.1L649.6 996.9L651.0 996.7L652.3 996.6L653.7 996.4L655.1 996.3L656.4 996.1L657.8 996.0L659.1 995.8L660.5 995.7L661.8 995.5L663.2 995.4L664.5 995.3L665.9 995.1L667.3 995.0L668.6 994.8L670.0 994.7L671.3 994.6L672.7 994.4L674.0 994.3L675.4 994.1L676.7 994.0L678.1 993.9L679.5 993.7L680.8 993.6L682.2 993.5L683.5 993.3L684.9 993.2L686.2 993.1L687.6 992.9L688.9 992.8L690.3 992.7L691.7 992.6L693.0 992.4L694.4 992.3L695.7 992.2L697.1 992.0L698.4 991.9L699.8 991.8L701.1 991.7L702.5 991.5L703.9 991.4L705.2 991.3L706.6 991.2L707.9 991.0L709.3 990.9L710.6 990.8L712.0 990.7L713.3 990.6L714.7 990.4L716.1 990.3L717.4 990.2L718.8 990.1L720.1 989.9L721.5 989.8L722.8 989.7L724.2 989.6L725.5 989.5L726.9 989.3L728.3 989.2L729.6 989.1L731.0 989.0L732.3 988.9L733.7 988.8L735.0 988.6L736.4 988.5L737.8 988.4L739.1 988.3L740.5 988.2L741.8 988.1L743.2 988.0L744.5 987.8L745.9 987.7L747.2 987.6L748.6 987.5L750.0 987.4L751.3 987.3L752.7 987.2L754.0 987.1L755.4 987.0L756.7 986.8L758.1 986.7L759.4 986.6L760.8 986.5L762.2 986.4L763.5 986.3L764.9 986.2L766.2 986.1L767.6 986.0L768.9 985.9L770.3 985.8L771.6 985.7L773.0 985.6L774.4 985.5" fill="none" stroke="#ff00ff" stroke-width="1.1"/>
<g fill="#ff00ff"><path d="M123.6 1491.2L132.9 1500.5L123.6 1509.8L114.3 1500.5Z"/><path d="M134.4 1405.0L143.7 1414.3L134.4 1423.6L125.1 1414.3Z"/><path d="M145.3 1320.3L154.6 1329.6L145.3 1338.9L136.0 1329.6Z"/><path d="M156.1 1240.4L165.4 1249.7L156.1 1259.0L146.8 1249.7Z"/><path d="M167.0 1185.5L176.3 1194.8L167.0 1204.1L157.7 1194.8Z"/><path d="M177.8 1156.4L187.1 1165.7L177.8 1175.0L168.5 1165.7Z"/><path d="M188.7 1137.7L198.0 1147.0L188.7 1156.3L179.4 1147.0Z"/><path d="M199.5 1122.7L208.8 1132.0L199.5 1141.3L190.2 1132.0Z"/><path d="M210.4 1111.3L219.7 1120.6L210.4 1129.9L201.1 1120.6Z"/><path d="M221.2 1102.3L230.5 1111.6L221.2 1120.9L211.9 1111.6Z"/><path d="M232.1 1096.0L241.4 1105.3L232.1 1114.6L222.8 1105.3Z"/><path d="M242.9 1089.7L252.2 1099.0L242.9 1108.3L233.6 1099.0Z"/><path d="M253.8 1083.4L263.1 1092.7L253.8 1102.0L244.5 1092.7Z"/><path d="M264.6 1078.3L273.9 1087.6L264.6 1096.9L255.3 1087.6Z"/><path d="M275.4 1072.1L284.7 1081.4L275.4 1090.7L266.1 1081.4Z"/><path d="M286.3 1066.3L295.6 1075.6L286.3 1084.9L277.0 1075.6Z"/><path d="M297.1 1061.9L306.4 1071.2L297.1 1080.5L287.8 1071.2Z"/><path d="M308.0 1058.0L317.3 1067.3L308.0 1076.6L298.7 1067.3Z"/><path d="M318.8 1054.5L328.1 1063.8L318.8 1073.1L309.5 1063.8Z"/><path d="M329.7 1051.3L339.0 1060.6L329.7 1069.9L320.4 1060.6Z"/><path d="M340.5 1048.1L349.8 1057.4L340.5 1066.7L331.2 1057.4Z"/><path d="M351.4 1045.2L360.7 1054.5L351.4 1063.8L342.1 1054.5Z"/><path d="M362.2 1042.4L371.5 1051.7L362.2 1061.0L352.9 1051.7Z"/><path d="M373.1 1039.8L382.4 1049.1L373.1 1058.4L363.8 1049.1Z"/><path d="M383.9 1037.5L393.2 1046.8L383.9 1056.1L374.6 1046.8Z"/><path d="M394.7 1035.2L404.0 1044.5L394.7 1053.8L385.4 1044.5Z"/><path d="M405.6 1033.1L414.9 1042.4L405.6 1051.7L396.3 1042.4Z"/><path d="M416.4 1031.0L425.7 1040.3L416.4 1049.6L407.1 1040.3Z"/><path d="M427.3 1028.8L436.6 1038.1L427.3 1047.4L418.0 1038.1Z"/><path d="M438.1 1026.7L447.4 1036.0L438.1 1045.3L428.8 1036.0Z"/><path d="M449.0 1024.5L458.3 1033.8L449.0 1043.1L439.7 1033.8Z"/><path d="M459.8 1022.3L469.1 1031.6L459.8 1040.9L450.5 1031.6Z"/><path d="M470.7 1020.0L480.0 1029.3L470.7 1038.6L461.4 1029.3Z"/><path d="M481.5 1017.4L490.8 1026.7L481.5 1036.0L472.2 1026.7Z"/><path d="M492.4 1014.8L501.7 1024.1L492.4 1033.4L483.1 1024.1Z"/><path d="M503.2 1012.2L512.5 1021.5L503.2 1030.8L493.9 1021.5Z"/><path d="M514.1 1009.9L523.4 1019.2L514.1 1028.5L504.8 1019.2Z"/><path d="M524.9 1007.6L534.2 1016.9L524.9 1026.2L515.6 1016.9Z"/><path d="M535.7 1005.5L545.0 1014.8L535.7 1024.1L526.4 1014.8Z"/><path d="M546.6 1003.4L555.9 1012.7L546.6 1022.0L537.3 1012.7Z"/><path d="M557.4 1001.3L566.7 1010.6L557.4 1019.9L548.1 1010.6Z"/><path d="M568.3 999.3L577.6 1008.6L568.3 1017.9L559.0 1008.6Z"/><path d="M579.1 997.4L588.4 1006.7L579.1 1016.0L569.8 1006.7Z"/><path d="M590.0 995.6L599.3 1004.9L590.0 1014.2L580.7 1004.9Z"/><path d="M600.8 994.0L610.1 1003.3L600.8 1012.6L591.5 1003.3Z"/><path d="M611.7 992.4L621.0 1001.7L611.7 1011.0L602.4 1001.7Z"/><path d="M622.5 990.9L631.8 1000.2L622.5 1009.5L613.2 1000.2Z"/><path d="M633.4 989.5L642.7 998.8L633.4 1008.1L624.1 998.8Z"/><path d="M644.2 988.2L653.5 997.5L644.2 1006.8L634.9 997.5Z"/><path d="M655.1 987.0L664.4 996.3L655.1 1005.6L645.8 996.3Z"/><path d="M665.9 985.8L675.2 995.1L665.9 1004.4L656.6 995.1Z"/><path d="M676.7 984.7L686.0 994.0L676.7 1003.3L667.4 994.0Z"/><path d="M687.6 983.6L696.9 992.9L687.6 1002.2L678.3 992.9Z"/><path d="M698.4 982.6L707.7 991.9L698.4 1001.2L689.1 991.9Z"/><path d="M709.3 981.6L718.6 990.9L709.3 1000.2L700.0 990.9Z"/><path d="M720.1 980.6L729.4 989.9L720.1 999.2L710.8 989.9Z"/><path d="M731.0 979.7L740.3 989.0L731.0 998.3L721.7 989.0Z"/><path d="M741.8 978.8L751.1 988.1L741.8 997.4L732.5 988.1Z"/><path d="M752.7 977.9L762.0 987.2L752.7 996.5L743.4 987.2Z"/><path d="M763.5 977.0L772.8 986.3L763.5 995.6L754.2 986.3Z"/><path d="M774.4 976.2L783.7 985.5L774.4 994.8L765.1 985.5Z"/></g>
</g>
<path d="M204.6 1500.5V1493.9M204.6 899.9V906.5M285.6 1500.5V1487.9M285.6 899.9V912.5M366.5 1500.5V1493.9M366.5 899.9V906.5M447.5 1500.5V1487.9M447.5 899.9V912.5M528.5 1500.5V1493.9M528.5 899.9V906.5M609.5 1500.5V1487.9M609.5 899.9V912.5M690.5 1500.5V1493.9M690.5 899.9V906.5M771.4 1500.5V1487.9M771.4 899.9V912.5M852.4 1500.5V1493.9M852.4 899.9V906.5M123.6 1425.4H130.2M933.4 1425.4H926.8M123.6 1350.3H136.2M933.4 1350.3H920.8M123.6 1275.3H130.2M933.4 1275.3H926.8M123.6 1200.2H136.2M933.4 1200.2H920.8M123.6 1125.1H130.2M933.4 1125.1H926.8M123.6 1050.0H136.2M933.4 1050.0H920.8M123.6 975.0H130.2M933.4 975.0H926.8" stroke="#000" stroke-width="2.6" fill="none"/>
<rect x="123.6" y="899.9" width="809.8" height="600.6" fill="none" stroke="#000" stroke-width="2.7"/>
<g font-family="Liberation Serif, serif" font-size="42.0"><text transform="translate(123.6 1544.5) scale(0.96 1)" text-anchor="middle">0</text><text transform="translate(285.6 1544.5) scale(0.96 1)" text-anchor="middle">5</text><text transform="translate(447.5 1544.5) scale(0.96 1)" text-anchor="middle">10</text><text transform="translate(609.5 1544.5) scale(0.96 1)" text-anchor="middle">15</text><text transform="translate(771.4 1544.5) scale(0.96 1)" text-anchor="middle">20</text><text transform="translate(933.4 1544.5) scale(0.96 1)" text-anchor="middle">25</text><text transform="translate(110.1 1512.7) scale(0.96 1)" text-anchor="end">0</text><text transform="translate(110.1 1362.5) scale(0.96 1)" text-anchor="end">50</text><text transform="translate(110.1 1212.4) scale(0.96 1)" text-anchor="end">100</text><text transform="translate(110.1 1062.2) scale(0.96 1)" text-anchor="end">150</text><text transform="translate(110.1 912.1) scale(0.96 1)" text-anchor="end">200</text></g>
<g font-family="Liberation Serif, serif" font-size="26.1"><path d="M650.2 1337.3H709.2" stroke="#000000" stroke-width="1.2"/><g fill="#000000"><rect x="673.0" y="1330.8" width="13.0" height="13.0"/></g><text x="716.5" y="1346.3">Unreinforced loess</text><path d="M650.2 1370H709.2" stroke="#ff0000" stroke-width="1.2"/><g fill="#ff0000"><circle cx="679.5" cy="1370.0" r="7.3"/></g><text x="715.5" y="1379.0"><tspan font-style="italic">FL</tspan>=4 mm</text><path d="M650.2 1402.2H709.2" stroke="#00ff00" stroke-width="1.2"/><g fill="#00ff00"><path d="M679.5 1394.4L688.5 1410.0L670.5 1410.0Z"/></g><text x="715.5" y="1411.2"><tspan font-style="italic">FL</tspan>=8 mm</text><path d="M650.2 1434.8H709.2" stroke="#0000ff" stroke-width="1.2"/><g fill="#0000ff"><path d="M670.5 1427.0L688.5 1427.0L679.5 1442.6Z"/></g><text x="715.5" y="1443.8"><tspan font-style="italic">FL</tspan>=12 mm</text><path d="M650.2 1467.5H709.2" stroke="#ff00ff" stroke-width="1.2"/><g fill="#ff00ff"><path d="M679.5 1458.2L688.8 1467.5L679.5 1476.8L670.2 1467.5Z"/></g><text x="715.5" y="1476.5"><tspan font-style="italic">FL</tspan>=16 mm</text></g>
<text x="466.9" y="1587.3" font-family="Liberation Serif, serif" font-size="52"><tspan font-style="italic">ε</tspan><tspan font-size="35" dy="16.5">a</tspan><tspan dy="-16.5"> (%)</tspan></text>
<text transform="translate(37.7 1201.9) rotate(-90)" text-anchor="middle" font-family="Liberation Serif, serif" font-size="52.5"><tspan font-style="italic">q</tspan> (kPa)</text>
<text x="492.8" y="1684.5" font-family="Noto Sans CJK SC, sans-serif" font-weight="350" font-size="61">c)</text>
<clipPath id="clipd"><rect x="1173.1" y="899.9" width="808.8" height="600.5"/></clipPath>
<g clip-path="url(#clipd)">
<path d="M1173.1 1500.4L1174.8 1480.5L1176.4 1472.3L1178.1 1466.0L1179.8 1460.7L1181.4 1456.0L1183.1 1451.8L1184.8 1447.9L1186.5 1444.2L1188.1 1440.8L1189.8 1437.6L1191.5 1434.6L1193.1 1431.6L1194.8 1428.8L1194.8 1428.8L1197.5 1424.4L1200.2 1420.2L1202.9 1416.0L1205.7 1412.1L1208.4 1408.4L1211.1 1404.8L1213.8 1401.4L1216.5 1398.3L1219.2 1395.4L1221.9 1392.6L1224.6 1389.9L1227.4 1387.4L1230.1 1385.0L1232.8 1382.7L1235.5 1380.5L1238.2 1378.4L1240.9 1376.4L1243.6 1374.4L1246.4 1372.6L1249.1 1370.8L1251.8 1369.1L1254.5 1367.5L1257.2 1365.8L1259.9 1364.2L1262.6 1362.6L1265.3 1361.0L1268.1 1359.5L1270.8 1358.0L1273.5 1356.5L1276.2 1355.1L1278.9 1353.7L1281.6 1352.4L1284.3 1351.2L1287.1 1350.0L1289.8 1348.9L1292.5 1347.8L1295.2 1346.7L1297.9 1345.7L1300.6 1344.6L1303.3 1343.5L1306.0 1342.5L1308.8 1341.4L1311.5 1340.3L1314.2 1339.2L1316.9 1338.1L1319.6 1337.1L1322.3 1336.1L1325.0 1335.1L1327.7 1334.2L1330.5 1333.4L1333.2 1332.5L1335.9 1331.7L1338.6 1330.9L1341.3 1330.1L1344.0 1329.4L1346.7 1328.7L1349.5 1328.0L1352.2 1327.3L1354.9 1326.7L1357.6 1326.0L1360.3 1325.4L1363.0 1324.8L1365.7 1324.2L1368.4 1323.6L1371.2 1323.0L1373.9 1322.4L1376.6 1321.7L1379.3 1321.1L1382.0 1320.5L1384.7 1319.9L1387.4 1319.3L1390.1 1318.8L1392.9 1318.3L1395.6 1317.8L1398.3 1317.3L1401.0 1316.9L1403.7 1316.4L1406.4 1316.0L1409.1 1315.6L1411.9 1315.2L1414.6 1314.8L1417.3 1314.5L1420.0 1314.1L1422.7 1313.8L1425.4 1313.5L1428.1 1313.2L1430.8 1312.9L1433.6 1312.6L1436.3 1312.3L1439.0 1311.9L1441.7 1311.6L1444.4 1311.3L1447.1 1311.0L1449.8 1310.7L1452.6 1310.4L1455.3 1310.2L1458.0 1309.9L1460.7 1309.6L1463.4 1309.3L1466.1 1309.0L1468.8 1308.7L1471.5 1308.5L1474.3 1308.2L1477.0 1308.0L1479.7 1307.8L1482.4 1307.6L1485.1 1307.4L1487.8 1307.3L1490.5 1307.1L1493.2 1306.9L1496.0 1306.7L1498.7 1306.6L1501.4 1306.4L1504.1 1306.2L1506.8 1305.9L1509.5 1305.7L1512.2 1305.5L1515.0 1305.3L1517.7 1305.1L1520.4 1304.9L1523.1 1304.7L1525.8 1304.5L1528.5 1304.3L1531.2 1304.1L1533.9 1303.9L1536.7 1303.8L1539.4 1303.6L1542.1 1303.4L1544.8 1303.3L1547.5 1303.1L1550.2 1303.0L1552.9 1302.8L1555.6 1302.7L1558.4 1302.6L1561.1 1302.5L1563.8 1302.5L1566.5 1302.5L1569.2 1302.6L1571.9 1302.6L1574.6 1302.7L1577.4 1302.8L1580.1 1302.9L1582.8 1302.9L1585.5 1303.0L1588.2 1302.9L1590.9 1302.8L1593.6 1302.6L1596.3 1302.4L1599.1 1302.1L1601.8 1301.9L1604.5 1301.8L1607.2 1301.8L1609.9 1301.8L1612.6 1301.9L1615.3 1302.0L1618.1 1302.1L1620.8 1302.2L1623.5 1302.4L1626.2 1302.4L1628.9 1302.5L1631.6 1302.4L1634.3 1302.4L1637.0 1302.2L1639.8 1302.1L1642.5 1302.0L1645.2 1301.9L1647.9 1301.8L1650.6 1301.8L1653.3 1301.8L1656.0 1301.8L1658.7 1301.9L1661.5 1302.0L1664.2 1302.1L1666.9 1302.2L1669.6 1302.2L1672.3 1302.2L1675.0 1302.2L1677.7 1302.2L1680.5 1302.2L1683.2 1302.1L1685.9 1302.1L1688.6 1302.0L1691.3 1302.0L1694.0 1302.0L1696.7 1302.1L1699.4 1302.3L1702.2 1302.5L1704.9 1302.8L1707.6 1303.1L1710.3 1303.4L1713.0 1303.6L1715.7 1303.7L1718.4 1303.7L1721.2 1303.7L1723.9 1303.7L1726.6 1303.7L1729.3 1303.7L1732.0 1303.7L1734.7 1303.7L1737.4 1303.7L1740.1 1303.7L1742.9 1303.8L1745.6 1304.0L1748.3 1304.3L1751.0 1304.5L1753.7 1304.7L1756.4 1304.9L1759.1 1305.1L1761.8 1305.3L1764.6 1305.4L1767.3 1305.6L1770.0 1305.7L1772.7 1305.8L1775.4 1305.9L1778.1 1306.0L1780.8 1306.1L1783.6 1306.1L1786.3 1306.1L1789.0 1306.2L1791.7 1306.2L1794.4 1306.2L1797.1 1306.2L1799.8 1306.3L1802.5 1306.3L1805.3 1306.4L1808.0 1306.6L1810.7 1306.8L1813.4 1307.1L1816.1 1307.4L1818.8 1307.7L1821.5 1308.1L1824.2 1308.5" fill="none" stroke="#000000" stroke-width="1.1"/>
<g fill="#000000"><rect x="1188.3" y="1422.3" width="13.0" height="13.0"/><rect x="1210.0" y="1391.8" width="13.0" height="13.0"/><rect x="1231.7" y="1371.9" width="13.0" height="13.0"/><rect x="1253.4" y="1357.7" width="13.0" height="13.0"/><rect x="1275.1" y="1345.9" width="13.0" height="13.0"/><rect x="1296.8" y="1337.0" width="13.0" height="13.0"/><rect x="1318.5" y="1328.6" width="13.0" height="13.0"/><rect x="1340.2" y="1322.2" width="13.0" height="13.0"/><rect x="1361.9" y="1317.1" width="13.0" height="13.0"/><rect x="1383.6" y="1312.3" width="13.0" height="13.0"/><rect x="1405.4" y="1308.7" width="13.0" height="13.0"/><rect x="1427.1" y="1306.1" width="13.0" height="13.0"/><rect x="1448.8" y="1303.7" width="13.0" height="13.0"/><rect x="1470.5" y="1301.5" width="13.0" height="13.0"/><rect x="1492.2" y="1300.1" width="13.0" height="13.0"/><rect x="1513.9" y="1298.4" width="13.0" height="13.0"/><rect x="1535.6" y="1296.9" width="13.0" height="13.0"/><rect x="1557.3" y="1296.0" width="13.0" height="13.0"/><rect x="1579.0" y="1296.5" width="13.0" height="13.0"/><rect x="1600.7" y="1295.3" width="13.0" height="13.0"/><rect x="1622.4" y="1296.0" width="13.0" height="13.0"/><rect x="1644.1" y="1295.3" width="13.0" height="13.0"/><rect x="1665.8" y="1295.7" width="13.0" height="13.0"/><rect x="1687.5" y="1295.5" width="13.0" height="13.0"/><rect x="1709.2" y="1297.2" width="13.0" height="13.0"/><rect x="1730.9" y="1297.2" width="13.0" height="13.0"/><rect x="1752.6" y="1298.6" width="13.0" height="13.0"/><rect x="1774.3" y="1299.6" width="13.0" height="13.0"/><rect x="1796.0" y="1299.8" width="13.0" height="13.0"/><rect x="1817.7" y="1302.0" width="13.0" height="13.0"/></g>
<path d="M1173.1 1500.4L1174.5 1499.1L1175.8 1497.5L1177.2 1495.5L1178.5 1493.2L1179.9 1490.6L1181.2 1487.8L1182.6 1484.8L1183.9 1481.7L1185.3 1478.0L1186.7 1473.6L1188.0 1468.6L1189.4 1463.3L1190.7 1457.8L1192.1 1452.3L1193.4 1447.0L1194.8 1442.3L1196.1 1437.9L1197.5 1433.6L1198.9 1429.4L1200.2 1425.4L1201.6 1421.4L1202.9 1417.4L1204.3 1413.4L1205.6 1409.4L1207.0 1405.3L1208.3 1401.2L1209.7 1397.1L1211.1 1393.1L1212.4 1389.1L1213.8 1385.2L1215.1 1381.3L1216.5 1377.7L1217.8 1374.1L1219.2 1370.6L1220.6 1367.1L1221.9 1363.8L1223.3 1360.5L1224.6 1357.2L1226.0 1354.1L1227.3 1351.0L1228.7 1348.0L1230.0 1345.0L1231.4 1342.0L1232.8 1339.1L1234.1 1336.3L1235.5 1333.6L1236.8 1331.0L1238.2 1328.4L1239.5 1326.0L1240.9 1323.6L1242.2 1321.3L1243.6 1319.1L1245.0 1316.9L1246.3 1314.8L1247.7 1312.7L1249.0 1310.6L1250.4 1308.6L1251.7 1306.6L1253.1 1304.6L1254.4 1302.7L1255.8 1300.8L1257.2 1298.9L1258.5 1297.2L1259.9 1295.5L1261.2 1293.9L1262.6 1292.4L1263.9 1290.9L1265.3 1289.5L1266.6 1288.1L1268.0 1286.7L1269.4 1285.3L1270.7 1284.0L1272.1 1282.6L1273.4 1281.3L1274.8 1280.0L1276.1 1278.7L1277.5 1277.4L1278.8 1276.2L1280.2 1275.0L1281.6 1273.9L1282.9 1272.8L1284.3 1271.8L1285.6 1270.9L1287.0 1269.9L1288.3 1269.0L1289.7 1268.1L1291.1 1267.2L1292.4 1266.2L1293.8 1265.2L1295.1 1264.2L1296.5 1263.3L1297.8 1262.3L1299.2 1261.3L1300.5 1260.3L1301.9 1259.4L1303.3 1258.5L1304.6 1257.7L1306.0 1256.9L1307.3 1256.1L1308.7 1255.3L1310.0 1254.6L1311.4 1253.8L1312.7 1253.0L1314.1 1252.3L1315.5 1251.5L1316.8 1250.7L1318.2 1249.9L1319.5 1249.1L1320.9 1248.3L1322.2 1247.5L1323.6 1246.7L1324.9 1246.0L1326.3 1245.3L1327.7 1244.7L1329.0 1244.1L1330.4 1243.5L1331.7 1242.8L1333.1 1242.2L1334.4 1241.6L1335.8 1241.0L1337.1 1240.3L1338.5 1239.6L1339.9 1238.9L1341.2 1238.2L1342.6 1237.5L1343.9 1236.9L1345.3 1236.3L1346.6 1235.7L1348.0 1235.2L1349.3 1234.7L1350.7 1234.3L1352.1 1233.8L1353.4 1233.4L1354.8 1233.0L1356.1 1232.5L1357.5 1232.1L1358.8 1231.6L1360.2 1231.2L1361.6 1230.7L1362.9 1230.2L1364.3 1229.7L1365.6 1229.2L1367.0 1228.7L1368.3 1228.3L1369.7 1227.8L1371.0 1227.3L1372.4 1226.7L1373.8 1226.2L1375.1 1225.7L1376.5 1225.2L1377.8 1224.8L1379.2 1224.4L1380.5 1224.1L1381.9 1223.7L1383.2 1223.4L1384.6 1223.2L1386.0 1222.9L1387.3 1222.6L1388.7 1222.3L1390.0 1222.0L1391.4 1221.7L1392.7 1221.4L1394.1 1221.0L1395.4 1220.7L1396.8 1220.4L1398.2 1220.0L1399.5 1219.7L1400.9 1219.4L1402.2 1219.0L1403.6 1218.7L1404.9 1218.4L1406.3 1218.0L1407.6 1217.7L1409.0 1217.4L1410.4 1217.0L1411.7 1216.7L1413.1 1216.4L1414.4 1216.1L1415.8 1215.8L1417.1 1215.5L1418.5 1215.2L1419.8 1214.9L1421.2 1214.6L1422.6 1214.3L1423.9 1214.0L1425.3 1213.8L1426.6 1213.5L1428.0 1213.2L1429.3 1212.9L1430.7 1212.7L1432.1 1212.4L1433.4 1212.2L1434.8 1211.9L1436.1 1211.7L1437.5 1211.5L1438.8 1211.3L1440.2 1211.1L1441.5 1210.9L1442.9 1210.7L1444.3 1210.5L1445.6 1210.3L1447.0 1210.1L1448.3 1210.0L1449.7 1209.8L1451.0 1209.6L1452.4 1209.5L1453.7 1209.3L1455.1 1209.2L1456.5 1209.0L1457.8 1208.9L1459.2 1208.7L1460.5 1208.6L1461.9 1208.4L1463.2 1208.3L1464.6 1208.1L1465.9 1208.0L1467.3 1207.9L1468.7 1207.7L1470.0 1207.6L1471.4 1207.4L1472.7 1207.3L1474.1 1207.2L1475.4 1207.1L1476.8 1206.9L1478.1 1206.8L1479.5 1206.7L1480.9 1206.5L1482.2 1206.4L1483.6 1206.3L1484.9 1206.2L1486.3 1206.0L1487.6 1205.9L1489.0 1205.8L1490.3 1205.7L1491.7 1205.6L1493.1 1205.4L1494.4 1205.3L1495.8 1205.2L1497.1 1205.1L1498.5 1205.0L1499.8 1204.8L1501.2 1204.7L1502.6 1204.6L1503.9 1204.5L1505.3 1204.4L1506.6 1204.2L1508.0 1204.1L1509.3 1204.0L1510.7 1203.9L1512.0 1203.8L1513.4 1203.6L1514.8 1203.5L1516.1 1203.4L1517.5 1203.3L1518.8 1203.2L1520.2 1203.0L1521.5 1202.9L1522.9 1202.8L1524.2 1202.7L1525.6 1202.5L1527.0 1202.4L1528.3 1202.3L1529.7 1202.1L1531.0 1202.0L1532.4 1201.9L1533.7 1201.7L1535.1 1201.6L1536.4 1201.5L1537.8 1201.3L1539.2 1201.2L1540.5 1201.1L1541.9 1200.9L1543.2 1200.8L1544.6 1200.6L1545.9 1200.5L1547.3 1200.3L1548.6 1200.2L1550.0 1200.0L1551.4 1199.9L1552.7 1199.7L1554.1 1199.5L1555.4 1199.4L1556.8 1199.2L1558.1 1199.1L1559.5 1198.9L1560.8 1198.7L1562.2 1198.6L1563.6 1198.4L1564.9 1198.3L1566.3 1198.1L1567.6 1197.9L1569.0 1197.8L1570.3 1197.6L1571.7 1197.4L1573.1 1197.3L1574.4 1197.1L1575.8 1196.9L1577.1 1196.8L1578.5 1196.6L1579.8 1196.4L1581.2 1196.2L1582.5 1196.1L1583.9 1195.9L1585.3 1195.7L1586.6 1195.6L1588.0 1195.4L1589.3 1195.2L1590.7 1195.1L1592.0 1194.9L1593.4 1194.7L1594.7 1194.6L1596.1 1194.4L1597.5 1194.2L1598.8 1194.1L1600.2 1193.9L1601.5 1193.8L1602.9 1193.6L1604.2 1193.4L1605.6 1193.3L1606.9 1193.1L1608.3 1193.0L1609.7 1192.8L1611.0 1192.7L1612.4 1192.5L1613.7 1192.4L1615.1 1192.2L1616.4 1192.1L1617.8 1191.9L1619.1 1191.8L1620.5 1191.6L1621.9 1191.5L1623.2 1191.4L1624.6 1191.2L1625.9 1191.1L1627.3 1190.9L1628.6 1190.8L1630.0 1190.7L1631.3 1190.6L1632.7 1190.4L1634.1 1190.3L1635.4 1190.2L1636.8 1190.1L1638.1 1190.0L1639.5 1189.9L1640.8 1189.7L1642.2 1189.6L1643.6 1189.5L1644.9 1189.4L1646.3 1189.3L1647.6 1189.2L1649.0 1189.1L1650.3 1189.0L1651.7 1188.9L1653.0 1188.8L1654.4 1188.7L1655.8 1188.6L1657.1 1188.5L1658.5 1188.4L1659.8 1188.3L1661.2 1188.2L1662.5 1188.1L1663.9 1188.0L1665.2 1187.9L1666.6 1187.8L1668.0 1187.7L1669.3 1187.6L1670.7 1187.5L1672.0 1187.4L1673.4 1187.3L1674.7 1187.2L1676.1 1187.2L1677.4 1187.1L1678.8 1187.0L1680.2 1186.9L1681.5 1186.8L1682.9 1186.7L1684.2 1186.6L1685.6 1186.5L1686.9 1186.4L1688.3 1186.4L1689.6 1186.3L1691.0 1186.2L1692.4 1186.1L1693.7 1186.0L1695.1 1185.9L1696.4 1185.9L1697.8 1185.8L1699.1 1185.7L1700.5 1185.6L1701.8 1185.5L1703.2 1185.5L1704.6 1185.4L1705.9 1185.3L1707.3 1185.2L1708.6 1185.2L1710.0 1185.1L1711.3 1185.0L1712.7 1184.9L1714.1 1184.9L1715.4 1184.8L1716.8 1184.7L1718.1 1184.6L1719.5 1184.6L1720.8 1184.5L1722.2 1184.4L1723.5 1184.4L1724.9 1184.3L1726.3 1184.2L1727.6 1184.2L1729.0 1184.1L1730.3 1184.0L1731.7 1184.0L1733.0 1183.9L1734.4 1183.8L1735.7 1183.8L1737.1 1183.7L1738.5 1183.6L1739.8 1183.6L1741.2 1183.5L1742.5 1183.5L1743.9 1183.4L1745.2 1183.3L1746.6 1183.3L1747.9 1183.2L1749.3 1183.2L1750.7 1183.1L1752.0 1183.0L1753.4 1183.0L1754.7 1182.9L1756.1 1182.9L1757.4 1182.8L1758.8 1182.8L1760.1 1182.7L1761.5 1182.6L1762.9 1182.6L1764.2 1182.5L1765.6 1182.5L1766.9 1182.4L1768.3 1182.4L1769.6 1182.3L1771.0 1182.3L1772.3 1182.2L1773.7 1182.2L1775.1 1182.1L1776.4 1182.1L1777.8 1182.0L1779.1 1182.0L1780.5 1181.9L1781.8 1181.9L1783.2 1181.8L1784.6 1181.8L1785.9 1181.7L1787.3 1181.7L1788.6 1181.6L1790.0 1181.6L1791.3 1181.6L1792.7 1181.5L1794.0 1181.5L1795.4 1181.4L1796.8 1181.4L1798.1 1181.3L1799.5 1181.3L1800.8 1181.3L1802.2 1181.2L1803.5 1181.2L1804.9 1181.1L1806.2 1181.1L1807.6 1181.1L1809.0 1181.0L1810.3 1181.0L1811.7 1181.0L1813.0 1180.9" fill="none" stroke="#ff0000" stroke-width="1.1"/>
<g fill="#ff0000"><circle cx="1173.1" cy="1500.4" r="7.3"/><circle cx="1183.9" cy="1481.7" r="7.3"/><circle cx="1194.8" cy="1442.3" r="7.3"/><circle cx="1205.6" cy="1409.4" r="7.3"/><circle cx="1216.5" cy="1377.7" r="7.3"/><circle cx="1227.3" cy="1351.0" r="7.3"/><circle cx="1238.2" cy="1328.4" r="7.3"/><circle cx="1249.0" cy="1310.6" r="7.3"/><circle cx="1259.9" cy="1295.5" r="7.3"/><circle cx="1270.7" cy="1284.0" r="7.3"/><circle cx="1281.6" cy="1273.9" r="7.3"/><circle cx="1292.4" cy="1266.2" r="7.3"/><circle cx="1303.3" cy="1258.5" r="7.3"/><circle cx="1314.1" cy="1252.3" r="7.3"/><circle cx="1324.9" cy="1246.0" r="7.3"/><circle cx="1335.8" cy="1241.0" r="7.3"/><circle cx="1346.6" cy="1235.7" r="7.3"/><circle cx="1357.5" cy="1232.1" r="7.3"/><circle cx="1368.3" cy="1228.3" r="7.3"/><circle cx="1379.2" cy="1224.4" r="7.3"/><circle cx="1390.0" cy="1222.0" r="7.3"/><circle cx="1400.9" cy="1219.4" r="7.3"/><circle cx="1411.7" cy="1216.7" r="7.3"/><circle cx="1422.6" cy="1214.3" r="7.3"/><circle cx="1433.4" cy="1212.2" r="7.3"/><circle cx="1444.3" cy="1210.5" r="7.3"/><circle cx="1455.1" cy="1209.2" r="7.3"/><circle cx="1465.9" cy="1208.0" r="7.3"/><circle cx="1476.8" cy="1206.9" r="7.3"/><circle cx="1487.6" cy="1205.9" r="7.3"/><circle cx="1498.5" cy="1205.0" r="7.3"/><circle cx="1509.3" cy="1204.0" r="7.3"/><circle cx="1520.2" cy="1203.0" r="7.3"/><circle cx="1531.0" cy="1202.0" r="7.3"/><circle cx="1541.9" cy="1200.9" r="7.3"/><circle cx="1552.7" cy="1199.7" r="7.3"/><circle cx="1563.6" cy="1198.4" r="7.3"/><circle cx="1574.4" cy="1197.1" r="7.3"/><circle cx="1585.3" cy="1195.7" r="7.3"/><circle cx="1596.1" cy="1194.4" r="7.3"/><circle cx="1606.9" cy="1193.1" r="7.3"/><circle cx="1617.8" cy="1191.9" r="7.3"/><circle cx="1628.6" cy="1190.8" r="7.3"/><circle cx="1639.5" cy="1189.9" r="7.3"/><circle cx="1650.3" cy="1189.0" r="7.3"/><circle cx="1661.2" cy="1188.2" r="7.3"/><circle cx="1672.0" cy="1187.4" r="7.3"/><circle cx="1682.9" cy="1186.7" r="7.3"/><circle cx="1693.7" cy="1186.0" r="7.3"/><circle cx="1704.6" cy="1185.4" r="7.3"/><circle cx="1715.4" cy="1184.8" r="7.3"/><circle cx="1726.3" cy="1184.2" r="7.3"/><circle cx="1737.1" cy="1183.7" r="7.3"/><circle cx="1747.9" cy="1183.2" r="7.3"/><circle cx="1758.8" cy="1182.8" r="7.3"/><circle cx="1769.6" cy="1182.3" r="7.3"/><circle cx="1780.5" cy="1181.9" r="7.3"/><circle cx="1791.3" cy="1181.6" r="7.3"/><circle cx="1802.2" cy="1181.2" r="7.3"/><circle cx="1813.0" cy="1180.9" r="7.3"/></g>
<path d="M1173.1 1500.4L1174.5 1490.8L1175.8 1481.5L1177.2 1472.6L1178.5 1464.1L1179.9 1456.0L1181.2 1448.4L1182.6 1441.2L1183.9 1434.6L1185.3 1428.4L1186.6 1422.6L1188.0 1417.2L1189.3 1412.0L1190.7 1407.1L1192.1 1402.3L1193.4 1397.6L1194.8 1393.0L1196.1 1388.5L1197.5 1384.0L1198.8 1379.6L1200.2 1375.4L1201.5 1371.3L1202.9 1367.3L1204.2 1363.6L1205.6 1360.1L1207.0 1356.8L1208.3 1353.7L1209.7 1350.7L1211.0 1347.8L1212.4 1345.1L1213.7 1342.4L1215.1 1339.8L1216.4 1337.3L1217.8 1334.9L1219.1 1332.5L1220.5 1330.2L1221.8 1328.0L1223.2 1325.8L1224.6 1323.7L1225.9 1321.6L1227.3 1319.5L1228.6 1317.5L1230.0 1315.4L1231.3 1313.4L1232.7 1311.4L1234.0 1309.4L1235.4 1307.5L1236.7 1305.6L1238.1 1303.7L1239.4 1301.9L1240.8 1300.1L1242.2 1298.3L1243.5 1296.6L1244.9 1294.9L1246.2 1293.3L1247.6 1291.7L1248.9 1290.2L1250.3 1288.8L1251.6 1287.5L1253.0 1286.2L1254.3 1285.0L1255.7 1283.8L1257.1 1282.6L1258.4 1281.4L1259.8 1280.1L1261.1 1278.9L1262.5 1277.6L1263.8 1276.2L1265.2 1274.9L1266.5 1273.6L1267.9 1272.4L1269.2 1271.2L1270.6 1270.0L1271.9 1269.0L1273.3 1268.0L1274.7 1267.0L1276.0 1266.1L1277.4 1265.1L1278.7 1264.2L1280.1 1263.3L1281.4 1262.4L1282.8 1261.4L1284.1 1260.5L1285.5 1259.6L1286.8 1258.6L1288.2 1257.7L1289.5 1256.8L1290.9 1255.9L1292.3 1254.9L1293.6 1254.0L1295.0 1253.0L1296.3 1252.0L1297.7 1251.0L1299.0 1250.0L1300.4 1249.0L1301.7 1248.1L1303.1 1247.2L1304.4 1246.4L1305.8 1245.6L1307.2 1244.8L1308.5 1244.0L1309.9 1243.2L1311.2 1242.5L1312.6 1241.7L1313.9 1241.0L1315.3 1240.2L1316.6 1239.5L1318.0 1238.8L1319.3 1238.1L1320.7 1237.4L1322.0 1236.6L1323.4 1235.9L1324.8 1235.2L1326.1 1234.5L1327.5 1233.8L1328.8 1233.0L1330.2 1232.3L1331.5 1231.6L1332.9 1230.8L1334.2 1230.1L1335.6 1229.5L1336.9 1228.8L1338.3 1228.1L1339.7 1227.5L1341.0 1226.8L1342.4 1226.2L1343.7 1225.6L1345.1 1225.0L1346.4 1224.4L1347.8 1223.8L1349.1 1223.3L1350.5 1222.7L1351.8 1222.2L1353.2 1221.7L1354.5 1221.1L1355.9 1220.6L1357.3 1220.1L1358.6 1219.6L1360.0 1219.0L1361.3 1218.5L1362.7 1218.0L1364.0 1217.5L1365.4 1217.0L1366.7 1216.5L1368.1 1216.0L1369.4 1215.5L1370.8 1215.1L1372.1 1214.6L1373.5 1214.2L1374.9 1213.7L1376.2 1213.3L1377.6 1212.8L1378.9 1212.4L1380.3 1211.9L1381.6 1211.5L1383.0 1211.0L1384.3 1210.6L1385.7 1210.1L1387.0 1209.7L1388.4 1209.2L1389.8 1208.8L1391.1 1208.4L1392.5 1207.9L1393.8 1207.5L1395.2 1207.1L1396.5 1206.6L1397.9 1206.2L1399.2 1205.8L1400.6 1205.4L1401.9 1205.1L1403.3 1204.7L1404.6 1204.4L1406.0 1204.1L1407.4 1203.7L1408.7 1203.4L1410.1 1203.1L1411.4 1202.8L1412.8 1202.5L1414.1 1202.2L1415.5 1201.9L1416.8 1201.6L1418.2 1201.3L1419.5 1201.0L1420.9 1200.7L1422.2 1200.4L1423.6 1200.1L1425.0 1199.7L1426.3 1199.4L1427.7 1199.1L1429.0 1198.7L1430.4 1198.4L1431.7 1198.1L1433.1 1197.7L1434.4 1197.4L1435.8 1197.2L1437.1 1196.9L1438.5 1196.6L1439.9 1196.3L1441.2 1196.0L1442.6 1195.7L1443.9 1195.3L1445.3 1194.9L1446.6 1194.5L1448.0 1194.0L1449.3 1193.4L1450.7 1192.9L1452.0 1192.4L1453.4 1191.9L1454.7 1191.5L1456.1 1191.1L1457.5 1190.8L1458.8 1190.4L1460.2 1190.1L1461.5 1189.8L1462.9 1189.5L1464.2 1189.2L1465.6 1188.9L1466.9 1188.5L1468.3 1188.2L1469.6 1187.9L1471.0 1187.6L1472.3 1187.4L1473.7 1187.1L1475.1 1186.8L1476.4 1186.5L1477.8 1186.2L1479.1 1186.0L1480.5 1185.7L1481.8 1185.5L1483.2 1185.2L1484.5 1184.9L1485.9 1184.7L1487.2 1184.4L1488.6 1184.2L1490.0 1184.0L1491.3 1183.7L1492.7 1183.5L1494.0 1183.2L1495.4 1183.0L1496.7 1182.8L1498.1 1182.6L1499.4 1182.3L1500.8 1182.1L1502.1 1181.9L1503.5 1181.7L1504.8 1181.5L1506.2 1181.3L1507.6 1181.0L1508.9 1180.8L1510.3 1180.6L1511.6 1180.4L1513.0 1180.2L1514.3 1180.0L1515.7 1179.8L1517.0 1179.6L1518.4 1179.4L1519.7 1179.2L1521.1 1179.0L1522.4 1178.8L1523.8 1178.6L1525.2 1178.4L1526.5 1178.2L1527.9 1178.0L1529.2 1177.8L1530.6 1177.6L1531.9 1177.4L1533.3 1177.1L1534.6 1176.9L1536.0 1176.7L1537.3 1176.5L1538.7 1176.3L1540.1 1176.1L1541.4 1175.9L1542.8 1175.7L1544.1 1175.5L1545.5 1175.3L1546.8 1175.1L1548.2 1174.9L1549.5 1174.7L1550.9 1174.5L1552.2 1174.3L1553.6 1174.1L1554.9 1173.9L1556.3 1173.6L1557.7 1173.4L1559.0 1173.2L1560.4 1173.0L1561.7 1172.8L1563.1 1172.6L1564.4 1172.4L1565.8 1172.3L1567.1 1172.1L1568.5 1171.9L1569.8 1171.7L1571.2 1171.5L1572.5 1171.3L1573.9 1171.1L1575.3 1170.9L1576.6 1170.7L1578.0 1170.5L1579.3 1170.3L1580.7 1170.1L1582.0 1169.9L1583.4 1169.8L1584.7 1169.6L1586.1 1169.4L1587.4 1169.2L1588.8 1169.0L1590.2 1168.8L1591.5 1168.6L1592.9 1168.5L1594.2 1168.3L1595.6 1168.1L1596.9 1167.9L1598.3 1167.7L1599.6 1167.6L1601.0 1167.4L1602.3 1167.2L1603.7 1167.0L1605.0 1166.9L1606.4 1166.7L1607.8 1166.5L1609.1 1166.3L1610.5 1166.2L1611.8 1166.0L1613.2 1165.8L1614.5 1165.7L1615.9 1165.5L1617.2 1165.3L1618.6 1165.2L1619.9 1165.0L1621.3 1164.8L1622.6 1164.7L1624.0 1164.5L1625.4 1164.3L1626.7 1164.2L1628.1 1164.0L1629.4 1163.9L1630.8 1163.7L1632.1 1163.6L1633.5 1163.4L1634.8 1163.3L1636.2 1163.1L1637.5 1162.9L1638.9 1162.8L1640.3 1162.6L1641.6 1162.5L1643.0 1162.3L1644.3 1162.2L1645.7 1162.0L1647.0 1161.9L1648.4 1161.8L1649.7 1161.6L1651.1 1161.5L1652.4 1161.3L1653.8 1161.2L1655.1 1161.0L1656.5 1160.9L1657.9 1160.7L1659.2 1160.6L1660.6 1160.4L1661.9 1160.3L1663.3 1160.2L1664.6 1160.0L1666.0 1159.9L1667.3 1159.7L1668.7 1159.6L1670.0 1159.5L1671.4 1159.3L1672.8 1159.2L1674.1 1159.0L1675.5 1158.9L1676.8 1158.8L1678.2 1158.6L1679.5 1158.5L1680.9 1158.4L1682.2 1158.2L1683.6 1158.1L1684.9 1158.0L1686.3 1157.8L1687.6 1157.7L1689.0 1157.6L1690.4 1157.4L1691.7 1157.3L1693.1 1157.2L1694.4 1157.0L1695.8 1156.9L1697.1 1156.8L1698.5 1156.7L1699.8 1156.5L1701.2 1156.4L1702.5 1156.3L1703.9 1156.2L1705.2 1156.1L1706.6 1155.9L1708.0 1155.8L1709.3 1155.7L1710.7 1155.6L1712.0 1155.5L1713.4 1155.4L1714.7 1155.2L1716.1 1155.1L1717.4 1155.0L1718.8 1154.9L1720.1 1154.8L1721.5 1154.7L1722.9 1154.6L1724.2 1154.5L1725.6 1154.4L1726.9 1154.3L1728.3 1154.2L1729.6 1154.1L1731.0 1154.0L1732.3 1153.9L1733.7 1153.8L1735.0 1153.7L1736.4 1153.6L1737.7 1153.5L1739.1 1153.4L1740.5 1153.3L1741.8 1153.2L1743.2 1153.1L1744.5 1153.0L1745.9 1152.9L1747.2 1152.8L1748.6 1152.7L1749.9 1152.6L1751.3 1152.5L1752.6 1152.5L1754.0 1152.4L1755.3 1152.3L1756.7 1152.2L1758.1 1152.1L1759.4 1152.0L1760.8 1151.9L1762.1 1151.9L1763.5 1151.8L1764.8 1151.7L1766.2 1151.6L1767.5 1151.5L1768.9 1151.4L1770.2 1151.4L1771.6 1151.3L1773.0 1151.2L1774.3 1151.1L1775.7 1151.0L1777.0 1151.0L1778.4 1150.9L1779.7 1150.8L1781.1 1150.7L1782.4 1150.6L1783.8 1150.6L1785.1 1150.5L1786.5 1150.4L1787.8 1150.4L1789.2 1150.3L1790.6 1150.2L1791.9 1150.1L1793.3 1150.1L1794.6 1150.0L1796.0 1149.9L1797.3 1149.9L1798.7 1149.8L1800.0 1149.7L1801.4 1149.7L1802.7 1149.6L1804.1 1149.5L1805.4 1149.5L1806.8 1149.4L1808.2 1149.4L1809.5 1149.3L1810.9 1149.2L1812.2 1149.2L1813.6 1149.1L1814.9 1149.1L1816.3 1149.0L1817.6 1149.0L1819.0 1148.9L1820.3 1148.9L1821.7 1148.8L1823.1 1148.7" fill="none" stroke="#00ff00" stroke-width="1.1"/>
<g fill="#00ff00"><path d="M1173.1 1492.6L1182.1 1508.2L1164.1 1508.2Z"/><path d="M1183.9 1426.8L1192.9 1442.4L1174.9 1442.4Z"/><path d="M1194.8 1385.2L1203.8 1400.8L1185.8 1400.8Z"/><path d="M1205.6 1352.3L1214.6 1367.9L1196.6 1367.9Z"/><path d="M1216.4 1329.5L1225.4 1345.1L1207.4 1345.1Z"/><path d="M1227.3 1311.7L1236.3 1327.3L1218.3 1327.3Z"/><path d="M1238.1 1295.9L1247.1 1311.5L1229.1 1311.5Z"/><path d="M1248.9 1282.4L1257.9 1298.0L1239.9 1298.0Z"/><path d="M1259.8 1272.3L1268.8 1287.9L1250.8 1287.9Z"/><path d="M1270.6 1262.2L1279.6 1277.8L1261.6 1277.8Z"/><path d="M1281.4 1254.6L1290.4 1270.2L1272.4 1270.2Z"/><path d="M1292.3 1247.1L1301.3 1262.7L1283.3 1262.7Z"/><path d="M1303.1 1239.4L1312.1 1255.0L1294.1 1255.0Z"/><path d="M1313.9 1233.2L1322.9 1248.8L1304.9 1248.8Z"/><path d="M1324.8 1227.4L1333.8 1243.0L1315.8 1243.0Z"/><path d="M1335.6 1221.7L1344.6 1237.3L1326.6 1237.3Z"/><path d="M1346.4 1216.6L1355.4 1232.2L1337.4 1232.2Z"/><path d="M1357.3 1212.3L1366.3 1227.9L1348.3 1227.9Z"/><path d="M1368.1 1208.2L1377.1 1223.8L1359.1 1223.8Z"/><path d="M1378.9 1204.6L1387.9 1220.2L1369.9 1220.2Z"/><path d="M1389.8 1201.0L1398.8 1216.6L1380.8 1216.6Z"/><path d="M1400.6 1197.6L1409.6 1213.2L1391.6 1213.2Z"/><path d="M1411.4 1195.0L1420.4 1210.6L1402.4 1210.6Z"/><path d="M1422.2 1192.6L1431.2 1208.2L1413.2 1208.2Z"/><path d="M1433.1 1189.9L1442.1 1205.5L1424.1 1205.5Z"/><path d="M1443.9 1187.5L1452.9 1203.1L1434.9 1203.1Z"/><path d="M1454.7 1183.7L1463.7 1199.3L1445.7 1199.3Z"/><path d="M1465.6 1181.1L1474.6 1196.7L1456.6 1196.7Z"/><path d="M1476.4 1178.7L1485.4 1194.3L1467.4 1194.3Z"/><path d="M1487.2 1176.6L1496.2 1192.2L1478.2 1192.2Z"/><path d="M1498.1 1174.8L1507.1 1190.4L1489.1 1190.4Z"/><path d="M1508.9 1173.0L1517.9 1188.6L1499.9 1188.6Z"/><path d="M1519.7 1171.4L1528.7 1187.0L1510.7 1187.0Z"/><path d="M1530.6 1169.8L1539.6 1185.4L1521.6 1185.4Z"/><path d="M1541.4 1168.1L1550.4 1183.7L1532.4 1183.7Z"/><path d="M1552.2 1166.5L1561.2 1182.1L1543.2 1182.1Z"/><path d="M1563.1 1164.8L1572.1 1180.4L1554.1 1180.4Z"/><path d="M1573.9 1163.3L1582.9 1178.9L1564.9 1178.9Z"/><path d="M1584.7 1161.8L1593.7 1177.4L1575.7 1177.4Z"/><path d="M1595.6 1160.3L1604.6 1175.9L1586.6 1175.9Z"/><path d="M1606.4 1158.9L1615.4 1174.5L1597.4 1174.5Z"/><path d="M1617.2 1157.5L1626.2 1173.1L1608.2 1173.1Z"/><path d="M1628.1 1156.2L1637.1 1171.8L1619.1 1171.8Z"/><path d="M1638.9 1155.0L1647.9 1170.6L1629.9 1170.6Z"/><path d="M1649.7 1153.8L1658.7 1169.4L1640.7 1169.4Z"/><path d="M1660.6 1152.6L1669.6 1168.2L1651.6 1168.2Z"/><path d="M1671.4 1151.5L1680.4 1167.1L1662.4 1167.1Z"/><path d="M1682.2 1150.4L1691.2 1166.0L1673.2 1166.0Z"/><path d="M1693.1 1149.4L1702.1 1165.0L1684.1 1165.0Z"/><path d="M1703.9 1148.4L1712.9 1164.0L1694.9 1164.0Z"/><path d="M1714.7 1147.4L1723.7 1163.0L1705.7 1163.0Z"/><path d="M1725.6 1146.6L1734.6 1162.2L1716.6 1162.2Z"/><path d="M1736.4 1145.8L1745.4 1161.4L1727.4 1161.4Z"/><path d="M1747.2 1145.0L1756.2 1160.6L1738.2 1160.6Z"/><path d="M1758.1 1144.3L1767.1 1159.9L1749.1 1159.9Z"/><path d="M1768.9 1143.6L1777.9 1159.2L1759.9 1159.2Z"/><path d="M1779.7 1143.0L1788.7 1158.6L1770.7 1158.6Z"/><path d="M1790.6 1142.4L1799.6 1158.0L1781.6 1158.0Z"/><path d="M1801.4 1141.9L1810.4 1157.5L1792.4 1157.5Z"/><path d="M1812.2 1141.4L1821.2 1157.0L1803.2 1157.0Z"/><path d="M1823.1 1140.9L1832.1 1156.5L1814.1 1156.5Z"/></g>
<path d="M1173.1 1500.4L1174.5 1500.4L1175.8 1500.4L1177.2 1500.4L1178.5 1500.4L1179.9 1500.4L1181.2 1500.4L1182.6 1500.4L1183.9 1500.4L1185.3 1498.9L1186.6 1494.7L1188.0 1488.6L1189.3 1481.1L1190.7 1472.8L1192.1 1464.5L1193.4 1456.6L1194.8 1450.0L1196.1 1444.1L1197.5 1438.5L1198.8 1432.9L1200.2 1427.4L1201.5 1421.9L1202.9 1416.5L1204.2 1411.0L1205.6 1405.5L1206.9 1399.9L1208.3 1394.1L1209.7 1388.3L1211.0 1382.6L1212.4 1376.9L1213.7 1371.4L1215.1 1366.1L1216.4 1361.1L1217.8 1356.3L1219.1 1351.6L1220.5 1347.1L1221.8 1342.7L1223.2 1338.5L1224.5 1334.5L1225.9 1330.6L1227.2 1327.0L1228.6 1323.5L1230.0 1320.2L1231.3 1317.0L1232.7 1314.0L1234.0 1311.1L1235.4 1308.3L1236.7 1305.6L1238.1 1303.0L1239.4 1300.5L1240.8 1298.0L1242.1 1295.7L1243.5 1293.5L1244.8 1291.3L1246.2 1289.2L1247.6 1287.2L1248.9 1285.2L1250.3 1283.2L1251.6 1281.4L1253.0 1279.5L1254.3 1277.7L1255.7 1276.0L1257.0 1274.3L1258.4 1272.8L1259.7 1271.3L1261.1 1269.8L1262.4 1268.5L1263.8 1267.3L1265.2 1266.1L1266.5 1264.9L1267.9 1263.7L1269.2 1262.5L1270.6 1261.2L1271.9 1259.8L1273.3 1258.3L1274.6 1256.8L1276.0 1255.3L1277.3 1253.8L1278.7 1252.3L1280.0 1250.9L1281.4 1249.6L1282.8 1248.4L1284.1 1247.3L1285.5 1246.2L1286.8 1245.2L1288.2 1244.1L1289.5 1243.1L1290.9 1242.1L1292.2 1241.0L1293.6 1239.9L1294.9 1238.7L1296.3 1237.6L1297.6 1236.5L1299.0 1235.3L1300.3 1234.2L1301.7 1233.1L1303.1 1232.1L1304.4 1231.1L1305.8 1230.1L1307.1 1229.1L1308.5 1228.2L1309.8 1227.2L1311.2 1226.3L1312.5 1225.4L1313.9 1224.4L1315.2 1223.4L1316.6 1222.5L1317.9 1221.5L1319.3 1220.5L1320.7 1219.5L1322.0 1218.5L1323.4 1217.6L1324.7 1216.7L1326.1 1215.9L1327.4 1215.1L1328.8 1214.3L1330.1 1213.5L1331.5 1212.8L1332.8 1212.0L1334.2 1211.3L1335.5 1210.5L1336.9 1209.7L1338.3 1208.8L1339.6 1208.0L1341.0 1207.1L1342.3 1206.3L1343.7 1205.5L1345.0 1204.7L1346.4 1204.0L1347.7 1203.3L1349.1 1202.7L1350.4 1202.1L1351.8 1201.5L1353.1 1201.0L1354.5 1200.4L1355.9 1199.8L1357.2 1199.2L1358.6 1198.6L1359.9 1197.9L1361.3 1197.2L1362.6 1196.6L1364.0 1195.9L1365.3 1195.2L1366.7 1194.6L1368.0 1193.9L1369.4 1193.3L1370.7 1192.6L1372.1 1192.0L1373.4 1191.4L1374.8 1190.7L1376.2 1190.1L1377.5 1189.5L1378.9 1188.9L1380.2 1188.2L1381.6 1187.6L1382.9 1187.0L1384.3 1186.3L1385.6 1185.7L1387.0 1185.1L1388.3 1184.4L1389.7 1183.8L1391.0 1183.2L1392.4 1182.5L1393.8 1181.9L1395.1 1181.2L1396.5 1180.6L1397.8 1179.9L1399.2 1179.3L1400.5 1178.8L1401.9 1178.2L1403.2 1177.7L1404.6 1177.3L1405.9 1176.8L1407.3 1176.3L1408.6 1175.9L1410.0 1175.4L1411.4 1174.9L1412.7 1174.4L1414.1 1174.0L1415.4 1173.5L1416.8 1173.0L1418.1 1172.5L1419.5 1172.0L1420.8 1171.6L1422.2 1171.1L1423.5 1170.6L1424.9 1170.2L1426.2 1169.7L1427.6 1169.3L1429.0 1168.8L1430.3 1168.4L1431.7 1167.9L1433.0 1167.5L1434.4 1167.0L1435.7 1166.5L1437.1 1166.1L1438.4 1165.6L1439.8 1165.1L1441.1 1164.6L1442.5 1164.1L1443.8 1163.6L1445.2 1163.2L1446.5 1162.7L1447.9 1162.2L1449.3 1161.7L1450.6 1161.3L1452.0 1160.8L1453.3 1160.3L1454.7 1159.8L1456.0 1159.3L1457.4 1158.8L1458.7 1158.3L1460.1 1157.8L1461.4 1157.3L1462.8 1156.8L1464.1 1156.3L1465.5 1155.8L1466.9 1155.3L1468.2 1154.8L1469.6 1154.2L1470.9 1153.7L1472.3 1153.2L1473.6 1152.7L1475.0 1152.2L1476.3 1151.7L1477.7 1151.2L1479.0 1150.7L1480.4 1150.2L1481.7 1149.8L1483.1 1149.3L1484.5 1148.8L1485.8 1148.3L1487.2 1147.9L1488.5 1147.4L1489.9 1146.9L1491.2 1146.5L1492.6 1146.0L1493.9 1145.5L1495.3 1145.1L1496.6 1144.6L1498.0 1144.2L1499.3 1143.7L1500.7 1143.2L1502.1 1142.8L1503.4 1142.3L1504.8 1141.9L1506.1 1141.4L1507.5 1141.0L1508.8 1140.5L1510.2 1140.1L1511.5 1139.6L1512.9 1139.2L1514.2 1138.8L1515.6 1138.3L1516.9 1137.9L1518.3 1137.5L1519.7 1137.1L1521.0 1136.7L1522.4 1136.2L1523.7 1135.8L1525.1 1135.4L1526.4 1135.0L1527.8 1134.7L1529.1 1134.3L1530.5 1133.9L1531.8 1133.5L1533.2 1133.2L1534.5 1132.8L1535.9 1132.5L1537.2 1132.1L1538.6 1131.8L1540.0 1131.5L1541.3 1131.1L1542.7 1130.8L1544.0 1130.5L1545.4 1130.2L1546.7 1129.9L1548.1 1129.6L1549.4 1129.3L1550.8 1129.0L1552.1 1128.8L1553.5 1128.5L1554.8 1128.2L1556.2 1127.9L1557.6 1127.7L1558.9 1127.4L1560.3 1127.2L1561.6 1126.9L1563.0 1126.6L1564.3 1126.4L1565.7 1126.1L1567.0 1125.9L1568.4 1125.6L1569.7 1125.4L1571.1 1125.2L1572.4 1124.9L1573.8 1124.7L1575.2 1124.4L1576.5 1124.2L1577.9 1123.9L1579.2 1123.7L1580.6 1123.5L1581.9 1123.2L1583.3 1123.0L1584.6 1122.7L1586.0 1122.5L1587.3 1122.2L1588.7 1122.0L1590.0 1121.7L1591.4 1121.5L1592.8 1121.2L1594.1 1121.0L1595.5 1120.7L1596.8 1120.5L1598.2 1120.2L1599.5 1120.0L1600.9 1119.7L1602.2 1119.5L1603.6 1119.2L1604.9 1119.0L1606.3 1118.7L1607.6 1118.5L1609.0 1118.2L1610.3 1118.0L1611.7 1117.7L1613.1 1117.5L1614.4 1117.3L1615.8 1117.0L1617.1 1116.8L1618.5 1116.5L1619.8 1116.3L1621.2 1116.0L1622.5 1115.8L1623.9 1115.5L1625.2 1115.3L1626.6 1115.1L1627.9 1114.8L1629.3 1114.6L1630.7 1114.3L1632.0 1114.1L1633.4 1113.9L1634.7 1113.6L1636.1 1113.4L1637.4 1113.2L1638.8 1112.9L1640.1 1112.7L1641.5 1112.4L1642.8 1112.2L1644.2 1112.0L1645.5 1111.7L1646.9 1111.5L1648.3 1111.2L1649.6 1111.0L1651.0 1110.8L1652.3 1110.5L1653.7 1110.3L1655.0 1110.0L1656.4 1109.8L1657.7 1109.5L1659.1 1109.3L1660.4 1109.0L1661.8 1108.8L1663.1 1108.6L1664.5 1108.3L1665.9 1108.1L1667.2 1107.8L1668.6 1107.6L1669.9 1107.3L1671.3 1107.1L1672.6 1106.8L1674.0 1106.6L1675.3 1106.3L1676.7 1106.1L1678.0 1105.8L1679.4 1105.6L1680.7 1105.3L1682.1 1105.1L1683.4 1104.8L1684.8 1104.6L1686.2 1104.4L1687.5 1104.1L1688.9 1103.9L1690.2 1103.6L1691.6 1103.4L1692.9 1103.2L1694.3 1102.9L1695.6 1102.7L1697.0 1102.5L1698.3 1102.2L1699.7 1102.0L1701.0 1101.8L1702.4 1101.5L1703.8 1101.3L1705.1 1101.1L1706.5 1100.9L1707.8 1100.7L1709.2 1100.4L1710.5 1100.2L1711.9 1100.0L1713.2 1099.8L1714.6 1099.6L1715.9 1099.4L1717.3 1099.2L1718.6 1099.0L1720.0 1098.8L1721.4 1098.6L1722.7 1098.4L1724.1 1098.2L1725.4 1098.0L1726.8 1097.8L1728.1 1097.6L1729.5 1097.4L1730.8 1097.3L1732.2 1097.1L1733.5 1096.9L1734.9 1096.7L1736.2 1096.6L1737.6 1096.4L1739.0 1096.3L1740.3 1096.1L1741.7 1095.9L1743.0 1095.8L1744.4 1095.6L1745.7 1095.5L1747.1 1095.3L1748.4 1095.2L1749.8 1095.0L1751.1 1094.9L1752.5 1094.7L1753.8 1094.6L1755.2 1094.5L1756.5 1094.3L1757.9 1094.2L1759.3 1094.0L1760.6 1093.9L1762.0 1093.7L1763.3 1093.6L1764.7 1093.5L1766.0 1093.3L1767.4 1093.2L1768.7 1093.1L1770.1 1092.9L1771.4 1092.8L1772.8 1092.7L1774.1 1092.6L1775.5 1092.4L1776.9 1092.3L1778.2 1092.2L1779.6 1092.1L1780.9 1091.9L1782.3 1091.8L1783.6 1091.7L1785.0 1091.6L1786.3 1091.5L1787.7 1091.4L1789.0 1091.3L1790.4 1091.2L1791.7 1091.0L1793.1 1090.9L1794.5 1090.8L1795.8 1090.7L1797.2 1090.6L1798.5 1090.5L1799.9 1090.4L1801.2 1090.3L1802.6 1090.3L1803.9 1090.2L1805.3 1090.1L1806.6 1090.0L1808.0 1089.9L1809.3 1089.8L1810.7 1089.7L1812.1 1089.7" fill="none" stroke="#0000ff" stroke-width="1.1"/>
<g fill="#0000ff"><path d="M1164.1 1492.6L1182.1 1492.6L1173.1 1508.2Z"/><path d="M1174.9 1492.6L1192.9 1492.6L1183.9 1508.2Z"/><path d="M1185.8 1442.2L1203.8 1442.2L1194.8 1457.8Z"/><path d="M1196.6 1397.7L1214.6 1397.7L1205.6 1413.3Z"/><path d="M1207.4 1353.3L1225.4 1353.3L1216.4 1368.9Z"/><path d="M1218.2 1319.2L1236.2 1319.2L1227.2 1334.8Z"/><path d="M1229.1 1295.2L1247.1 1295.2L1238.1 1310.8Z"/><path d="M1239.9 1277.4L1257.9 1277.4L1248.9 1293.0Z"/><path d="M1250.7 1263.5L1268.7 1263.5L1259.7 1279.1Z"/><path d="M1261.6 1253.4L1279.6 1253.4L1270.6 1269.0Z"/><path d="M1272.4 1241.8L1290.4 1241.8L1281.4 1257.4Z"/><path d="M1283.2 1233.2L1301.2 1233.2L1292.2 1248.8Z"/><path d="M1294.1 1224.3L1312.1 1224.3L1303.1 1239.9Z"/><path d="M1304.9 1216.6L1322.9 1216.6L1313.9 1232.2Z"/><path d="M1315.7 1208.9L1333.7 1208.9L1324.7 1224.5Z"/><path d="M1326.5 1202.7L1344.5 1202.7L1335.5 1218.3Z"/><path d="M1337.4 1196.2L1355.4 1196.2L1346.4 1211.8Z"/><path d="M1348.2 1191.4L1366.2 1191.4L1357.2 1207.0Z"/><path d="M1359.0 1186.1L1377.0 1186.1L1368.0 1201.7Z"/><path d="M1369.9 1181.1L1387.9 1181.1L1378.9 1196.7Z"/><path d="M1380.7 1176.0L1398.7 1176.0L1389.7 1191.6Z"/><path d="M1391.5 1171.0L1409.5 1171.0L1400.5 1186.6Z"/><path d="M1402.4 1167.1L1420.4 1167.1L1411.4 1182.7Z"/><path d="M1413.2 1163.3L1431.2 1163.3L1422.2 1178.9Z"/><path d="M1424.0 1159.7L1442.0 1159.7L1433.0 1175.3Z"/><path d="M1434.8 1155.8L1452.8 1155.8L1443.8 1171.4Z"/><path d="M1445.7 1152.0L1463.7 1152.0L1454.7 1167.6Z"/><path d="M1456.5 1148.0L1474.5 1148.0L1465.5 1163.6Z"/><path d="M1467.3 1143.9L1485.3 1143.9L1476.3 1159.5Z"/><path d="M1478.2 1140.1L1496.2 1140.1L1487.2 1155.7Z"/><path d="M1489.0 1136.4L1507.0 1136.4L1498.0 1152.0Z"/><path d="M1499.8 1132.7L1517.8 1132.7L1508.8 1148.3Z"/><path d="M1510.7 1129.3L1528.7 1129.3L1519.7 1144.9Z"/><path d="M1521.5 1126.1L1539.5 1126.1L1530.5 1141.7Z"/><path d="M1532.3 1123.3L1550.3 1123.3L1541.3 1138.9Z"/><path d="M1543.1 1121.0L1561.1 1121.0L1552.1 1136.6Z"/><path d="M1554.0 1118.8L1572.0 1118.8L1563.0 1134.4Z"/><path d="M1564.8 1116.9L1582.8 1116.9L1573.8 1132.5Z"/><path d="M1575.6 1114.9L1593.6 1114.9L1584.6 1130.5Z"/><path d="M1586.5 1112.9L1604.5 1112.9L1595.5 1128.5Z"/><path d="M1597.3 1110.9L1615.3 1110.9L1606.3 1126.5Z"/><path d="M1608.1 1109.0L1626.1 1109.0L1617.1 1124.6Z"/><path d="M1618.9 1107.0L1636.9 1107.0L1627.9 1122.6Z"/><path d="M1629.8 1105.1L1647.8 1105.1L1638.8 1120.7Z"/><path d="M1640.6 1103.2L1658.6 1103.2L1649.6 1118.8Z"/><path d="M1651.4 1101.2L1669.4 1101.2L1660.4 1116.8Z"/><path d="M1662.3 1099.3L1680.3 1099.3L1671.3 1114.9Z"/><path d="M1673.1 1097.3L1691.1 1097.3L1682.1 1112.9Z"/><path d="M1683.9 1095.4L1701.9 1095.4L1692.9 1111.0Z"/><path d="M1694.8 1093.5L1712.8 1093.5L1703.8 1109.1Z"/><path d="M1705.6 1091.8L1723.6 1091.8L1714.6 1107.4Z"/><path d="M1716.4 1090.2L1734.4 1090.2L1725.4 1105.8Z"/><path d="M1727.2 1088.8L1745.2 1088.8L1736.2 1104.4Z"/><path d="M1738.1 1087.5L1756.1 1087.5L1747.1 1103.1Z"/><path d="M1748.9 1086.4L1766.9 1086.4L1757.9 1102.0Z"/><path d="M1759.7 1085.3L1777.7 1085.3L1768.7 1100.9Z"/><path d="M1770.6 1084.3L1788.6 1084.3L1779.6 1099.9Z"/><path d="M1781.4 1083.4L1799.4 1083.4L1790.4 1099.0Z"/><path d="M1792.2 1082.5L1810.2 1082.5L1801.2 1098.1Z"/><path d="M1803.1 1081.9L1821.1 1081.9L1812.1 1097.5Z"/></g>
<path d="M1173.1 1500.4L1174.5 1492.1L1175.8 1483.8L1177.2 1475.5L1178.5 1467.3L1179.9 1459.1L1181.2 1450.9L1182.6 1442.7L1183.9 1434.6L1185.3 1426.4L1186.6 1418.3L1188.0 1410.2L1189.3 1402.1L1190.7 1394.0L1192.0 1386.0L1193.4 1378.1L1194.7 1370.2L1196.1 1362.3L1197.4 1354.4L1198.8 1346.5L1200.1 1338.6L1201.5 1330.9L1202.8 1323.4L1204.2 1316.1L1205.5 1309.2L1206.9 1302.5L1208.2 1296.0L1209.6 1289.7L1210.9 1283.5L1212.3 1277.5L1213.6 1271.8L1215.0 1266.4L1216.3 1261.2L1217.7 1256.2L1219.0 1251.4L1220.4 1246.7L1221.7 1242.2L1223.1 1237.9L1224.4 1233.8L1225.8 1230.0L1227.1 1226.3L1228.5 1222.9L1229.8 1219.6L1231.2 1216.5L1232.5 1213.5L1233.9 1210.6L1235.2 1207.9L1236.6 1205.3L1237.9 1202.8L1239.3 1200.4L1240.6 1198.2L1242.0 1196.1L1243.3 1194.0L1244.7 1192.1L1246.0 1190.2L1247.4 1188.3L1248.7 1186.5L1250.1 1184.6L1251.4 1182.9L1252.8 1181.1L1254.1 1179.5L1255.5 1177.8L1256.8 1176.2L1258.2 1174.7L1259.5 1173.2L1260.9 1171.8L1262.2 1170.5L1263.6 1169.2L1264.9 1167.9L1266.3 1166.7L1267.6 1165.5L1269.0 1164.3L1270.3 1163.2L1271.7 1162.0L1273.0 1160.9L1274.4 1159.9L1275.7 1158.8L1277.1 1157.8L1278.4 1156.8L1279.8 1155.8L1281.1 1154.8L1282.5 1153.7L1283.8 1152.7L1285.2 1151.7L1286.5 1150.8L1287.9 1149.8L1289.2 1148.9L1290.6 1147.9L1291.9 1147.1L1293.3 1146.2L1294.6 1145.4L1296.0 1144.6L1297.3 1143.8L1298.7 1143.1L1300.0 1142.3L1301.4 1141.6L1302.7 1140.8L1304.1 1140.1L1305.4 1139.4L1306.8 1138.7L1308.1 1138.0L1309.5 1137.4L1310.8 1136.7L1312.2 1136.0L1313.5 1135.3L1314.9 1134.6L1316.2 1133.8L1317.6 1133.0L1318.9 1132.2L1320.3 1131.4L1321.6 1130.6L1323.0 1129.9L1324.3 1129.3L1325.7 1128.7L1327.0 1128.2L1328.4 1127.7L1329.7 1127.2L1331.1 1126.7L1332.4 1126.2L1333.8 1125.7L1335.1 1125.2L1336.5 1124.6L1337.8 1124.0L1339.2 1123.4L1340.5 1122.8L1341.9 1122.1L1343.2 1121.5L1344.6 1120.9L1345.9 1120.4L1347.3 1119.9L1348.6 1119.4L1350.0 1119.0L1351.3 1118.6L1352.7 1118.1L1354.0 1117.7L1355.4 1117.3L1356.7 1116.8L1358.1 1116.3L1359.4 1115.8L1360.8 1115.3L1362.1 1114.8L1363.5 1114.4L1364.8 1113.9L1366.2 1113.4L1367.5 1113.0L1368.9 1112.5L1370.2 1112.1L1371.6 1111.7L1372.9 1111.4L1374.3 1111.0L1375.6 1110.6L1377.0 1110.2L1378.3 1109.8L1379.7 1109.4L1381.0 1109.1L1382.4 1108.7L1383.7 1108.3L1385.1 1107.9L1386.4 1107.5L1387.8 1107.1L1389.1 1106.7L1390.5 1106.3L1391.8 1105.9L1393.2 1105.5L1394.5 1105.0L1395.9 1104.6L1397.2 1104.2L1398.6 1103.8L1399.9 1103.3L1401.3 1102.9L1402.6 1102.5L1404.0 1102.1L1405.3 1101.7L1406.7 1101.3L1408.0 1100.9L1409.4 1100.6L1410.7 1100.2L1412.1 1099.9L1413.4 1099.6L1414.8 1099.3L1416.1 1099.0L1417.5 1098.7L1418.8 1098.4L1420.2 1098.1L1421.5 1097.8L1422.9 1097.5L1424.2 1097.2L1425.6 1096.8L1426.9 1096.5L1428.3 1096.2L1429.6 1095.8L1431.0 1095.5L1432.3 1095.2L1433.7 1094.9L1435.0 1094.6L1436.4 1094.3L1437.7 1094.0L1439.1 1093.7L1440.4 1093.4L1441.8 1093.1L1443.1 1092.8L1444.5 1092.4L1445.8 1092.0L1447.2 1091.6L1448.5 1091.2L1449.9 1090.8L1451.2 1090.4L1452.6 1090.0L1453.9 1089.7L1455.3 1089.3L1456.6 1089.0L1458.0 1088.6L1459.3 1088.3L1460.7 1088.0L1462.0 1087.7L1463.4 1087.4L1464.7 1087.1L1466.1 1086.8L1467.4 1086.5L1468.8 1086.2L1470.1 1085.9L1471.5 1085.6L1472.8 1085.3L1474.2 1085.0L1475.5 1084.7L1476.9 1084.5L1478.2 1084.2L1479.6 1083.9L1480.9 1083.6L1482.3 1083.3L1483.6 1083.0L1485.0 1082.7L1486.3 1082.4L1487.7 1082.1L1489.0 1081.7L1490.4 1081.4L1491.7 1081.1L1493.1 1080.8L1494.4 1080.5L1495.8 1080.1L1497.1 1079.8L1498.5 1079.5L1499.8 1079.2L1501.2 1078.8L1502.5 1078.5L1503.9 1078.2L1505.2 1077.8L1506.6 1077.5L1507.9 1077.2L1509.3 1076.8L1510.6 1076.5L1512.0 1076.2L1513.3 1075.8L1514.7 1075.5L1516.0 1075.2L1517.4 1074.9L1518.7 1074.5L1520.1 1074.2L1521.4 1073.9L1522.8 1073.6L1524.1 1073.3L1525.5 1072.9L1526.8 1072.6L1528.2 1072.3L1529.5 1072.0L1530.9 1071.7L1532.2 1071.4L1533.6 1071.1L1534.9 1070.8L1536.3 1070.5L1537.6 1070.2L1539.0 1069.9L1540.3 1069.7L1541.7 1069.4L1543.0 1069.1L1544.4 1068.8L1545.7 1068.6L1547.1 1068.3L1548.4 1068.1L1549.8 1067.8L1551.1 1067.5L1552.5 1067.3L1553.8 1067.0L1555.2 1066.8L1556.5 1066.6L1557.9 1066.3L1559.2 1066.1L1560.6 1065.8L1561.9 1065.6L1563.3 1065.4L1564.6 1065.1L1566.0 1064.9L1567.3 1064.6L1568.7 1064.4L1570.0 1064.2L1571.4 1063.9L1572.7 1063.7L1574.1 1063.5L1575.4 1063.2L1576.8 1063.0L1578.1 1062.7L1579.5 1062.5L1580.8 1062.2L1582.2 1062.0L1583.5 1061.8L1584.9 1061.5L1586.2 1061.2L1587.6 1061.0L1588.9 1060.7L1590.3 1060.5L1591.6 1060.2L1593.0 1059.9L1594.3 1059.7L1595.7 1059.4L1597.0 1059.1L1598.4 1058.8L1599.7 1058.5L1601.1 1058.2L1602.4 1057.9L1603.8 1057.7L1605.1 1057.4L1606.5 1057.1L1607.8 1056.8L1609.2 1056.5L1610.5 1056.2L1611.9 1055.8L1613.2 1055.5L1614.6 1055.2L1615.9 1054.9L1617.3 1054.6L1618.6 1054.3L1620.0 1054.0L1621.3 1053.7L1622.7 1053.4L1624.0 1053.1L1625.4 1052.8L1626.7 1052.5L1628.1 1052.2L1629.4 1051.9L1630.8 1051.7L1632.1 1051.4L1633.5 1051.1L1634.8 1050.8L1636.2 1050.5L1637.5 1050.3L1638.9 1050.0L1640.2 1049.7L1641.6 1049.5L1642.9 1049.2L1644.3 1049.0L1645.6 1048.7L1647.0 1048.4L1648.3 1048.2L1649.7 1047.9L1651.0 1047.7L1652.4 1047.4L1653.7 1047.2L1655.1 1046.9L1656.4 1046.7L1657.8 1046.4L1659.1 1046.2L1660.5 1045.9L1661.8 1045.7L1663.2 1045.5L1664.5 1045.2L1665.9 1045.0L1667.2 1044.7L1668.6 1044.5L1669.9 1044.3L1671.3 1044.0L1672.6 1043.8L1674.0 1043.5L1675.3 1043.3L1676.7 1043.1L1678.0 1042.8L1679.4 1042.6L1680.7 1042.4L1682.1 1042.1L1683.4 1041.9L1684.8 1041.7L1686.1 1041.4L1687.5 1041.2L1688.8 1041.0L1690.2 1040.8L1691.5 1040.5L1692.9 1040.3L1694.2 1040.1L1695.6 1039.9L1696.9 1039.6L1698.3 1039.4L1699.6 1039.2L1701.0 1039.0L1702.3 1038.7L1703.7 1038.5L1705.0 1038.3L1706.4 1038.1L1707.7 1037.9L1709.1 1037.6L1710.4 1037.4L1711.8 1037.2L1713.1 1037.0L1714.5 1036.8L1715.8 1036.5L1717.2 1036.3L1718.5 1036.1L1719.9 1035.9L1721.2 1035.7L1722.6 1035.5L1723.9 1035.2L1725.3 1035.0L1726.6 1034.8L1728.0 1034.6L1729.3 1034.4L1730.7 1034.2L1732.0 1034.0L1733.4 1033.8L1734.7 1033.5L1736.1 1033.3L1737.4 1033.1L1738.8 1032.9L1740.1 1032.7L1741.5 1032.5L1742.8 1032.3L1744.2 1032.1L1745.5 1031.9L1746.9 1031.7L1748.2 1031.4L1749.6 1031.2L1750.9 1031.0L1752.3 1030.8L1753.6 1030.6L1755.0 1030.4L1756.3 1030.2L1757.7 1030.0L1759.0 1029.8L1760.4 1029.6L1761.7 1029.4L1763.1 1029.2L1764.4 1029.0L1765.8 1028.8L1767.1 1028.6L1768.5 1028.4L1769.8 1028.2L1771.2 1028.0L1772.5 1027.8L1773.9 1027.6L1775.2 1027.4L1776.6 1027.2L1777.9 1027.0L1779.3 1026.8L1780.6 1026.6L1782.0 1026.4L1783.3 1026.2L1784.7 1026.0L1786.0 1025.8L1787.4 1025.6L1788.7 1025.4L1790.1 1025.2L1791.4 1025.1L1792.8 1024.9L1794.1 1024.7L1795.5 1024.5L1796.8 1024.3L1798.2 1024.1L1799.5 1023.9L1800.9 1023.7L1802.2 1023.5L1803.6 1023.3L1804.9 1023.2L1806.3 1023.0L1807.6 1022.8L1809.0 1022.6L1810.3 1022.4L1811.7 1022.2L1813.0 1022.1L1814.4 1021.9L1815.7 1021.7L1817.1 1021.5L1818.4 1021.3L1819.8 1021.1L1821.1 1021.0" fill="none" stroke="#ff00ff" stroke-width="1.1"/>
<g fill="#ff00ff"><path d="M1183.9 1425.3L1193.2 1434.6L1183.9 1443.9L1174.6 1434.6Z"/><path d="M1194.7 1360.9L1204.0 1370.2L1194.7 1379.5L1185.4 1370.2Z"/><path d="M1205.5 1299.9L1214.8 1309.2L1205.5 1318.5L1196.2 1309.2Z"/><path d="M1216.3 1251.9L1225.6 1261.2L1216.3 1270.5L1207.0 1261.2Z"/><path d="M1227.1 1217.0L1236.4 1226.3L1227.1 1235.6L1217.8 1226.3Z"/><path d="M1237.9 1193.5L1247.2 1202.8L1237.9 1212.1L1228.6 1202.8Z"/><path d="M1248.7 1177.2L1258.0 1186.5L1248.7 1195.8L1239.4 1186.5Z"/><path d="M1259.5 1163.9L1268.8 1173.2L1259.5 1182.5L1250.2 1173.2Z"/><path d="M1270.3 1153.9L1279.6 1163.2L1270.3 1172.5L1261.0 1163.2Z"/><path d="M1281.1 1145.5L1290.4 1154.8L1281.1 1164.1L1271.8 1154.8Z"/><path d="M1291.9 1137.8L1301.2 1147.1L1291.9 1156.4L1282.6 1147.1Z"/><path d="M1302.7 1131.5L1312.0 1140.8L1302.7 1150.1L1293.4 1140.8Z"/><path d="M1313.5 1126.0L1322.8 1135.3L1313.5 1144.6L1304.2 1135.3Z"/><path d="M1324.3 1120.0L1333.6 1129.3L1324.3 1138.6L1315.0 1129.3Z"/><path d="M1335.1 1115.9L1344.4 1125.2L1335.1 1134.5L1325.8 1125.2Z"/><path d="M1345.9 1111.1L1355.2 1120.4L1345.9 1129.7L1336.6 1120.4Z"/><path d="M1356.7 1107.5L1366.0 1116.8L1356.7 1126.1L1347.4 1116.8Z"/><path d="M1367.5 1103.7L1376.8 1113.0L1367.5 1122.3L1358.2 1113.0Z"/><path d="M1378.3 1100.5L1387.6 1109.8L1378.3 1119.1L1369.0 1109.8Z"/><path d="M1389.1 1097.4L1398.4 1106.7L1389.1 1116.0L1379.8 1106.7Z"/><path d="M1399.9 1094.0L1409.2 1103.3L1399.9 1112.6L1390.6 1103.3Z"/><path d="M1410.7 1090.9L1420.0 1100.2L1410.7 1109.5L1401.4 1100.2Z"/><path d="M1421.5 1088.5L1430.8 1097.8L1421.5 1107.1L1412.2 1097.8Z"/><path d="M1432.3 1085.9L1441.6 1095.2L1432.3 1104.5L1423.0 1095.2Z"/><path d="M1443.1 1083.5L1452.4 1092.8L1443.1 1102.1L1433.8 1092.8Z"/><path d="M1453.9 1080.4L1463.2 1089.7L1453.9 1099.0L1444.6 1089.7Z"/><path d="M1464.7 1077.8L1474.0 1087.1L1464.7 1096.4L1455.4 1087.1Z"/><path d="M1475.5 1075.4L1484.8 1084.7L1475.5 1094.0L1466.2 1084.7Z"/><path d="M1486.3 1073.1L1495.6 1082.4L1486.3 1091.7L1477.0 1082.4Z"/><path d="M1497.1 1070.5L1506.4 1079.8L1497.1 1089.1L1487.8 1079.8Z"/><path d="M1507.9 1067.9L1517.2 1077.2L1507.9 1086.5L1498.6 1077.2Z"/><path d="M1518.7 1065.2L1528.0 1074.5L1518.7 1083.8L1509.4 1074.5Z"/><path d="M1529.5 1062.7L1538.8 1072.0L1529.5 1081.3L1520.2 1072.0Z"/><path d="M1540.3 1060.4L1549.6 1069.7L1540.3 1079.0L1531.0 1069.7Z"/><path d="M1551.1 1058.2L1560.4 1067.5L1551.1 1076.8L1541.8 1067.5Z"/><path d="M1561.9 1056.3L1571.2 1065.6L1561.9 1074.9L1552.6 1065.6Z"/><path d="M1572.7 1054.4L1582.0 1063.7L1572.7 1073.0L1563.4 1063.7Z"/><path d="M1583.5 1052.5L1592.8 1061.8L1583.5 1071.1L1574.2 1061.8Z"/><path d="M1594.3 1050.4L1603.6 1059.7L1594.3 1069.0L1585.0 1059.7Z"/><path d="M1605.1 1048.1L1614.4 1057.4L1605.1 1066.7L1595.8 1057.4Z"/><path d="M1615.9 1045.6L1625.2 1054.9L1615.9 1064.2L1606.6 1054.9Z"/><path d="M1626.7 1043.2L1636.0 1052.5L1626.7 1061.8L1617.4 1052.5Z"/><path d="M1637.5 1041.0L1646.8 1050.3L1637.5 1059.6L1628.2 1050.3Z"/><path d="M1648.3 1038.9L1657.6 1048.2L1648.3 1057.5L1639.0 1048.2Z"/><path d="M1659.1 1036.9L1668.4 1046.2L1659.1 1055.5L1649.8 1046.2Z"/><path d="M1669.9 1035.0L1679.2 1044.3L1669.9 1053.6L1660.6 1044.3Z"/><path d="M1680.7 1033.1L1690.0 1042.4L1680.7 1051.7L1671.4 1042.4Z"/><path d="M1691.5 1031.2L1700.8 1040.5L1691.5 1049.8L1682.2 1040.5Z"/><path d="M1702.3 1029.4L1711.6 1038.7L1702.3 1048.0L1693.0 1038.7Z"/><path d="M1713.1 1027.7L1722.4 1037.0L1713.1 1046.3L1703.8 1037.0Z"/><path d="M1723.9 1025.9L1733.2 1035.2L1723.9 1044.5L1714.6 1035.2Z"/><path d="M1734.7 1024.2L1744.0 1033.5L1734.7 1042.8L1725.4 1033.5Z"/><path d="M1745.5 1022.6L1754.8 1031.9L1745.5 1041.2L1736.2 1031.9Z"/><path d="M1756.3 1020.9L1765.6 1030.2L1756.3 1039.5L1747.0 1030.2Z"/><path d="M1767.1 1019.3L1776.4 1028.6L1767.1 1037.9L1757.8 1028.6Z"/><path d="M1777.9 1017.7L1787.2 1027.0L1777.9 1036.3L1768.6 1027.0Z"/><path d="M1788.7 1016.1L1798.0 1025.4L1788.7 1034.7L1779.4 1025.4Z"/><path d="M1799.5 1014.6L1808.8 1023.9L1799.5 1033.2L1790.2 1023.9Z"/><path d="M1810.3 1013.1L1819.6 1022.4L1810.3 1031.7L1801.0 1022.4Z"/><path d="M1821.1 1011.7L1830.4 1021.0L1821.1 1030.3L1811.8 1021.0Z"/></g>
</g>
<path d="M1254.0 1500.4V1493.8M1254.0 899.9V906.5M1334.9 1500.4V1487.8M1334.9 899.9V912.5M1415.7 1500.4V1493.8M1415.7 899.9V906.5M1496.6 1500.4V1487.8M1496.6 899.9V912.5M1577.5 1500.4V1493.8M1577.5 899.9V906.5M1658.4 1500.4V1487.8M1658.4 899.9V912.5M1739.3 1500.4V1493.8M1739.3 899.9V906.5M1820.1 1500.4V1487.8M1820.1 899.9V912.5M1901.0 1500.4V1493.8M1901.0 899.9V906.5M1173.1 1440.4H1179.7M1981.9 1440.4H1975.3M1173.1 1380.3H1185.7M1981.9 1380.3H1969.3M1173.1 1320.2H1179.7M1981.9 1320.2H1975.3M1173.1 1260.2H1185.7M1981.9 1260.2H1969.3M1173.1 1200.2H1179.7M1981.9 1200.2H1975.3M1173.1 1140.1H1185.7M1981.9 1140.1H1969.3M1173.1 1080.0H1179.7M1981.9 1080.0H1975.3M1173.1 1020.0H1185.7M1981.9 1020.0H1969.3M1173.1 959.9H1179.7M1981.9 959.9H1975.3" stroke="#000" stroke-width="2.6" fill="none"/>
<rect x="1173.1" y="899.9" width="808.8" height="600.5" fill="none" stroke="#000" stroke-width="2.7"/>
<g font-family="Liberation Serif, serif" font-size="42.0"><text transform="translate(1173.1 1544.4) scale(0.96 1)" text-anchor="middle">0</text><text transform="translate(1334.9 1544.4) scale(0.96 1)" text-anchor="middle">5</text><text transform="translate(1496.6 1544.4) scale(0.96 1)" text-anchor="middle">10</text><text transform="translate(1658.4 1544.4) scale(0.96 1)" text-anchor="middle">15</text><text transform="translate(1820.1 1544.4) scale(0.96 1)" text-anchor="middle">20</text><text transform="translate(1981.9 1544.4) scale(0.96 1)" text-anchor="middle">25</text><text transform="translate(1159.6 1512.6) scale(0.96 1)" text-anchor="end">0</text><text transform="translate(1159.6 1392.5) scale(0.96 1)" text-anchor="end">50</text><text transform="translate(1159.6 1272.4) scale(0.96 1)" text-anchor="end">100</text><text transform="translate(1159.6 1152.3) scale(0.96 1)" text-anchor="end">150</text><text transform="translate(1159.6 1032.2) scale(0.96 1)" text-anchor="end">200</text><text transform="translate(1159.6 912.1) scale(0.96 1)" text-anchor="end">250</text></g>
<g font-family="Liberation Serif, serif" font-size="26.1"><path d="M1701 1342.7H1761" stroke="#000000" stroke-width="1.2"/><g fill="#000000"><rect x="1724.8" y="1336.2" width="13.0" height="13.0"/></g><text x="1768.3" y="1351.7">Unreinforced loess</text><path d="M1701 1375.2H1761" stroke="#ff0000" stroke-width="1.2"/><g fill="#ff0000"><circle cx="1731.3" cy="1375.2" r="7.3"/></g><text x="1767.3" y="1384.2"><tspan font-style="italic">FL</tspan>=4 mm</text><path d="M1701 1408.2H1761" stroke="#00ff00" stroke-width="1.2"/><g fill="#00ff00"><path d="M1731.3 1400.4L1740.3 1416.0L1722.3 1416.0Z"/></g><text x="1767.3" y="1417.2"><tspan font-style="italic">FL</tspan>=8 mm</text><path d="M1701 1440.5H1761" stroke="#0000ff" stroke-width="1.2"/><g fill="#0000ff"><path d="M1722.3 1432.7L1740.3 1432.7L1731.3 1448.3Z"/></g><text x="1767.3" y="1449.5"><tspan font-style="italic">FL</tspan>=12 mm</text><path d="M1701 1473H1761" stroke="#ff00ff" stroke-width="1.2"/><g fill="#ff00ff"><path d="M1731.3 1463.7L1740.6 1473.0L1731.3 1482.3L1722.0 1473.0Z"/></g><text x="1767.3" y="1482.0"><tspan font-style="italic">FL</tspan>=16 mm</text></g>
<text x="1514.7" y="1587.7" font-family="Liberation Serif, serif" font-size="52"><tspan font-style="italic">ε</tspan><tspan font-size="35" dy="16.5">a</tspan><tspan dy="-16.5"> (%)</tspan></text>
<text transform="translate(1084.4 1197.2) rotate(-90)" text-anchor="middle" font-family="Liberation Serif, serif" font-size="52.5"><tspan font-style="italic">q</tspan> (kPa)</text>
<text x="1548.3" y="1684.2" font-family="Noto Sans CJK SC, sans-serif" font-weight="350" font-size="61">d)</text>
</svg></body></html>
